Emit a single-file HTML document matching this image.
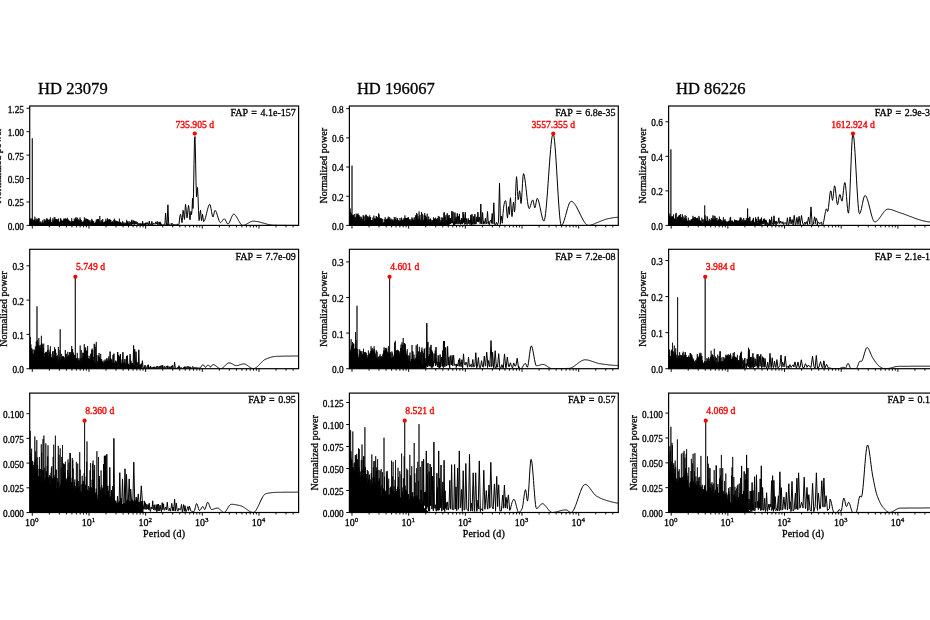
<!DOCTYPE html>
<html lang="en"><head><meta charset="utf-8"><title>Periodograms</title>
<style>
html,body{margin:0;padding:0;background:#fff;}
body{width:930px;height:620px;overflow:hidden;}
svg{display:block;font-family:"Liberation Serif", "DejaVu Serif", serif;}
text{fill:#000;stroke:#000;stroke-width:0.3px;}
text.r{fill:#f00;stroke:#f00;stroke-width:0.35px;}
</style></head><body>

<svg width="930" height="620" viewBox="0 0 930 620">
<rect width="930" height="620" fill="#fff"/>
<text x="38.1" y="94.1" font-size="16.6" style="stroke-width:0.3px">HD 23079</text>
<text x="356.9" y="94.1" font-size="16.6" style="stroke-width:0.3px">HD 196067</text>
<text x="676.0" y="94.1" font-size="16.6" style="stroke-width:0.3px">HD 86226</text>
<g>
<clipPath id="c00"><rect x="29.70" y="106.00" width="268.90" height="119.40"/></clipPath>
<path d="M29.7 225.4L29.7 220.9L30.6 220.6L31.3 221.1L32.2 220.8L33.1 221.1L34.0 221.5L35.0 221.2L35.9 221.2L36.7 221.2L37.4 221.5L38.4 222.1L39.3 222.9L40.0 223.3L40.8 223.6L41.7 223.6L42.7 223.8L43.3 223.9L44.0 223.3L44.6 222.8L45.4 222.2L46.4 221.6L47.1 221.3L48.1 221.0L48.9 221.8L49.5 222.0L50.4 222.5L51.4 222.9L52.3 223.5L53.3 223.0L54.3 220.8L55.3 220.5L56.2 219.8L57.0 220.8L57.7 221.9L58.5 222.1L59.3 222.6L60.3 222.5L61.1 222.1L62.1 222.0L63.0 221.5L63.9 220.5L64.7 220.2L65.3 220.4L66.1 220.4L66.9 220.4L67.8 220.0L68.4 221.4L69.3 222.2L70.0 222.0L70.8 221.9L71.6 222.3L72.4 222.7L73.4 222.0L74.5 221.5L75.2 220.8L75.8 221.4L76.6 220.8L77.4 221.1L78.2 222.1L79.1 222.3L79.8 222.4L80.5 222.3L81.3 223.0L81.9 223.0L82.7 222.6L83.6 221.8L84.5 220.9L85.3 220.5L86.0 220.4L87.0 221.1L87.9 221.5L88.6 221.2L89.6 222.0L90.5 222.6L91.6 221.9L92.7 221.5L93.4 222.1L94.0 223.0L94.8 223.6L95.7 223.2L96.7 221.6L97.4 221.2L98.3 220.6L99.3 222.5L100.4 223.7L101.5 223.7L102.1 223.5L102.8 223.5L103.5 223.3L104.5 223.1L105.3 221.8L106.1 221.4L106.7 221.3L107.4 221.0L108.4 221.0L109.0 221.1L109.9 221.0L110.8 221.3L111.8 222.6L112.4 223.0L113.4 223.3L114.2 222.9L114.8 222.5L115.7 222.0L116.4 221.9L117.0 222.7L117.8 222.8L118.5 223.2L119.6 223.2L120.4 223.5L121.3 223.5L122.3 223.9L123.0 223.8L124.1 224.0L124.8 224.2L125.6 224.1L126.3 224.1L127.1 224.4L128.0 224.4L128.7 224.5L129.4 224.6L130.3 224.6L131.3 224.5L132.1 224.8L132.7 224.9L133.6 225.2L134.2 225.3L134.2 225.4Z" fill="#000" stroke="none" clip-path="url(#c00)"/>
<path d="M30.0 225.1L30.0 218.0L30.0 225.3L30.4 224.4L30.4 220.0L30.4 225.3L30.8 224.6L30.8 219.1L30.8 224.1L31.2 224.6L31.2 220.0L31.2 224.0L31.7 224.4L31.7 218.5L31.8 225.2L32.3 225.0L32.3 138.3L32.3 224.9L32.7 224.4L32.7 218.9L32.7 224.3L33.1 224.6L33.1 220.7L33.2 224.2L33.6 224.4L33.6 219.9L33.7 225.2L34.0 224.7L34.1 220.5L34.1 224.9L34.5 224.9L34.5 219.9L34.5 225.3L34.9 224.9L34.9 216.7L35.0 224.3L35.4 224.5L35.4 221.3L35.5 225.0L35.9 224.3L35.9 218.9L36.0 225.1L36.4 225.3L36.5 220.5L36.5 224.7L36.9 225.0L36.9 218.5L37.0 224.1L37.3 224.8L37.3 220.9L37.4 224.9L37.7 224.6L37.8 219.3L37.8 224.9L38.2 224.3L38.3 219.2L38.3 224.7L38.7 224.6L38.7 218.2L38.7 224.5L39.1 225.2L39.1 218.4L39.2 224.6L39.5 225.3L39.6 222.4L39.6 224.9L40.0 224.9L40.1 223.2L40.1 225.3L40.5 225.3L40.5 221.6L40.6 224.9L41.0 225.1L41.0 223.0L41.1 225.2L41.4 225.3L41.4 223.8L41.5 225.3L41.8 225.0L41.9 221.7L41.9 225.3L42.3 225.4L42.3 223.0L42.4 225.4L42.7 225.2L42.7 220.3L42.8 225.0L43.1 225.4L43.2 222.6L43.2 225.2L43.6 224.9L43.6 223.2L43.7 225.1L44.1 225.2L44.1 219.1L44.1 225.0L44.5 224.6L44.6 220.6L44.6 225.2L45.0 224.8L45.0 221.0L45.1 224.9L45.4 224.9L45.5 221.4L45.5 224.9L45.9 225.2L45.9 219.6L45.9 225.0L46.3 225.1L46.3 220.7L46.3 224.8L46.7 225.1L46.7 218.3L46.8 224.5L47.1 224.9L47.2 219.9L47.2 224.7L47.6 225.0L47.6 218.8L47.7 225.3L48.0 224.8L48.1 219.7L48.1 224.9L48.4 224.7L48.5 220.4L48.5 224.4L48.9 224.2L48.9 221.1L49.0 225.3L49.4 224.9L49.4 220.0L49.5 225.2L49.9 224.5L49.9 219.1L49.9 225.0L50.3 225.4L50.4 217.4L50.4 225.1L50.8 225.0L50.8 219.7L50.9 225.4L51.3 224.9L51.3 222.9L51.3 225.1L51.7 225.2L51.7 222.0L51.8 225.1L52.2 225.1L52.3 222.9L52.3 224.8L52.7 224.8L52.8 218.4L52.8 224.9L53.2 224.9L53.2 220.4L53.3 224.6L53.6 224.4L53.7 221.2L53.7 224.3L54.0 224.2L54.1 217.5L54.1 224.5L54.4 224.0L54.5 221.0L54.5 224.2L54.9 224.9L54.9 217.2L55.0 223.9L55.3 225.1L55.4 219.4L55.4 224.4L55.7 224.0L55.8 219.0L55.8 225.2L56.1 224.0L56.2 219.3L56.2 224.1L56.6 224.9L56.7 219.1L56.7 225.1L57.2 225.3L57.2 219.7L57.2 224.9L57.6 225.0L57.6 219.6L57.6 224.6L58.0 224.8L58.0 221.3L58.1 225.1L58.5 225.4L58.5 218.6L58.5 224.9L58.9 224.7L59.0 221.8L59.0 225.0L59.4 224.9L59.5 221.9L59.5 224.5L59.9 224.6L60.0 221.9L60.0 225.0L60.4 225.0L60.4 218.3L60.5 224.8L60.9 224.4L60.9 218.6L61.0 224.6L61.4 224.7L61.4 220.3L61.5 225.2L61.9 224.6L61.9 220.5L62.0 224.9L62.4 224.5L62.4 221.0L62.5 225.1L62.8 224.7L62.8 221.4L62.9 225.0L63.2 224.2L63.3 220.1L63.3 225.1L63.7 224.5L63.8 218.6L63.8 224.4L64.1 224.2L64.2 219.4L64.2 224.1L64.5 223.8L64.6 219.4L64.6 223.9L65.0 225.3L65.0 218.6L65.1 224.4L65.5 224.6L65.5 218.4L65.6 223.6L65.9 223.6L66.0 218.8L66.0 225.1L66.4 224.9L66.5 219.1L66.5 224.6L66.9 224.2L66.9 219.1L67.0 223.8L67.4 225.1L67.4 217.8L67.5 225.3L67.9 224.8L67.9 220.2L68.0 224.8L68.4 225.2L68.4 219.6L68.4 225.1L68.9 224.4L68.9 220.8L69.0 224.2L69.4 225.0L69.4 220.7L69.4 224.7L69.8 225.1L69.8 221.7L69.9 224.4L70.3 224.6L70.4 221.8L70.4 224.5L70.8 224.6L70.8 221.4L70.9 224.5L71.3 224.8L71.3 222.3L71.3 224.8L71.7 225.4L71.7 218.2L71.7 225.3L72.1 224.6L72.1 221.8L72.1 225.3L72.5 225.2L72.5 221.6L72.6 225.0L72.9 224.8L72.9 220.9L73.0 224.8L73.4 224.7L73.4 221.4L73.5 224.7L73.8 224.3L73.9 221.1L73.9 225.1L74.3 224.2L74.3 218.6L74.3 224.5L74.7 224.5L74.8 219.8L74.8 224.0L75.2 225.1L75.2 219.8L75.2 224.0L75.6 224.4L75.6 218.0L75.7 224.7L76.1 225.1L76.1 217.1L76.2 225.2L76.6 224.2L76.6 219.5L76.6 225.2L77.0 224.3L77.0 219.6L77.0 224.7L77.5 225.2L77.5 217.8L77.5 224.4L78.0 225.2L78.0 220.2L78.1 224.8L78.4 224.7L78.5 219.4L78.5 224.6L78.9 225.0L79.0 222.3L79.0 224.5L79.4 224.6L79.5 220.3L79.5 224.4L79.9 224.7L80.0 217.5L80.0 224.6L80.4 225.2L80.4 219.0L80.4 225.1L80.8 224.7L80.8 222.1L80.9 225.1L81.3 225.0L81.3 220.0L81.4 224.8L81.8 225.4L81.9 222.1L81.9 224.6L82.3 224.9L82.4 221.7L82.4 225.1L82.9 225.1L82.9 222.4L82.9 225.1L83.4 225.0L83.4 221.5L83.5 225.3L83.9 224.8L83.9 220.6L84.0 225.1L84.4 225.0L84.4 217.4L84.4 224.6L84.8 225.2L84.8 220.1L84.9 224.3L85.3 225.0L85.4 219.7L85.4 224.1L85.8 224.4L85.8 218.4L85.9 225.0L86.3 224.6L86.3 218.9L86.4 224.6L86.8 224.7L86.9 219.0L86.9 224.2L87.3 224.9L87.4 219.0L87.4 223.8L87.8 225.0L87.9 219.3L87.9 224.0L88.3 224.3L88.4 220.2L88.4 224.1L88.9 224.5L88.9 220.4L88.9 224.3L89.3 225.1L89.4 221.2L89.4 225.4L89.9 224.6L89.9 220.1L90.0 224.7L90.4 224.9L90.4 222.2L90.4 224.8L90.8 225.2L90.9 222.0L90.9 224.4L91.3 225.1L91.3 220.9L91.3 224.9L91.7 224.8L91.8 218.9L91.8 225.2L92.3 224.8L92.3 220.2L92.4 225.1L92.8 225.1L92.8 221.1L92.9 224.9L93.2 225.4L93.3 221.6L93.3 224.5L93.7 224.5L93.7 221.2L93.7 225.2L94.2 224.9L94.3 223.1L94.3 225.3L94.7 224.9L94.7 222.9L94.8 225.1L95.3 224.9L95.3 223.3L95.3 225.2L95.7 225.4L95.8 221.7L95.8 225.3L96.2 224.9L96.3 219.5L96.3 225.1L96.7 224.2L96.7 221.3L96.7 224.9L97.1 225.4L97.1 219.5L97.2 223.9L97.6 224.7L97.7 219.1L97.7 224.3L98.2 225.2L98.2 219.1L98.2 224.1L98.6 224.4L98.7 219.4L98.7 224.0L99.1 225.3L99.1 221.4L99.2 225.1L99.8 225.0L99.8 216.0L99.8 225.2L100.3 224.8L100.4 222.8L100.4 224.9L100.8 225.2L100.9 220.7L100.9 224.9L101.3 225.2L101.3 222.6L101.3 225.1L101.7 225.0L101.8 220.1L101.8 225.3L102.2 225.4L102.3 221.2L102.3 225.2L102.7 225.2L102.7 219.0L102.7 224.9L103.1 225.1L103.1 222.9L103.2 225.0L103.6 224.9L103.6 222.0L103.6 224.7L104.0 225.2L104.1 223.0L104.1 225.4L104.5 224.8L104.5 222.1L104.6 225.1L104.9 224.9L105.0 221.4L105.0 225.3L105.4 225.3L105.5 220.7L105.5 224.7L105.9 225.0L105.9 218.8L106.0 224.1L106.4 225.3L106.5 220.9L106.5 224.6L107.0 225.4L107.0 221.0L107.0 225.0L107.4 224.0L107.5 218.3L107.5 224.5L108.0 224.4L108.0 219.7L108.0 225.0L108.4 225.1L108.5 219.6L108.5 224.1L108.9 225.0L109.0 220.7L109.0 224.0L109.4 224.0L109.5 219.2L109.5 224.0L109.9 225.2L110.0 219.7L110.0 224.5L110.4 224.3L110.4 219.9L110.4 224.1L110.8 224.6L110.8 220.0L110.9 224.8L111.4 224.5L111.4 222.0L111.4 224.7L111.9 224.8L111.9 222.7L112.0 224.7L112.4 225.3L112.4 221.2L112.5 225.1L112.9 224.9L112.9 221.9L112.9 224.9L113.4 224.9L113.5 222.8L113.5 225.1L113.9 224.8L113.9 220.1L113.9 225.3L114.3 225.3L114.4 218.7L114.4 225.3L114.8 225.2L114.9 219.9L114.9 224.9L115.4 225.4L115.4 221.6L115.5 224.6L115.9 224.5L115.9 220.7L116.0 224.5L116.3 224.5L116.4 221.3L116.4 224.6L116.9 224.8L116.9 221.0L116.9 225.2L117.4 225.4L117.4 221.6L117.5 225.0L117.9 225.2L118.0 221.4L118.0 224.9L118.4 225.3L118.5 222.2L118.5 225.0L118.9 225.2L118.9 222.0L119.0 225.0L119.3 224.8L119.4 218.6L119.4 225.0L119.9 225.3L119.9 222.3L120.0 225.1L120.4 225.0L120.5 221.9L120.5 225.0L121.0 225.3L121.0 222.4L121.1 225.1L121.6 224.9L121.6 223.4L121.6 225.3L122.1 225.2L122.1 223.3L122.1 224.9L122.6 225.4L122.6 221.0L122.7 225.3L123.3 224.9L123.3 223.2L123.3 225.3L123.9 225.4L124.0 222.1L124.0 225.1L124.6 225.3L124.7 223.6L124.7 225.4L125.2 225.2L125.3 223.3L125.3 225.2L125.9 225.3L125.9 222.5L126.0 225.0L126.6 225.0L126.6 219.8L126.6 225.3L127.1 224.8" fill="none" stroke="#000" stroke-width="0.72" stroke-linejoin="round" clip-path="url(#c00)"/>
<path d="M127.1 224.8L127.4 221.5L127.7 224.9L127.5 224.8L127.9 223.1L128.2 224.8L128.6 224.9L129.0 221.4L129.3 224.7L129.3 224.7L129.7 223.6L130.1 224.6L130.4 223.8L130.8 221.9L131.2 223.8L131.0 224.1L131.4 221.3L131.8 224.7L131.6 224.8L131.9 219.8L132.3 223.0L132.3 223.7L132.7 223.0L133.1 224.1L133.1 223.7L133.6 220.5L134.0 224.2L134.2 224.8L134.7 221.0L135.1 224.0L135.5 224.0L136.0 221.3L136.4 223.8L136.8 224.1L137.2 222.1L137.7 223.8L137.9 225.1L138.4 223.4L138.9 224.8L139.3 224.8L139.8 223.4L140.2 224.3L140.0 225.1L140.5 223.5L141.0 225.2L141.4 225.1L141.9 223.5L142.4 225.1L142.1 225.2L142.6 221.2L143.2 225.1L143.5 224.9L144.1 223.3L144.6 225.0L144.8 224.6L145.4 223.1L145.9 225.1L145.5 224.1L146.1 222.5L146.7 223.9L147.2 224.6L147.7 222.6L148.3 224.6L148.7 224.9L149.3 221.0L149.9 224.9L150.4 225.2L151.0 223.8L151.6 224.5L151.2 224.3L151.9 221.4L152.5 225.0L153.0 224.7L153.6 223.0L154.2 223.7L154.9 224.4L155.6 221.9L156.2 223.5L156.5 224.0L157.2 221.4L157.9 225.0L158.4 223.7L159.1 221.9L159.8 224.1L159.4 224.6L160.1 221.9L160.8 224.9L160.6 224.4L161.3 223.8L162.1 225.1L162.8 225.0L163.6 224.6L164.3 225.2L164.8 225.2L165.6 213.2L166.4 224.8L166.1 224.8L166.8 223.4L167.6 224.9L167.1 224.9L167.9 204.8L168.7 224.2L168.3 224.6L169.1 224.2L169.9 224.6L170.4 224.3L171.3 223.4L172.1 224.8L171.5 224.8L172.4 223.5L173.2 224.7L174.1 224.9L174.9 224.6L175.8 225.0L176.4 225.2L177.3 223.9L178.2 225.1L179.0 224.5L179.5 219.0L180.0 215.6L180.5 214.2L181.0 215.8L181.5 220.1L182.0 222.6L182.5 217.6L183.0 210.4L183.5 211.1L184.0 217.2L184.5 219.4L185.0 210.9L185.5 204.3L186.0 207.9L186.5 214.5L187.0 217.9L187.5 214.9L188.0 209.2L188.5 205.4L189.0 208.2L189.5 215.7L190.0 219.8L190.5 215.4L191.0 211.3L191.5 214.6L192.0 210.7L192.5 198.3L193.0 208.5L193.5 193.9L194.0 164.3L194.5 139.1L195.0 136.5L195.5 156.0L196.0 181.6L196.5 196.9L197.0 191.8L197.5 187.4L198.0 196.4L198.5 210.4L199.0 220.6L199.5 219.6L200.0 212.7L200.5 210.2L201.0 215.6L201.5 220.6L202.0 217.8L202.5 214.2L203.0 217.6L203.5 221.5L204.0 221.4L204.5 220.6L205.0 219.3L205.5 217.7L206.0 215.8L206.5 213.7L207.0 211.6L207.5 209.6L208.0 207.8L208.5 206.2L209.0 205.1L209.5 204.4L210.0 204.5L210.5 206.0L211.0 208.5L211.5 211.4L212.0 214.2L212.5 216.2L213.0 217.0L213.5 215.8L214.0 213.5L214.5 211.3L215.0 210.4L215.5 210.7L216.0 211.5L216.5 212.7L217.0 214.2L217.5 215.8L218.0 217.4L218.5 219.0L219.0 220.5L219.5 221.6L220.0 222.3L220.5 222.6L221.0 222.4L221.5 221.9L222.0 221.2L222.5 220.5L223.0 219.8L223.5 219.2L224.0 218.9L224.5 218.9L225.0 219.4L225.5 220.2L226.0 221.2L226.5 222.2L227.0 223.1L227.5 223.8L228.0 224.0L228.5 223.7L229.0 223.1L229.5 222.2L230.0 221.1L230.5 219.9L231.0 218.6L231.5 217.3L232.0 216.2L232.5 215.2L233.0 214.5L233.5 214.2L234.0 214.2L234.5 214.4L235.0 214.8L235.5 215.4L236.0 216.1L236.5 216.8L237.0 217.7L237.5 218.6L238.0 219.5L238.5 220.4L239.1 221.4L239.6 222.2L240.1 223.1L240.6 223.8L241.1 224.4L241.6 224.9L242.1 225.2L242.6 225.4L243.1 225.4L243.6 225.3L244.1 225.2L244.6 225.1L245.1 224.9L245.6 224.6L246.1 224.4L246.6 224.1L247.1 223.8L247.6 223.5L248.1 223.2L248.6 222.9L249.1 222.6L249.6 222.4L250.1 222.1L250.6 221.8L251.1 221.6L251.6 221.5L252.1 221.3L252.6 221.2L253.1 221.2L253.6 221.2L254.1 221.2L254.6 221.2L255.1 221.3L255.6 221.3L256.1 221.4L256.6 221.5L257.1 221.5L257.6 221.6L258.1 221.7L258.6 221.8L259.1 221.9L259.6 222.1L260.1 222.2L260.6 222.3L261.1 222.4L261.6 222.6L262.1 222.7L262.6 222.9L263.1 223.0L263.6 223.2L264.1 223.3L264.6 223.4L265.1 223.6L265.6 223.7L266.1 223.9L266.6 224.0L267.1 224.1L267.6 224.3L268.1 224.4L268.6 224.5L269.1 224.6L269.6 224.7L270.1 224.8L270.6 224.9L271.1 225.0L271.6 225.0L272.1 225.1L272.6 225.1L273.1 225.2L273.6 225.2L274.1 225.2L274.6 225.2L275.1 225.2L275.6 225.2L276.1 225.2L276.6 225.2L277.1 225.3L277.6 225.3L278.1 225.3L278.6 225.3L279.1 225.3L279.6 225.3L280.1 225.3L280.6 225.3L281.1 225.3L281.6 225.3L282.1 225.3L282.6 225.3L283.1 225.3L283.6 225.3L284.1 225.3L284.6 225.3L285.1 225.3L285.6 225.3L286.1 225.4L286.6 225.4L287.1 225.4L287.6 225.4L288.1 225.4L288.6 225.4L289.1 225.4L289.6 225.4L290.1 225.4L290.6 225.4L291.1 225.4L291.6 225.4L292.1 225.4L292.6 225.4L293.1 225.4L293.6 225.4L294.1 225.4L294.6 225.4L295.1 225.4L295.6 225.4L296.1 225.4L296.6 225.4L297.1 225.4L297.6 225.4L298.1 225.4L298.6 225.4" fill="none" stroke="#000" stroke-width="1.00" stroke-linejoin="round" clip-path="url(#c00)"/>
<rect x="29.70" y="106.00" width="268.90" height="119.40" fill="none" stroke="#000" stroke-width="1.20"/>
<text x="24.00" y="229.80" text-anchor="end" font-size="10.0" textLength="16.3" lengthAdjust="spacingAndGlyphs">0.00</text>
<text x="24.00" y="206.38" text-anchor="end" font-size="10.0" textLength="16.3" lengthAdjust="spacingAndGlyphs">0.25</text>
<text x="24.00" y="182.95" text-anchor="end" font-size="10.0" textLength="16.3" lengthAdjust="spacingAndGlyphs">0.50</text>
<text x="24.00" y="159.53" text-anchor="end" font-size="10.0" textLength="16.3" lengthAdjust="spacingAndGlyphs">0.75</text>
<text x="24.00" y="136.10" text-anchor="end" font-size="10.0" textLength="16.3" lengthAdjust="spacingAndGlyphs">1.00</text>
<text x="24.00" y="112.68" text-anchor="end" font-size="10.0" textLength="16.3" lengthAdjust="spacingAndGlyphs">1.25</text>
<path d="M29.70 225.40h-3.2M29.70 201.97h-3.2M29.70 178.55h-3.2M29.70 155.12h-3.2M29.70 131.70h-3.2M29.70 108.28h-3.2M32.29 225.40v3.2M49.35 225.40v2.0M59.33 225.40v2.0M66.41 225.40v2.0M71.91 225.40v2.0M76.39 225.40v2.0M80.19 225.40v2.0M83.47 225.40v2.0M86.37 225.40v2.0M88.97 225.40v3.2M106.03 225.40v2.0M116.01 225.40v2.0M123.09 225.40v2.0M128.58 225.40v2.0M133.07 225.40v2.0M136.86 225.40v2.0M140.15 225.40v2.0M143.05 225.40v2.0M145.64 225.40v3.2M162.70 225.40v2.0M172.68 225.40v2.0M179.76 225.40v2.0M185.25 225.40v2.0M189.74 225.40v2.0M193.53 225.40v2.0M196.82 225.40v2.0M199.72 225.40v2.0M202.31 225.40v3.2M219.37 225.40v2.0M229.35 225.40v2.0M236.43 225.40v2.0M241.93 225.40v2.0M246.41 225.40v2.0M250.21 225.40v2.0M253.49 225.40v2.0M256.39 225.40v2.0M258.99 225.40v3.2M276.05 225.40v2.0M286.03 225.40v2.0M293.11 225.40v2.0" stroke="#000" stroke-width="0.95" fill="none"/>
<text transform="translate(1.20 165.70) rotate(-90)" text-anchor="middle" font-size="10.0" style="letter-spacing:0.05px">Normalized power</text>
<text x="295.80" y="116.30" text-anchor="end" font-size="10.0" style="word-spacing:1.1px">FAP = 4.1e-157</text>
<circle cx="194.77" cy="133.55" r="2.1" fill="#f00"/>
<text x="194.77" y="127.95" text-anchor="middle" font-size="9.7" class="r">735.905 d</text>
</g>
<g>
<clipPath id="c10"><rect x="349.40" y="106.00" width="268.90" height="119.40"/></clipPath>
<path d="M349.4 225.4L349.4 215.7L350.1 216.3L351.2 216.9L351.9 218.2L352.7 219.9L353.6 219.6L354.6 219.4L355.5 219.9L356.5 217.8L357.6 214.9L358.3 215.1L359.4 217.8L360.4 220.0L361.4 221.2L362.2 221.3L363.1 221.8L363.9 221.6L364.7 221.8L365.4 222.4L366.1 222.0L366.9 221.5L367.5 220.7L368.3 219.8L369.4 219.6L370.4 220.0L371.4 220.7L372.0 221.5L372.9 222.1L373.6 222.4L374.4 221.2L375.1 220.0L375.9 218.9L376.6 218.4L377.6 218.4L378.4 219.4L379.4 218.3L380.2 220.6L380.9 222.6L381.7 222.9L382.7 223.4L383.4 223.1L384.3 222.9L385.3 221.9L386.3 220.6L387.3 220.5L388.4 221.2L389.2 220.5L390.0 220.4L390.9 220.8L391.7 221.2L392.6 221.8L393.3 221.9L393.9 222.2L394.9 221.5L395.7 221.6L396.7 222.2L397.5 222.3L398.2 222.7L399.2 223.3L400.2 223.0L401.3 222.1L402.2 221.3L403.1 221.0L404.1 219.0L405.2 218.8L406.3 220.0L406.9 220.3L407.5 220.1L408.3 220.6L409.2 220.8L410.1 221.2L411.1 221.7L411.9 221.3L412.8 221.5L413.9 221.8L414.8 221.2L415.7 220.4L416.6 220.0L417.6 219.9L418.5 219.5L419.1 219.7L420.1 220.9L420.9 221.7L421.5 222.2L422.2 222.5L423.1 221.1L423.8 220.4L424.5 218.2L425.3 218.6L426.3 218.7L427.1 219.6L428.0 221.8L428.8 222.5L429.8 222.6L430.7 222.8L431.7 222.3L432.5 221.4L433.5 220.7L434.3 219.9L434.9 218.6L435.8 220.3L436.6 222.4L437.6 223.5L438.6 223.6L439.5 223.8L440.3 223.4L441.3 222.6L442.2 222.2L443.3 222.0L444.3 222.9L445.0 222.9L445.8 223.7L446.6 224.3L447.4 224.8L448.4 225.2L449.2 225.3L449.2 225.4Z" fill="#000" stroke="none" clip-path="url(#c10)"/>
<path d="M349.7 223.6L349.7 211.2L349.7 225.3L350.1 222.7L350.2 208.5L350.2 222.8L350.6 223.9L350.6 212.5L350.6 222.7L351.0 223.7L351.1 215.4L351.1 224.2L351.4 224.1L351.5 213.1L351.5 223.9L352.0 225.3L352.0 165.6L352.0 222.9L352.5 223.9L352.5 215.1L352.5 224.4L352.9 223.8L352.9 216.0L352.9 225.3L353.4 224.5L353.4 214.9L353.4 224.5L353.9 223.8L353.9 216.9L353.9 224.6L354.3 224.3L354.3 214.0L354.4 224.9L354.8 224.2L354.9 218.2L354.9 224.3L355.2 224.1L355.2 218.3L355.3 224.2L355.7 223.9L355.7 217.0L355.8 225.3L356.1 224.4L356.2 213.6L356.2 223.2L356.6 223.6L356.7 216.1L356.7 223.6L357.2 223.9L357.2 213.9L357.2 224.5L357.6 222.9L357.6 215.3L357.7 224.2L358.1 224.1L358.1 213.5L358.2 223.5L358.6 223.7L358.6 215.9L358.6 224.4L359.1 224.5L359.1 215.0L359.1 222.8L359.6 223.4L359.6 216.9L359.6 224.1L360.0 223.9L360.0 216.8L360.1 224.6L360.5 224.3L360.5 219.1L360.6 225.2L361.0 224.3L361.0 216.6L361.0 224.6L361.3 224.2L361.4 218.7L361.4 225.3L361.8 225.4L361.9 217.7L361.9 224.9L362.4 224.9L362.4 221.4L362.4 224.8L362.8 225.4L362.8 219.2L362.8 225.1L363.2 225.1L363.2 215.0L363.3 224.6L363.6 225.1L363.6 216.5L363.7 224.7L364.1 225.1L364.1 216.3L364.1 224.6L364.5 224.6L364.5 220.5L364.5 225.1L364.9 224.3L364.9 221.8L365.0 225.0L365.4 224.9L365.4 214.8L365.5 225.2L365.8 224.7L365.9 221.7L365.9 225.3L366.3 224.9L366.3 214.7L366.3 224.4L366.7 224.7L366.8 216.3L366.8 224.2L367.2 225.2L367.3 217.7L367.3 225.1L367.8 225.1L367.8 215.9L367.8 224.7L368.2 224.9L368.2 217.2L368.2 225.1L368.7 224.1L368.7 217.5L368.8 225.4L369.1 224.0L369.1 217.9L369.2 223.7L369.6 224.9L369.7 215.4L369.7 223.9L370.1 224.6L370.2 217.2L370.2 225.1L370.6 225.2L370.6 217.3L370.7 224.9L371.0 224.7L371.1 220.3L371.1 225.4L371.4 224.2L371.5 220.3L371.5 225.3L372.0 224.8L372.0 221.7L372.0 224.3L372.4 224.8L372.5 220.1L372.5 225.3L372.9 225.0L372.9 217.5L373.0 225.1L373.4 225.2L373.4 221.6L373.4 225.3L373.8 225.1L373.9 215.6L373.9 225.0L374.4 225.1L374.4 218.3L374.5 224.3L374.8 224.3L374.8 218.4L374.9 224.2L375.2 224.6L375.3 219.1L375.3 224.6L375.7 224.7L375.7 218.7L375.8 224.0L376.1 223.8L376.2 216.0L376.2 223.8L376.6 223.6L376.6 216.5L376.6 224.3L377.1 224.4L377.1 217.9L377.1 225.3L377.6 223.8L377.6 217.2L377.7 224.4L378.1 223.6L378.1 217.3L378.1 225.4L378.6 225.0L378.6 213.3L378.7 223.5L379.0 223.5L379.1 214.5L379.1 223.9L379.4 223.8L379.5 217.4L379.5 223.6L379.9 224.8L380.0 218.2L380.0 225.3L380.5 224.6L380.5 218.6L380.5 224.5L380.9 224.4L381.0 218.0L381.0 225.3L381.5 224.6L381.5 218.6L381.5 224.7L381.9 225.1L382.0 222.6L382.0 225.1L382.3 225.1L382.4 218.9L382.4 225.2L382.7 225.4L382.8 222.5L382.8 225.2L383.3 225.2L383.3 223.4L383.3 225.1L383.8 224.8L383.8 222.2L383.9 225.2L384.2 224.6L384.2 219.2L384.3 224.7L384.7 225.2L384.7 222.5L384.8 224.6L385.2 225.0L385.2 217.2L385.2 225.3L385.7 225.2L385.7 220.0L385.7 224.4L386.1 224.0L386.1 218.9L386.1 224.9L386.6 224.3L386.6 219.6L386.7 224.8L387.0 224.8L387.1 219.6L387.1 224.8L387.5 224.0L387.5 219.6L387.5 225.1L387.9 224.3L387.9 218.2L387.9 224.8L388.3 224.8L388.3 216.6L388.3 225.3L388.7 224.9L388.7 219.8L388.8 225.2L389.2 224.3L389.3 218.7L389.3 223.9L389.7 225.2L389.7 217.2L389.7 224.1L390.1 224.6L390.1 220.0L390.2 224.3L390.5 224.3L390.6 219.5L390.6 224.6L391.0 224.8L391.0 218.6L391.0 224.6L391.4 225.4L391.5 220.6L391.5 224.9L391.9 224.8L392.0 219.5L392.0 224.5L392.4 225.0L392.4 219.7L392.5 224.3L392.8 224.3L392.9 220.9L392.9 224.6L393.2 224.8L393.3 221.0L393.3 224.6L393.8 224.6L393.8 219.6L393.8 225.4L394.2 224.9L394.3 217.0L394.3 225.3L394.7 225.3L394.8 219.8L394.8 225.3L395.2 225.0L395.3 219.0L395.3 224.6L395.7 224.8L395.8 217.2L395.8 224.2L396.2 225.3L396.2 220.3L396.3 225.2L396.7 224.7L396.7 220.6L396.8 225.4L397.2 224.5L397.2 218.0L397.2 224.8L397.6 225.0L397.6 218.5L397.6 224.4L398.1 225.4L398.1 222.3L398.2 224.9L398.6 224.7L398.6 220.0L398.6 224.9L399.0 225.2L399.0 222.1L399.1 224.7L399.4 225.2L399.5 221.1L399.5 225.2L399.9 225.0L400.0 218.0L400.0 224.8L400.4 224.8L400.4 221.3L400.5 225.4L400.9 224.5L400.9 220.0L400.9 224.7L401.4 224.7L401.4 217.6L401.5 224.9L401.8 225.3L401.9 218.6L401.9 224.8L402.3 225.0L402.3 220.0L402.4 225.2L402.8 225.2L402.9 220.3L402.9 225.1L403.3 224.0L403.4 219.8L403.4 224.6L403.8 223.8L403.9 218.5L403.9 225.3L404.3 224.2L404.3 218.1L404.4 224.0L404.9 223.9L404.9 215.4L404.9 223.6L405.4 224.3L405.4 217.9L405.5 224.6L405.9 224.7L405.9 218.1L406.0 224.4L406.3 224.9L406.4 218.4L406.4 224.4L406.8 225.0L406.9 218.5L406.9 225.2L407.3 225.3L407.3 217.8L407.4 225.1L407.7 223.6L407.8 218.0L407.8 224.8L408.3 224.9L408.3 217.0L408.3 224.0L408.8 224.4L408.8 218.8L408.9 224.6L409.3 224.1L409.4 219.4L409.4 225.2L409.7 225.3L409.8 220.3L409.8 225.1L410.3 224.1L410.3 220.9L410.4 225.3L410.8 225.4L410.9 219.2L410.9 225.4L411.3 224.7L411.3 220.6L411.4 225.3L411.8 224.5L411.9 217.3L411.9 224.6L412.2 224.9L412.3 219.2L412.3 224.9L412.7 225.2L412.8 218.4L412.8 224.3L413.2 224.3L413.2 219.7L413.3 224.6L413.7 224.2L413.7 220.3L413.8 225.3L414.2 224.3L414.3 217.2L414.3 224.3L414.7 224.4L414.8 219.3L414.8 224.5L415.2 225.3L415.3 220.7L415.3 225.3L415.7 224.9L415.7 215.3L415.8 224.0L416.2 225.1L416.2 215.1L416.2 225.0L416.6 225.1L416.7 213.0L416.7 224.6L417.1 224.2L417.1 214.1L417.1 224.5L417.5 224.3L417.5 218.8L417.6 224.2L418.0 225.2L418.0 216.3L418.1 224.9L418.6 224.1L418.6 219.2L418.6 224.1L419.0 223.7L419.1 211.5L419.1 224.9L419.5 224.1L419.6 218.2L419.6 225.1L420.0 224.9L420.0 214.9L420.1 225.2L420.5 224.2L420.6 220.9L420.6 224.6L421.0 224.9L421.0 219.4L421.0 225.0L421.5 224.6L421.5 212.0L421.6 225.3L422.0 225.0L422.1 220.0L422.1 224.3L422.5 224.6L422.6 213.8L422.6 224.8L423.1 224.6L423.1 221.0L423.1 224.2L423.5 225.2L423.6 219.7L423.6 224.9L424.1 224.9L424.1 215.4L424.2 224.5L424.6 224.6L424.7 213.0L424.7 223.8L425.1 223.1L425.2 215.5L425.2 224.4L425.6 224.2L425.7 215.9L425.7 225.0L426.1 223.3L426.2 217.2L426.2 225.1L426.6 225.0L426.6 217.8L426.7 224.7L427.1 224.4L427.2 213.7L427.2 224.5L427.6 224.5L427.6 220.3L427.6 225.1L428.1 224.2L428.2 221.5L428.2 224.9L428.6 224.6L428.7 216.5L428.7 225.4L429.0 224.9L429.1 219.1L429.1 224.7L429.5 224.9L429.6 222.1L429.6 225.0L430.0 225.3L430.0 219.5L430.0 225.3L430.4 225.3L430.4 218.5L430.5 224.5L430.9 225.0L431.0 219.6L431.0 225.4L431.4 224.9L431.5 221.8L431.5 224.9L431.9 225.3L432.0 220.1L432.0 224.5L432.4 224.4L432.5 221.7L432.5 224.5L432.9 224.0L432.9 219.9L433.0 224.9L433.4 224.8L433.5 217.4L433.5 225.0L433.9 224.7L433.9 218.3L434.0 224.0L434.5 223.9L434.5 218.8L434.5 223.4L435.0 224.4L435.0 219.1L435.1 225.4L435.5 224.5L435.5 217.7L435.6 224.2L436.0 224.2L436.0 220.4L436.1 225.0L436.5 224.4L436.5 219.3L436.5 225.2L437.0 225.3L437.1 218.4L437.1 224.9L437.6 224.9L437.7 218.3L437.7 225.0L438.2 224.8L438.3 215.9L438.3 225.0L438.8 224.8L438.8 219.1L438.9 225.0L439.4 225.1L439.5 216.7L439.5 225.2L440.1 224.7L440.1 222.5L440.1 224.6L440.6 225.0L440.7 220.3L440.7 224.5L441.2 225.0L441.2 217.4L441.3 224.2L441.8 224.9L441.8 220.3L441.8 224.1L442.4 224.7L442.4 217.6L442.5 224.3L443.0 224.9L443.1 218.1L443.1 225.4L443.7 224.4L443.8 212.6L443.8 224.9L444.5 224.7L444.5 212.3L444.5 224.0L445.2 223.4L445.2 217.0L445.3 223.9L445.8 225.0L445.8 215.2L445.9 224.9L446.5 224.8L446.5 220.1L446.6 224.9L446.8 224.6" fill="none" stroke="#000" stroke-width="0.72" stroke-linejoin="round" clip-path="url(#c10)"/>
<path d="M446.8 224.6L447.2 213.4L447.5 223.6L447.7 224.9L448.1 216.4L448.4 224.9L448.7 223.9L449.0 215.0L449.4 224.4L449.3 224.4L449.7 218.4L450.0 223.7L449.9 223.7L450.3 218.1L450.6 224.0L450.6 223.6L450.9 221.8L451.3 222.9L451.5 223.1L451.9 211.1L452.2 223.0L452.6 223.0L453.0 211.8L453.3 222.6L453.5 224.8L453.9 222.0L454.2 224.0L454.0 224.4L454.4 222.6L454.8 224.7L454.5 223.5L454.9 212.6L455.3 222.2L455.7 223.9L456.1 216.8L456.5 223.6L456.9 222.9L457.3 213.4L457.7 221.8L458.0 224.1L458.4 216.3L458.9 221.2L459.0 224.0L459.4 213.9L459.8 222.8L459.8 221.6L460.2 220.2L460.6 224.3L461.0 222.2L461.4 218.2L461.8 223.0L461.7 223.8L462.1 219.4L462.6 222.5L462.6 224.1L463.0 212.0L463.5 222.3L463.2 222.9L463.7 214.5L464.1 221.3L464.0 221.8L464.5 218.3L464.9 224.5L464.8 221.9L465.3 212.2L465.7 222.7L466.0 224.0L466.5 218.6L467.0 224.6L467.6 223.7L468.2 218.4L468.7 223.7L469.1 224.0L469.7 220.1L470.2 224.6L470.3 223.7L470.9 214.9L471.5 224.5L471.4 225.0L472.0 214.3L472.5 224.1L473.2 224.6L473.8 216.3L474.4 224.2L474.3 222.4L474.9 214.2L475.5 224.0L476.2 223.9L476.8 216.9L477.5 221.7L477.3 221.5L477.9 212.1L478.6 221.9L479.0 222.1L479.7 217.1L480.4 222.4L480.1 223.7L480.8 204.0L481.5 224.0L481.9 223.6L482.6 212.5L483.3 223.5L483.1 224.2L483.8 221.3L484.6 223.1L484.6 223.6L485.4 218.4L486.1 224.0L486.7 223.2L487.5 211.5L488.3 223.7L487.8 223.1L488.6 221.5L489.4 224.8L489.7 222.1L490.6 220.1L491.4 222.5L491.3 223.4L492.2 213.5L493.0 223.9L492.9 222.4L493.8 202.8L494.7 224.4L495.6 224.8L496.5 222.4L497.5 224.8L498.5 222.1L499.5 183.1L500.5 224.4L500.2 224.2L501.3 216.1L502.3 223.2L502.5 221.0L503.0 213.7L503.5 208.4L504.0 204.7L504.5 202.4L505.0 201.1L505.5 200.6L506.0 201.9L506.5 208.0L507.0 214.9L507.5 218.1L508.0 212.9L508.5 206.7L509.0 211.0L509.5 214.4L510.0 201.3L510.5 197.8L511.0 204.5L511.5 212.8L512.0 216.6L512.5 212.6L513.0 205.6L513.5 202.1L514.0 206.7L514.5 212.1L515.0 208.2L515.5 196.5L516.0 183.7L516.5 176.7L517.0 180.7L517.5 191.4L518.0 199.8L518.5 199.3L519.0 194.7L519.5 190.8L520.0 192.5L520.5 199.6L521.0 203.5L521.5 200.0L522.0 192.4L522.5 183.5L523.0 176.3L523.5 173.6L524.0 174.5L524.5 176.7L525.0 179.9L525.5 183.8L526.0 188.3L526.5 192.9L527.0 197.4L527.5 201.5L528.0 204.9L528.5 207.3L529.0 208.5L529.5 208.4L530.0 207.3L530.5 205.7L531.0 203.9L531.5 202.1L532.1 200.7L532.6 199.9L533.1 200.5L533.6 202.8L534.1 205.6L534.6 207.6L535.1 207.6L535.6 205.5L536.1 202.5L536.6 199.7L537.1 198.4L537.6 198.7L538.1 199.6L538.6 201.1L539.1 203.0L539.6 205.2L540.1 207.6L540.6 210.0L541.1 212.5L541.6 214.9L542.1 217.0L542.6 218.8L543.1 220.1L543.6 220.9L544.1 220.9L544.6 219.7L545.1 217.1L545.6 213.4L546.1 208.7L546.6 203.1L547.1 196.9L547.6 190.2L548.1 183.3L548.6 176.1L549.1 169.0L549.6 162.1L550.1 155.6L550.6 149.6L551.1 144.3L551.6 139.8L552.1 136.4L552.6 134.3L553.1 133.5L553.6 134.4L554.1 137.2L554.6 141.5L555.1 147.1L555.6 153.8L556.1 161.3L556.6 169.3L557.1 177.7L557.6 186.1L558.1 194.3L558.6 202.0L559.1 209.1L559.6 215.2L560.1 220.1L560.6 223.5L561.1 225.2L561.6 225.3L562.1 224.9L562.6 224.2L563.1 223.3L563.6 222.0L564.1 220.6L564.6 219.0L565.1 217.3L565.6 215.5L566.1 213.7L566.6 211.9L567.1 210.0L567.6 208.3L568.1 206.7L568.6 205.2L569.1 203.9L569.6 202.8L570.1 202.0L570.6 201.5L571.1 201.3L571.6 201.4L572.1 201.6L572.6 201.8L573.1 202.2L573.6 202.7L574.1 203.3L574.6 203.9L575.1 204.6L575.6 205.4L576.1 206.2L576.6 207.1L577.1 208.0L577.6 209.0L578.1 209.9L578.6 211.0L579.1 212.0L579.6 213.0L580.1 214.1L580.6 215.1L581.1 216.1L581.6 217.1L582.1 218.1L582.6 219.0L583.1 220.0L583.6 220.8L584.1 221.6L584.6 222.4L585.1 223.1L585.6 223.7L586.1 224.2L586.6 224.6L587.1 225.0L587.6 225.2L588.1 225.4L588.6 225.4L589.1 225.4L589.7 225.3L590.2 225.2L590.7 225.1L591.2 225.0L591.7 224.8L592.2 224.7L592.7 224.5L593.2 224.3L593.7 224.1L594.2 223.9L594.7 223.7L595.2 223.4L595.7 223.2L596.2 223.0L596.7 222.8L597.2 222.6L597.7 222.4L598.2 222.2L598.7 222.0L599.2 221.8L599.7 221.6L600.2 221.4L600.7 221.2L601.2 221.0L601.7 220.8L602.2 220.6L602.7 220.4L603.2 220.2L603.7 220.0L604.2 219.8L604.7 219.6L605.2 219.4L605.7 219.3L606.2 219.1L606.7 219.0L607.2 218.9L607.7 218.8L608.2 218.7L608.7 218.6L609.2 218.5L609.7 218.4L610.2 218.3L610.7 218.2L611.2 218.1L611.7 218.0L612.2 217.9L612.7 217.8L613.2 217.7L613.7 217.7L614.2 217.6L614.7 217.5L615.2 217.5L615.7 217.4L616.2 217.4L616.7 217.3L617.2 217.3L617.7 217.3L618.2 217.2L618.7 217.2" fill="none" stroke="#000" stroke-width="1.00" stroke-linejoin="round" clip-path="url(#c10)"/>
<rect x="349.40" y="106.00" width="268.90" height="119.40" fill="none" stroke="#000" stroke-width="1.20"/>
<text x="343.70" y="229.80" text-anchor="end" font-size="10.0" textLength="11.6" lengthAdjust="spacingAndGlyphs">0.0</text>
<text x="343.70" y="200.62" text-anchor="end" font-size="10.0" textLength="11.6" lengthAdjust="spacingAndGlyphs">0.2</text>
<text x="343.70" y="171.44" text-anchor="end" font-size="10.0" textLength="11.6" lengthAdjust="spacingAndGlyphs">0.4</text>
<text x="343.70" y="142.26" text-anchor="end" font-size="10.0" textLength="11.6" lengthAdjust="spacingAndGlyphs">0.6</text>
<text x="343.70" y="113.08" text-anchor="end" font-size="10.0" textLength="11.6" lengthAdjust="spacingAndGlyphs">0.8</text>
<path d="M349.40 225.40h-3.2M349.40 196.22h-3.2M349.40 167.04h-3.2M349.40 137.86h-3.2M349.40 108.68h-3.2M351.99 225.40v3.2M369.05 225.40v2.0M379.03 225.40v2.0M386.11 225.40v2.0M391.61 225.40v2.0M396.09 225.40v2.0M399.89 225.40v2.0M403.17 225.40v2.0M406.07 225.40v2.0M408.67 225.40v3.2M425.73 225.40v2.0M435.71 225.40v2.0M442.79 225.40v2.0M448.28 225.40v2.0M452.77 225.40v2.0M456.56 225.40v2.0M459.85 225.40v2.0M462.75 225.40v2.0M465.34 225.40v3.2M482.40 225.40v2.0M492.38 225.40v2.0M499.46 225.40v2.0M504.95 225.40v2.0M509.44 225.40v2.0M513.23 225.40v2.0M516.52 225.40v2.0M519.42 225.40v2.0M522.01 225.40v3.2M539.07 225.40v2.0M549.05 225.40v2.0M556.13 225.40v2.0M561.63 225.40v2.0M566.11 225.40v2.0M569.91 225.40v2.0M573.19 225.40v2.0M576.09 225.40v2.0M578.69 225.40v3.2M595.75 225.40v2.0M605.73 225.40v2.0M612.81 225.40v2.0" stroke="#000" stroke-width="0.95" fill="none"/>
<text transform="translate(326.50 165.70) rotate(-90)" text-anchor="middle" font-size="10.0" style="letter-spacing:0.05px">Normalized power</text>
<text x="615.50" y="116.30" text-anchor="end" font-size="10.0" style="word-spacing:1.1px">FAP = 6.8e-35</text>
<circle cx="553.25" cy="133.55" r="2.1" fill="#f00"/>
<text x="553.25" y="127.95" text-anchor="middle" font-size="9.7" class="r">3557.355 d</text>
</g>
<g>
<clipPath id="c20"><rect x="668.60" y="106.00" width="268.90" height="119.40"/></clipPath>
<path d="M668.6 225.4L668.6 217.4L669.6 217.8L670.3 218.9L671.0 219.8L671.6 219.6L672.6 220.4L673.3 220.3L674.0 220.6L674.7 220.2L675.6 220.1L676.5 221.2L677.3 220.3L678.1 218.3L679.2 218.2L680.2 219.5L681.3 219.4L682.1 220.1L683.2 220.6L683.9 221.7L684.9 221.2L686.0 221.6L687.0 221.7L688.1 222.7L688.9 222.5L689.8 222.0L690.5 221.8L691.2 220.4L691.9 220.0L692.9 220.4L693.6 219.3L694.6 219.2L695.3 219.9L696.0 219.5L697.1 220.0L698.0 220.7L698.8 222.0L699.4 221.8L700.4 222.1L701.2 222.9L702.0 223.2L702.8 223.3L703.4 223.4L704.4 223.0L705.4 222.0L706.2 221.9L707.2 222.2L708.1 222.5L708.8 223.0L709.6 223.0L710.6 223.1L711.7 222.6L712.4 222.7L713.2 222.2L713.9 220.8L714.7 220.7L715.6 220.6L716.5 222.0L717.3 222.1L718.0 221.9L718.6 222.1L719.4 222.6L720.4 222.6L721.1 222.5L721.7 222.8L722.7 222.3L723.4 222.1L724.2 221.5L725.2 221.7L726.2 222.4L727.0 222.7L727.7 222.7L728.5 221.8L729.5 221.0L730.4 220.8L731.3 222.0L732.4 222.6L733.4 222.5L734.3 221.9L735.3 221.5L735.9 222.3L736.6 221.9L737.4 221.7L738.1 222.1L738.9 221.1L739.9 220.1L740.6 221.1L741.6 220.9L742.6 222.2L743.7 222.2L744.5 221.9L745.5 221.0L746.3 221.2L747.2 221.2L748.2 222.1L749.2 223.9L750.2 224.1L751.0 223.8L752.1 223.3L752.9 223.4L753.5 222.8L754.6 223.0L755.5 223.0L756.4 222.4L757.0 223.0L758.1 223.2L759.0 223.8L759.8 224.3L760.5 224.6L761.2 224.7L762.0 224.9L762.7 225.1L762.7 225.4Z" fill="#000" stroke="none" clip-path="url(#c20)"/>
<path d="M668.9 223.7L668.9 216.4L668.9 223.7L669.3 224.4L669.3 215.8L669.4 223.4L669.8 225.4L669.8 213.6L669.9 223.7L670.2 224.5L670.3 216.6L670.3 223.2L670.9 223.9L670.9 149.4L670.9 223.4L671.3 224.9L671.4 216.4L671.4 224.3L671.8 224.6L671.8 218.0L671.9 225.2L672.2 224.0L672.2 217.0L672.3 224.1L672.6 224.5L672.6 216.3L672.7 224.2L673.1 224.6L673.1 216.5L673.1 225.3L673.5 225.0L673.6 214.4L673.6 224.6L673.9 224.4L674.0 218.6L674.0 223.8L674.4 224.9L674.4 219.3L674.5 224.5L674.8 224.6L674.8 218.6L674.9 225.3L675.3 225.1L675.3 219.6L675.4 225.0L675.7 224.2L675.7 213.9L675.8 225.3L676.1 225.1L676.2 212.9L676.2 224.5L676.6 225.0L676.6 219.7L676.7 224.3L677.0 224.5L677.1 219.3L677.1 223.9L677.4 225.0L677.5 216.9L677.5 224.3L677.8 225.4L677.9 217.3L677.9 224.8L678.3 223.9L678.3 217.0L678.4 223.6L678.7 224.0L678.7 215.9L678.8 223.3L679.2 224.6L679.2 215.4L679.2 225.3L679.6 225.3L679.7 214.9L679.7 223.8L680.1 223.6L680.1 218.5L680.2 223.4L680.6 223.3L680.6 214.1L680.6 224.3L681.0 225.3L681.0 217.5L681.0 224.3L681.4 223.8L681.5 217.5L681.5 223.4L681.9 224.3L681.9 217.7L682.0 224.9L682.3 223.8L682.4 214.3L682.4 224.4L682.7 224.9L682.8 220.4L682.8 224.7L683.2 224.8L683.2 216.5L683.3 224.6L683.6 225.2L683.7 218.9L683.7 225.2L684.1 224.7L684.1 220.2L684.2 225.2L684.5 224.8L684.6 217.8L684.6 224.3L685.1 225.1L685.1 215.2L685.1 224.2L685.5 224.3L685.6 219.6L685.6 224.9L686.0 224.6L686.1 216.0L686.1 224.8L686.4 225.3L686.5 218.8L686.5 224.5L686.9 224.4L686.9 220.0L686.9 224.5L687.4 224.7L687.4 221.2L687.5 224.3L687.8 224.8L687.8 221.3L687.9 225.3L688.3 224.7L688.3 217.7L688.3 224.6L688.7 224.6L688.8 220.7L688.8 225.1L689.2 225.3L689.2 221.6L689.3 225.1L689.7 224.7L689.7 220.3L689.8 225.3L690.2 224.8L690.2 220.7L690.3 224.9L690.7 225.3L690.7 220.9L690.8 224.7L691.1 225.4L691.2 219.2L691.2 224.9L691.6 224.1L691.6 220.3L691.7 224.5L692.0 224.0L692.0 219.1L692.1 224.0L692.4 224.4L692.5 219.1L692.5 224.8L692.9 225.2L692.9 215.8L693.0 224.5L693.3 225.3L693.3 218.1L693.4 224.4L693.7 223.6L693.8 217.8L693.8 224.2L694.2 224.3L694.2 217.3L694.3 224.3L694.6 224.9L694.7 217.3L694.7 224.1L695.1 225.0L695.2 216.9L695.2 225.3L695.5 224.1L695.6 217.8L695.6 224.2L696.0 223.7L696.1 218.4L696.1 224.6L696.4 225.1L696.5 218.5L696.5 224.9L696.9 225.3L696.9 218.2L697.0 225.2L697.4 224.4L697.4 217.8L697.5 224.5L697.9 224.8L698.0 219.3L698.0 224.3L698.4 224.2L698.4 220.1L698.5 224.7L698.8 224.3L698.9 215.9L698.9 224.6L699.3 225.0L699.4 217.5L699.4 224.5L699.8 224.3L699.9 220.1L699.9 224.3L700.3 225.0L700.3 220.8L700.4 225.2L700.7 225.2L700.8 221.1L700.8 225.1L701.3 225.0L701.3 221.8L701.3 224.7L701.7 225.4L701.8 217.7L701.8 224.7L702.2 224.8L702.2 223.1L702.2 225.3L702.7 225.0L702.7 219.5L702.8 225.4L703.2 224.8L703.2 223.4L703.3 225.2L703.7 224.8L703.8 219.3L703.8 225.1L704.2 225.4L704.2 221.8L704.3 224.7L704.7 225.0L704.7 205.4L704.7 225.2L705.1 224.5L705.1 215.4L705.2 224.5L705.6 224.3L705.6 219.1L705.6 224.6L706.1 225.3L706.1 221.0L706.2 225.1L706.6 225.0L706.6 221.0L706.7 225.3L707.1 224.6L707.1 216.2L707.2 224.4L707.5 225.2L707.5 217.3L707.6 225.1L707.9 225.1L708.0 220.6L708.0 225.1L708.4 225.4L708.4 222.3L708.5 225.3L708.8 225.3L708.8 221.0L708.9 225.1L709.2 225.3L709.3 218.8L709.3 224.7L709.7 225.0L709.8 220.7L709.8 225.4L710.3 224.8L710.3 219.8L710.4 225.2L710.8 224.8L710.8 222.1L710.9 224.9L711.3 225.1L711.4 218.0L711.4 224.7L711.9 225.4L711.9 220.3L711.9 225.1L712.4 224.9L712.5 218.7L712.5 225.1L712.8 224.9L712.9 215.4L712.9 224.9L713.4 224.2L713.4 219.6L713.4 225.2L713.9 225.2L714.0 215.7L714.0 224.6L714.4 223.8L714.5 219.2L714.5 225.2L714.9 224.0L715.0 216.1L715.0 224.7L715.5 224.4L715.5 218.0L715.6 225.3L715.9 224.1L716.0 217.8L716.0 224.3L716.4 225.1L716.5 219.8L716.5 225.1L716.9 224.5L717.0 218.0L717.0 224.9L717.4 225.0L717.4 220.8L717.5 224.8L717.9 224.5L717.9 220.8L718.0 224.5L718.4 224.3L718.4 220.1L718.5 224.6L718.9 225.3L718.9 219.2L718.9 224.8L719.4 224.5L719.4 216.6L719.5 224.8L719.9 224.6L719.9 219.0L719.9 225.1L720.3 224.8L720.4 219.0L720.4 224.5L720.8 224.5L720.9 219.7L720.9 224.8L721.3 225.4L721.3 222.1L721.4 224.9L721.8 224.6L721.8 220.0L721.8 224.7L722.2 224.5L722.3 220.9L722.3 224.8L722.8 224.4L722.8 221.0L722.9 224.5L723.3 225.2L723.4 217.2L723.4 224.8L723.8 224.9L723.8 220.6L723.8 224.8L724.2 225.0L724.3 219.7L724.3 225.0L724.7 225.0L724.7 221.7L724.8 225.3L725.1 224.6L725.2 219.3L725.2 224.5L725.6 224.5L725.6 221.1L725.6 224.7L726.1 224.9L726.1 221.7L726.2 225.1L726.6 224.8L726.7 221.8L726.7 225.2L727.2 225.0L727.2 221.4L727.2 225.3L727.7 225.1L727.7 222.7L727.7 224.6L728.1 224.7L728.1 222.1L728.2 224.8L728.6 224.3L728.7 220.8L728.7 224.9L729.1 224.7L729.1 221.3L729.2 224.9L729.5 224.4L729.5 220.7L729.6 224.5L730.0 225.3L730.1 217.8L730.1 225.2L730.6 225.3L730.6 216.9L730.7 224.2L731.0 224.5L731.0 220.3L731.1 225.4L731.4 225.3L731.5 221.0L731.5 224.9L732.0 224.4L732.0 222.1L732.1 225.4L732.5 224.6L732.5 220.6L732.6 225.0L732.9 225.0L733.0 221.8L733.0 225.3L733.4 225.1L733.4 221.8L733.4 224.5L733.9 225.3L733.9 222.1L734.0 225.1L734.4 225.0L734.5 219.6L734.5 224.4L734.9 224.3L735.0 219.9L735.0 224.9L735.5 224.9L735.5 220.7L735.6 224.5L736.0 224.4L736.0 220.3L736.0 225.1L736.5 224.5L736.5 220.0L736.6 224.8L737.0 224.5L737.0 220.9L737.1 224.7L737.5 224.8L737.5 220.7L737.6 224.6L738.0 224.8L738.1 221.0L738.1 225.3L738.5 225.2L738.5 221.4L738.6 225.2L739.0 225.1L739.1 220.2L739.1 224.4L739.5 225.3L739.6 219.6L739.6 224.3L740.1 224.7L740.1 217.5L740.2 225.0L740.7 225.3L740.7 217.7L740.8 225.4L741.2 224.3L741.2 217.9L741.2 224.1L741.8 224.4L741.8 220.7L741.9 224.3L742.4 224.7L742.5 219.6L742.5 224.5L743.0 225.0L743.1 221.0L743.1 225.4L743.7 225.3L743.7 217.9L743.7 224.8L744.4 224.4L744.4 220.2L744.4 224.5L744.9 224.9L744.9 220.9L745.0 225.1L745.6 224.4L745.7 219.9L745.7 225.2L746.4 225.2L746.4 218.1L746.4 224.3L746.9 225.1L747.0 220.4L747.0 224.4L747.3 223.5" fill="none" stroke="#000" stroke-width="0.72" stroke-linejoin="round" clip-path="url(#c20)"/>
<path d="M747.3 223.5L747.6 208.6L747.9 224.3L748.3 223.7L748.7 218.3L749.0 224.9L748.8 224.7L749.1 224.0L749.5 224.5L749.5 224.5L749.8 216.8L750.2 225.0L750.5 225.1L750.8 221.2L751.2 225.2L751.0 224.4L751.4 222.9L751.7 224.8L751.6 225.0L752.0 220.7L752.3 224.3L752.3 224.2L752.6 219.8L753.0 223.8L753.0 224.9L753.4 217.9L753.7 223.2L753.7 224.7L754.1 223.3L754.5 224.2L754.3 223.6L754.7 222.3L755.1 223.7L755.2 223.0L755.6 217.4L756.0 224.8L755.9 223.8L756.3 219.1L756.8 224.0L756.8 222.3L757.2 221.0L757.7 222.7L757.8 223.7L758.2 216.8L758.7 222.7L758.8 224.0L759.3 221.2L759.7 223.8L759.4 224.5L759.9 219.5L760.3 223.1L760.1 224.3L760.5 219.5L761.0 223.3L760.9 224.9L761.4 217.7L761.9 224.4L761.6 223.7L762.1 221.7L762.6 223.0L762.2 223.0L762.7 221.2L763.2 224.0L762.9 224.0L763.4 219.0L763.9 222.3L763.7 223.8L764.2 218.6L764.7 223.0L765.2 225.0L765.7 219.8L766.2 224.5L765.9 224.7L766.4 220.6L766.9 224.9L767.3 224.7L767.8 222.6L768.4 225.0L769.0 224.8L769.5 219.4L770.1 224.7L769.7 225.1L770.3 220.3L770.9 224.9L771.0 224.9L771.6 216.8L772.2 223.9L772.3 224.2L772.9 223.2L773.6 225.0L773.3 224.4L774.0 215.8L774.7 223.9L775.0 224.3L775.7 221.3L776.4 224.8L775.9 224.9L776.6 221.3L777.3 223.2L778.0 223.5L778.8 217.8L779.5 223.4L779.9 223.6L780.7 221.0L781.5 222.7L782.1 223.6L782.9 221.7L783.7 224.5L784.2 223.5L785.1 222.4L786.0 223.9L786.5 224.6L787.4 217.8L788.3 225.0L789.0 224.4L790.0 216.9L791.0 223.5L791.1 224.0L792.1 219.5L793.1 224.2L793.1 225.1L794.2 215.4L795.3 224.6L795.8 224.8L796.9 217.4L798.0 224.5L798.0 224.0L799.1 216.3L800.3 225.1L800.3 223.7L801.5 215.5L802.6 223.1L803.5 224.9L804.7 222.3L805.9 223.7L805.2 224.4L806.4 221.7L807.7 224.6L807.3 224.0L808.5 217.1L809.8 224.2L809.8 224.2L811.0 206.9L812.2 225.0L813.3 224.2L814.6 216.8L815.9 223.2L815.0 223.4L816.3 218.4L817.6 222.1L817.1 225.0L818.5 222.1L819.8 223.8L821.5 221.9L822.0 224.5L822.5 225.4L823.0 224.5L823.5 222.6L824.0 220.0L824.5 217.1L825.0 214.2L825.5 211.6L826.0 209.7L826.5 208.8L827.0 209.8L827.5 211.5L828.0 210.7L828.5 207.5L829.0 203.0L829.5 198.1L830.0 193.8L830.5 191.0L831.0 190.9L831.5 194.1L832.0 198.3L832.5 200.4L833.0 198.3L833.5 193.5L834.0 188.6L834.5 185.8L835.0 186.7L835.5 190.0L836.0 194.7L836.5 199.5L837.0 203.2L837.5 204.7L838.0 203.4L838.5 200.5L839.0 197.2L839.5 194.8L840.0 194.5L840.5 196.1L841.0 198.5L841.5 200.6L842.0 201.2L842.5 199.1L843.0 195.1L843.5 190.3L844.0 185.8L844.5 182.8L845.0 182.5L845.5 185.3L846.0 190.3L846.5 196.5L847.0 202.9L847.5 208.5L848.0 212.2L848.5 213.2L849.0 209.4L849.5 201.3L850.0 190.2L850.5 177.3L851.0 164.1L851.5 151.8L852.0 141.7L852.5 135.1L853.0 133.4L853.5 135.2L854.0 139.3L854.5 145.2L855.0 152.6L855.5 161.0L856.0 169.9L856.5 179.1L857.0 187.9L857.5 196.1L858.0 203.2L858.5 208.8L859.0 212.5L859.5 213.8L860.0 213.4L860.5 212.2L861.0 210.5L861.5 208.3L862.0 205.9L862.5 203.4L863.0 201.0L863.5 198.9L864.0 197.1L864.5 195.9L865.0 195.5L865.5 195.7L866.0 196.3L866.5 197.2L867.0 198.4L867.5 199.8L868.0 201.4L868.5 203.2L869.0 205.1L869.5 207.1L870.0 209.1L870.5 211.1L871.0 213.1L871.5 215.0L872.0 216.7L872.5 218.3L873.0 219.6L873.5 220.7L874.0 221.4L874.5 221.9L875.0 221.9L875.5 221.8L876.0 221.6L876.5 221.3L877.0 221.0L877.5 220.5L878.0 220.0L878.5 219.4L879.0 218.8L879.5 218.1L880.0 217.4L880.5 216.7L881.0 216.0L881.5 215.3L882.0 214.5L882.5 213.8L883.0 213.1L883.5 212.4L884.0 211.8L884.5 211.2L885.0 210.7L885.5 210.2L886.0 209.8L886.5 209.5L887.0 209.3L887.5 209.2L888.0 209.2L888.5 209.2L889.0 209.2L889.5 209.3L890.0 209.4L890.5 209.5L891.0 209.6L891.5 209.7L892.0 209.9L892.5 210.0L893.0 210.2L893.5 210.4L894.0 210.6L894.5 210.7L895.0 210.9L895.5 211.1L896.0 211.3L896.5 211.5L897.0 211.7L897.5 211.9L898.0 212.1L898.5 212.3L899.0 212.5L899.5 212.6L900.0 212.8L900.5 212.9L901.0 213.1L901.5 213.3L902.0 213.4L902.5 213.6L903.0 213.8L903.5 213.9L904.0 214.1L904.5 214.3L905.0 214.5L905.5 214.7L906.0 214.8L906.5 215.0L907.0 215.2L907.5 215.4L908.0 215.6L908.5 215.8L909.0 216.0L909.5 216.2L910.0 216.4L910.5 216.5L911.0 216.7L911.5 216.9L912.0 217.1L912.5 217.3L913.0 217.5L913.5 217.7L914.0 217.9L914.5 218.1L915.0 218.2L915.5 218.4L916.0 218.6L916.5 218.8L917.0 219.0L917.5 219.1L918.0 219.3L918.5 219.5L919.0 219.6L919.5 219.8L920.0 219.9L920.5 220.1L921.0 220.2L921.5 220.4L922.0 220.5L922.5 220.7L923.0 220.8L923.5 220.9L924.0 221.0L924.5 221.1L925.0 221.2L925.5 221.3L926.0 221.4L926.5 221.5L927.0 221.6L927.5 221.7L928.0 221.8L928.5 221.8L929.0 221.9L929.5 221.9L930.0 221.9L930.5 222.0L931.0 222.0L931.5 222.0L932.0 222.1L932.5 222.1L933.0 222.1L933.5 222.2L934.0 222.2L934.5 222.2L935.0 222.2L935.5 222.2L936.0 222.3L936.5 222.3L937.0 222.3L937.5 222.3L938.0 222.3" fill="none" stroke="#000" stroke-width="1.00" stroke-linejoin="round" clip-path="url(#c20)"/>
<rect x="668.60" y="106.00" width="268.90" height="119.40" fill="none" stroke="#000" stroke-width="1.20"/>
<text x="662.90" y="229.80" text-anchor="end" font-size="10.0" textLength="11.6" lengthAdjust="spacingAndGlyphs">0.0</text>
<text x="662.90" y="195.26" text-anchor="end" font-size="10.0" textLength="11.6" lengthAdjust="spacingAndGlyphs">0.2</text>
<text x="662.90" y="160.72" text-anchor="end" font-size="10.0" textLength="11.6" lengthAdjust="spacingAndGlyphs">0.4</text>
<text x="662.90" y="126.18" text-anchor="end" font-size="10.0" textLength="11.6" lengthAdjust="spacingAndGlyphs">0.6</text>
<path d="M668.60 225.40h-3.2M668.60 190.86h-3.2M668.60 156.32h-3.2M668.60 121.78h-3.2M671.19 225.40v3.2M688.25 225.40v2.0M698.23 225.40v2.0M705.31 225.40v2.0M710.81 225.40v2.0M715.29 225.40v2.0M719.09 225.40v2.0M722.37 225.40v2.0M725.27 225.40v2.0M727.87 225.40v3.2M744.93 225.40v2.0M754.91 225.40v2.0M761.99 225.40v2.0M767.48 225.40v2.0M771.97 225.40v2.0M775.76 225.40v2.0M779.05 225.40v2.0M781.95 225.40v2.0M784.54 225.40v3.2M801.60 225.40v2.0M811.58 225.40v2.0M818.66 225.40v2.0M824.15 225.40v2.0M828.64 225.40v2.0M832.43 225.40v2.0M835.72 225.40v2.0M838.62 225.40v2.0M841.21 225.40v3.2M858.27 225.40v2.0M868.25 225.40v2.0M875.33 225.40v2.0M880.83 225.40v2.0M885.31 225.40v2.0M889.11 225.40v2.0M892.39 225.40v2.0M895.29 225.40v2.0M897.89 225.40v3.2M914.95 225.40v2.0M924.93 225.40v2.0M932.01 225.40v2.0" stroke="#000" stroke-width="0.95" fill="none"/>
<text transform="translate(645.70 165.70) rotate(-90)" text-anchor="middle" font-size="10.0" style="letter-spacing:0.05px">Normalized power</text>
<text x="930.00" y="116.30" text-anchor="end" font-size="10.0" style="word-spacing:1.1px">FAP = 2.9e-3</text>
<circle cx="852.98" cy="133.55" r="2.1" fill="#f00"/>
<text x="852.98" y="127.95" text-anchor="middle" font-size="9.7" class="r">1612.924 d</text>
</g>
<g>
<clipPath id="c01"><rect x="29.70" y="249.30" width="268.90" height="119.40"/></clipPath>
<path d="M29.7 368.7L29.7 349.9L30.5 351.6L31.2 352.8L32.1 353.3L32.9 356.8L33.9 355.7L34.8 356.9L35.6 356.5L36.4 349.5L37.4 343.9L38.4 347.1L39.3 347.7L39.9 349.0L40.9 354.8L41.8 354.0L42.5 350.7L43.6 352.3L44.2 355.2L45.2 357.3L46.0 356.9L46.8 356.4L47.4 357.0L48.2 356.4L49.0 356.7L49.6 356.2L50.2 357.1L51.1 357.8L52.2 360.5L52.8 360.8L53.5 358.4L54.1 358.1L55.2 354.9L55.8 357.1L56.7 359.4L57.6 361.2L58.3 362.6L58.9 362.6L60.0 361.4L60.9 360.9L61.6 360.2L62.5 359.3L63.3 361.1L64.1 361.8L64.7 361.3L65.4 361.5L66.2 359.2L67.2 358.8L68.3 356.2L69.2 356.7L70.3 354.9L71.3 353.6L72.2 351.5L72.9 353.5L73.8 357.9L74.7 359.6L75.4 360.9L76.1 360.8L77.0 360.7L77.9 361.0L78.9 360.7L79.7 361.5L80.8 362.4L81.5 363.4L82.2 361.8L83.1 360.3L83.7 356.6L84.4 354.3L85.3 351.1L86.3 353.4L87.4 357.0L88.2 359.3L89.3 359.7L90.3 360.0L90.9 356.0L91.8 353.0L92.5 357.0L93.2 360.3L93.8 361.8L94.6 363.9L95.5 365.0L96.6 364.5L97.3 364.7L98.1 363.8L98.9 362.3L99.7 359.7L100.4 358.4L101.4 361.1L102.3 362.4L103.1 363.7L103.7 363.7L104.4 363.2L105.3 362.6L106.2 361.2L107.2 361.7L107.9 361.1L108.8 362.1L109.9 362.9L110.7 361.8L111.7 362.9L112.6 363.0L113.3 363.1L114.3 363.0L115.0 362.3L115.9 361.8L116.6 361.4L117.5 362.2L118.5 362.8L119.2 363.2L119.9 363.0L120.7 362.1L121.5 363.6L122.4 363.4L123.4 364.2L124.4 364.6L125.5 364.1L126.2 362.9L127.1 362.9L127.9 363.5L128.8 364.6L129.8 365.3L130.4 365.4L131.2 365.7L132.2 364.9L133.2 365.6L134.3 366.3L135.3 366.6L136.4 366.6L137.5 366.9L138.1 366.7L139.1 365.5L139.9 365.8L140.7 365.5L141.7 366.7L142.5 368.2L142.5 368.7Z" fill="#000" stroke="none" clip-path="url(#c01)"/>
<path d="M30.0 368.0L30.0 348.3L30.0 366.9L30.4 368.0L30.4 336.9L30.5 364.5L30.9 365.0L30.9 344.4L31.0 364.4L31.3 365.7L31.3 348.5L31.4 364.7L31.7 366.7L31.7 348.1L31.8 366.2L32.2 366.4L32.2 355.5L32.2 365.8L32.6 365.1L32.6 349.5L32.7 367.7L33.1 365.7L33.1 355.4L33.2 367.4L33.5 366.7L33.6 353.5L33.6 367.0L33.9 368.0L34.0 349.3L34.0 365.4L34.4 366.5L34.5 350.6L34.5 366.6L34.9 366.2L34.9 350.3L35.0 365.2L35.3 367.0L35.4 346.4L35.4 366.5L35.8 367.4L35.8 350.8L35.9 367.5L36.3 363.6L36.3 341.4L36.3 363.1L36.7 364.3L36.7 346.3L36.8 366.6L36.9 368.6L37.0 306.3L37.0 361.4L37.3 363.3L37.4 340.3L37.4 368.1L37.8 367.6L37.8 342.6L37.9 361.7L38.3 364.7L38.3 345.8L38.4 365.4L38.8 363.3L38.8 338.2L38.8 362.0L39.2 366.7L39.3 345.4L39.3 364.4L39.7 363.6L39.7 347.4L39.7 366.8L40.2 366.1L40.2 347.7L40.3 367.9L40.7 368.2L40.7 344.8L40.8 363.8L41.1 367.0L41.2 350.6L41.2 367.1L41.4 365.8L41.4 335.8L41.4 366.1L41.8 364.8L41.9 343.3L41.9 364.7L42.3 364.7L42.3 344.2L42.4 368.4L42.7 364.7L42.8 352.3L42.8 366.5L43.2 367.4L43.3 347.6L43.3 364.9L43.7 364.5L43.7 343.7L43.8 365.1L44.1 365.4L44.2 353.0L44.2 368.3L44.6 365.3L44.6 356.2L44.6 367.5L45.0 364.7L45.1 354.4L45.1 367.3L45.5 365.5L45.5 352.7L45.6 365.4L45.9 365.9L45.9 351.9L46.0 367.2L46.3 365.8L46.4 351.9L46.4 367.4L46.7 366.2L46.8 353.0L46.8 367.3L47.2 366.0L47.2 354.4L47.2 368.6L47.6 366.8L47.6 350.2L47.6 364.8L48.0 365.2L48.0 345.0L48.1 368.3L48.4 364.9L48.5 356.0L48.5 366.5L48.9 366.6L48.9 349.8L49.0 364.9L49.4 366.9L49.5 352.7L49.5 365.4L49.9 365.6L49.9 352.3L49.9 368.5L50.4 365.8L50.4 346.3L50.4 365.6L50.9 366.1L50.9 354.1L50.9 365.5L51.3 366.6L51.3 357.0L51.3 368.0L51.7 366.5L51.8 358.1L51.8 368.3L52.1 367.3L52.2 357.9L52.2 367.9L52.6 366.7L52.6 351.6L52.7 368.7L53.1 367.5L53.2 351.0L53.2 366.8L53.5 367.3L53.6 357.8L53.6 367.7L54.0 365.6L54.1 355.0L54.1 366.9L54.6 367.9L54.6 347.2L54.6 366.8L55.0 364.9L55.0 349.3L55.0 365.1L55.4 366.4L55.5 349.6L55.5 367.9L55.9 367.2L56.0 352.9L56.0 365.3L56.4 368.7L56.5 355.9L56.5 366.5L56.9 366.9L56.9 356.2L57.0 366.9L57.3 368.3L57.4 355.3L57.4 366.5L57.8 366.6L57.9 361.4L57.9 368.1L58.3 368.1L58.4 346.9L58.4 367.2L58.9 367.8L58.9 360.1L59.0 367.2L59.4 368.1L59.4 356.8L59.4 367.6L59.9 368.5L59.9 350.3L59.9 368.5L60.2 367.8L60.2 329.3L60.2 368.5L60.6 366.8L60.6 359.6L60.7 367.0L61.0 368.7L61.0 359.2L61.1 368.0L61.5 368.2L61.6 353.9L61.6 367.9L61.9 366.9L62.0 356.4L62.0 366.9L62.5 365.7L62.5 356.3L62.6 367.3L63.0 368.2L63.0 357.3L63.1 367.9L63.5 367.9L63.5 356.2L63.6 367.0L63.9 367.5L64.0 357.5L64.0 367.4L64.4 366.7L64.4 359.8L64.4 366.9L64.8 368.1L64.9 357.5L64.9 367.1L65.3 366.8L65.3 350.0L65.4 366.4L65.8 368.2L65.8 354.5L65.8 368.6L66.3 367.0L66.3 353.8L66.4 367.8L66.8 366.3L66.8 357.3L66.9 368.0L67.3 366.5L67.3 358.0L67.3 366.7L67.7 368.6L67.8 351.9L67.8 365.9L68.2 367.3L68.2 354.7L68.2 367.8L68.7 365.6L68.7 356.2L68.8 365.6L69.2 365.0L69.3 356.3L69.3 368.6L69.7 368.5L69.7 352.0L69.8 367.5L70.1 367.7L70.2 352.0L70.2 365.3L70.7 364.3L70.7 353.8L70.7 365.3L71.1 367.7L71.1 354.2L71.2 366.1L71.6 364.7L71.7 346.1L71.7 364.7L72.0 367.5L72.1 349.4L72.1 364.2L72.6 365.4L72.6 349.1L72.6 365.5L73.1 366.4L73.1 352.4L73.1 367.3L73.5 364.7L73.5 353.8L73.6 365.7L74.0 365.4L74.0 357.4L74.1 367.6L74.5 367.7L74.6 355.1L74.6 367.9L75.0 366.6L75.0 354.9L75.0 367.8L75.3 368.5L75.3 276.9L75.4 367.8L75.8 367.6L75.9 359.2L75.9 366.4L76.3 366.1L76.3 358.1L76.4 366.2L76.7 368.6L76.7 359.3L76.8 368.4L77.2 366.5L77.3 352.9L77.3 367.6L77.7 368.2L77.8 358.2L77.8 368.6L78.1 367.0L78.2 359.7L78.2 366.7L78.6 367.8L78.7 360.9L78.7 367.1L79.1 368.4L79.1 358.3L79.2 368.5L79.6 366.7L79.7 360.4L79.7 368.6L80.2 368.0L80.2 345.5L80.3 366.5L80.7 368.5L80.8 358.0L80.8 368.3L81.3 366.8L81.3 350.0L81.4 367.0L81.7 367.2L81.8 359.5L81.8 367.8L82.2 368.1L82.3 357.4L82.3 367.6L82.8 366.4L82.8 352.7L82.8 367.9L83.2 366.1L83.2 353.2L83.3 365.8L83.7 368.0L83.8 352.9L83.8 368.1L84.3 366.1L84.3 344.1L84.3 366.8L84.7 364.8L84.7 350.0L84.8 365.4L85.2 365.5L85.2 347.6L85.3 366.3L85.6 366.2L85.7 347.7L85.7 363.9L86.0 366.4L86.1 350.7L86.1 368.4L86.6 366.2L86.6 350.8L86.7 367.0L87.0 367.4L87.1 350.8L87.1 364.8L87.6 366.0L87.6 346.0L87.6 365.1L88.1 367.4L88.1 358.6L88.1 365.8L88.6 366.2L88.6 358.4L88.7 367.5L89.1 366.1L89.1 355.8L89.2 366.9L89.7 368.2L89.7 358.8L89.7 368.3L90.1 367.5L90.2 359.6L90.2 366.1L90.6 365.2L90.7 354.2L90.7 365.3L91.2 366.5L91.2 353.2L91.2 366.1L91.6 368.5L91.7 349.8L91.7 368.5L92.1 366.7L92.2 348.6L92.2 365.8L92.7 368.4L92.7 350.1L92.8 367.1L93.2 367.8L93.2 356.8L93.2 368.2L93.7 367.3L93.8 360.9L93.8 368.5L94.2 368.0L94.2 343.8L94.3 367.6L94.7 368.5L94.8 344.5L94.8 368.7L95.2 367.9L95.3 347.0L95.3 367.5L95.7 368.3L95.7 362.4L95.8 368.0L96.3 367.9L96.3 341.9L96.3 368.7L96.7 368.3L96.7 355.4L96.8 367.8L97.2 368.6L97.2 364.3L97.3 368.1L97.6 367.5L97.7 361.2L97.7 367.3L98.1 367.3L98.2 355.2L98.2 367.5L98.7 366.8L98.7 356.4L98.7 367.1L99.1 367.7L99.1 353.0L99.2 367.2L99.6 366.8L99.6 357.0L99.7 367.4L100.1 367.8L100.1 359.5L100.2 367.8L100.6 367.5L100.7 353.9L100.7 366.4L101.2 367.5L101.2 359.1L101.2 367.6L101.6 368.0L101.7 359.3L101.7 367.9L102.2 367.6L102.3 361.6L102.3 368.2L102.7 368.3L102.7 361.4L102.8 368.5L103.2 367.4L103.3 363.0L103.3 368.0L103.8 368.5L103.9 360.5L103.9 367.4L104.5 367.2L104.5 361.6L104.6 368.3L105.0 368.0L105.1 359.6L105.1 368.1L105.6 367.2L105.7 360.9L105.7 367.7L106.3 367.2L106.4 359.0L106.4 367.4L106.9 367.8L106.9 358.1L107.0 368.3L107.5 368.5L107.6 360.6L107.6 367.3L108.2 366.5L108.2 358.7L108.2 367.7L108.8 368.1L108.8 356.3L108.9 367.8L109.4 366.7L109.4 359.5L109.5 367.7L109.8 367.8" fill="none" stroke="#000" stroke-width="0.72" stroke-linejoin="round" clip-path="url(#c01)"/>
<path d="M109.8 367.8L110.1 351.6L110.4 366.0L110.5 364.7L110.9 358.7L111.2 364.5L111.4 365.6L111.8 359.7L112.1 367.1L111.9 365.7L112.3 363.6L112.6 366.4L112.7 365.0L113.1 354.9L113.4 365.2L113.5 367.2L113.9 353.7L114.2 365.3L114.2 365.6L114.6 362.9L114.9 364.9L114.8 366.2L115.1 362.9L115.5 366.4L115.3 365.3L115.7 360.7L116.1 367.1L116.2 365.7L116.6 362.9L117.0 365.8L117.3 364.2L117.7 352.0L118.1 364.9L118.2 366.0L118.6 355.1L119.0 365.5L119.2 367.4L119.7 356.5L120.1 364.8L119.9 363.9L120.4 354.0L120.8 365.7L121.1 366.0L121.5 364.6L121.9 367.5L121.7 367.4L122.2 359.4L122.6 366.9L122.5 365.5L122.9 352.2L123.4 366.7L123.6 366.6L124.1 362.3L124.5 365.8L124.4 367.8L124.9 359.2L125.3 367.8L125.2 365.3L125.7 363.7L126.2 365.9L126.0 364.6L126.5 356.0L127.0 366.6L126.9 364.6L127.4 355.5L127.9 365.9L128.0 367.4L128.5 363.9L129.0 367.5L129.6 368.3L130.1 354.2L130.7 368.3L130.4 366.9L130.9 360.8L131.5 366.3L131.5 365.7L132.1 363.1L132.6 366.6L132.3 365.8L132.8 363.2L133.4 366.0L133.0 368.3L133.6 345.4L134.2 367.1L134.1 368.3L134.7 349.2L135.3 367.9L135.4 367.8L136.0 351.7L136.7 367.8L137.3 367.9L137.9 362.3L138.5 367.5L138.2 367.4L138.8 349.8L139.4 367.8L139.5 367.1L140.2 364.5L140.8 366.7L140.6 366.9L141.3 363.6L142.0 366.4L141.7 367.7L142.4 360.7L143.1 367.8L143.9 368.0L144.3 366.9L144.8 368.3L144.5 368.1L145.0 365.0L145.4 367.5L145.5 367.6L146.0 366.9L146.5 367.7L147.0 367.1L147.5 365.5L148.0 367.6L147.8 368.4L148.3 364.7L148.8 368.0L148.5 368.5L149.0 366.9L149.5 368.5L150.1 368.5L150.6 366.1L151.1 368.4L151.5 368.5L152.0 367.3L152.5 368.0L152.8 368.0L153.3 366.9L153.8 368.5L154.2 368.1L154.7 366.8L155.3 368.0L155.9 368.4L156.4 366.4L157.0 368.4L157.3 367.7L157.9 366.1L158.4 368.3L159.0 367.7L159.6 366.4L160.2 368.3L159.9 368.2L160.5 365.8L161.1 367.9L161.4 367.7L162.0 365.2L162.6 367.7L162.2 368.4L162.8 365.5L163.4 368.5L164.0 368.2L164.7 366.3L165.3 368.3L165.9 367.8L166.5 366.1L167.2 367.7L167.2 368.4L167.8 365.7L168.5 367.8L169.1 368.5L169.7 366.7L170.4 368.6L170.6 368.4L171.3 365.9L171.9 368.2L171.8 368.4L172.5 365.3L173.2 368.5L173.9 368.5L174.6 362.2L175.3 368.4L175.2 368.6L175.9 368.0L176.6 368.4L176.9 367.9L177.6 367.4L178.4 368.3L178.2 368.1L179.0 365.7L179.7 368.0L180.1 368.2L180.9 367.5L181.6 367.8L182.5 368.5L183.3 367.5L184.1 368.0L184.2 368.1L185.0 366.5L185.8 368.5L186.4 368.4L187.2 366.3L188.0 368.0L187.9 368.1L188.7 366.4L189.6 368.2L189.3 368.5L190.2 366.8L191.0 368.2L191.8 368.4L192.7 366.4L193.6 367.9L194.0 368.5L194.9 367.2L195.8 367.9L196.5 367.7L197.0 367.8L197.5 367.9L198.0 368.0L198.5 368.0L199.0 368.0L199.5 368.0L200.0 368.0L200.5 367.7L201.0 367.1L201.5 366.2L202.0 365.4L202.5 364.8L203.0 364.6L203.5 365.0L204.0 365.7L204.5 366.4L205.0 367.1L205.5 367.3L206.0 367.1L206.5 366.5L207.0 365.8L207.5 365.2L208.0 364.9L208.5 365.1L209.0 365.6L209.5 366.2L210.0 366.8L210.5 367.0L211.0 366.7L211.5 366.1L212.0 365.4L212.5 364.8L213.0 364.6L213.5 364.6L214.0 364.8L214.5 365.0L215.0 365.3L215.5 365.6L216.0 366.0L216.5 366.4L217.0 366.8L217.5 367.2L218.0 367.6L218.5 367.9L219.0 368.2L219.5 368.4L220.0 368.6L220.5 368.7L221.0 368.7L221.5 368.5L222.1 368.3L222.6 368.0L223.1 367.6L223.6 367.1L224.1 366.7L224.6 366.1L225.1 365.6L225.6 365.1L226.1 364.6L226.6 364.1L227.1 363.7L227.6 363.4L228.1 363.1L228.6 362.9L229.1 362.9L229.6 362.9L230.1 363.0L230.6 363.2L231.1 363.4L231.6 363.6L232.1 363.9L232.6 364.1L233.1 364.4L233.6 364.7L234.1 365.0L234.6 365.2L235.1 365.4L235.6 365.5L236.1 365.6L236.6 365.6L237.1 365.6L237.6 365.5L238.1 365.4L238.6 365.3L239.1 365.1L239.6 364.9L240.1 364.8L240.6 364.6L241.1 364.4L241.6 364.3L242.1 364.1L242.6 364.0L243.1 363.9L243.6 363.9L244.1 363.9L244.6 364.0L245.1 364.1L245.6 364.4L246.1 364.6L246.6 364.9L247.1 365.3L247.6 365.6L248.1 366.0L248.6 366.4L249.1 366.8L249.6 367.1L250.1 367.5L250.6 367.8L251.1 368.1L251.6 368.3L252.1 368.5L252.6 368.6L253.1 368.7L253.6 368.7L254.1 368.6L254.6 368.4L255.1 368.2L255.6 367.9L256.1 367.6L256.6 367.2L257.1 366.8L257.6 366.4L258.1 365.9L258.6 365.4L259.1 364.9L259.6 364.4L260.1 363.8L260.6 363.3L261.1 362.8L261.6 362.3L262.1 361.8L262.6 361.3L263.1 360.8L263.6 360.4L264.1 360.0L264.6 359.7L265.1 359.4L265.6 359.2L266.1 359.0L266.6 358.8L267.1 358.6L267.6 358.4L268.1 358.2L268.6 358.0L269.1 357.9L269.6 357.7L270.1 357.5L270.6 357.4L271.1 357.2L271.6 357.1L272.1 357.0L272.6 356.8L273.1 356.7L273.7 356.6L274.2 356.6L274.7 356.5L275.2 356.4L275.7 356.4L276.2 356.4L276.7 356.3L277.2 356.3L277.7 356.3L278.2 356.3L278.7 356.3L279.2 356.3L279.7 356.3L280.2 356.2L280.7 356.2L281.2 356.2L281.7 356.2L282.2 356.2L282.7 356.2L283.2 356.2L283.7 356.2L284.2 356.1L284.7 356.1L285.2 356.1L285.7 356.1L286.2 356.1L286.7 356.1L287.2 356.1L287.7 356.1L288.2 356.1L288.7 356.1L289.2 356.1L289.7 356.1L290.2 356.1L290.7 356.0L291.2 356.0L291.7 356.0L292.2 356.0L292.7 356.0L293.2 356.0L293.7 356.0L294.2 356.0L294.7 356.0L295.2 356.0L295.7 356.0L296.2 356.0L296.7 356.0L297.2 356.0L297.7 356.0L298.2 356.0L298.7 356.0" fill="none" stroke="#000" stroke-width="1.00" stroke-linejoin="round" clip-path="url(#c01)"/>
<rect x="29.70" y="249.30" width="268.90" height="119.40" fill="none" stroke="#000" stroke-width="1.20"/>
<text x="24.00" y="373.10" text-anchor="end" font-size="10.0" textLength="11.6" lengthAdjust="spacingAndGlyphs">0.0</text>
<text x="24.00" y="338.80" text-anchor="end" font-size="10.0" textLength="11.6" lengthAdjust="spacingAndGlyphs">0.1</text>
<text x="24.00" y="304.50" text-anchor="end" font-size="10.0" textLength="11.6" lengthAdjust="spacingAndGlyphs">0.2</text>
<text x="24.00" y="270.20" text-anchor="end" font-size="10.0" textLength="11.6" lengthAdjust="spacingAndGlyphs">0.3</text>
<path d="M29.70 368.70h-3.2M29.70 334.40h-3.2M29.70 300.10h-3.2M29.70 265.80h-3.2M32.29 368.70v3.2M49.35 368.70v2.0M59.33 368.70v2.0M66.41 368.70v2.0M71.91 368.70v2.0M76.39 368.70v2.0M80.19 368.70v2.0M83.47 368.70v2.0M86.37 368.70v2.0M88.97 368.70v3.2M106.03 368.70v2.0M116.01 368.70v2.0M123.09 368.70v2.0M128.58 368.70v2.0M133.07 368.70v2.0M136.86 368.70v2.0M140.15 368.70v2.0M143.05 368.70v2.0M145.64 368.70v3.2M162.70 368.70v2.0M172.68 368.70v2.0M179.76 368.70v2.0M185.25 368.70v2.0M189.74 368.70v2.0M193.53 368.70v2.0M196.82 368.70v2.0M199.72 368.70v2.0M202.31 368.70v3.2M219.37 368.70v2.0M229.35 368.70v2.0M236.43 368.70v2.0M241.93 368.70v2.0M246.41 368.70v2.0M250.21 368.70v2.0M253.49 368.70v2.0M256.39 368.70v2.0M258.99 368.70v3.2M276.05 368.70v2.0M286.03 368.70v2.0M293.11 368.70v2.0" stroke="#000" stroke-width="0.95" fill="none"/>
<text transform="translate(6.80 309.00) rotate(-90)" text-anchor="middle" font-size="10.0" style="letter-spacing:0.05px">Normalized power</text>
<text x="295.80" y="259.60" text-anchor="end" font-size="10.0" style="word-spacing:1.1px">FAP = 7.7e-09</text>
<circle cx="75.34" cy="276.85" r="2.1" fill="#f00"/>
<text x="75.94" y="270.35" text-anchor="start" font-size="9.7" class="r">5.749 d</text>
</g>
<g>
<clipPath id="c11"><rect x="349.40" y="249.30" width="268.90" height="119.40"/></clipPath>
<path d="M349.4 368.7L349.4 355.8L350.1 352.2L350.9 352.7L351.9 345.4L352.6 349.3L353.5 348.6L354.6 352.7L355.6 345.1L356.4 349.0L357.5 354.6L358.1 358.2L359.0 359.3L359.9 358.0L360.5 356.3L361.2 356.9L361.9 355.9L362.5 354.2L363.3 354.7L364.3 354.8L365.0 354.8L365.6 357.3L366.3 357.3L367.2 359.5L368.1 359.2L369.0 358.5L369.9 353.1L370.7 351.1L371.7 352.0L372.7 351.7L373.7 352.0L374.5 351.3L375.5 355.9L376.3 358.8L376.9 359.8L377.6 361.0L378.2 361.4L379.3 361.4L380.4 360.1L381.1 360.7L382.1 359.6L382.8 357.8L383.5 353.4L384.4 351.3L385.1 350.6L386.1 351.3L387.0 353.0L388.1 356.8L388.8 356.0L389.4 355.8L390.2 359.5L391.3 360.1L392.2 358.3L393.0 357.4L393.7 357.9L394.6 354.4L395.6 353.1L396.4 353.9L397.4 353.4L398.2 354.8L399.2 356.6L400.2 354.4L401.1 354.9L401.8 350.9L402.8 350.7L403.9 351.5L405.0 349.5L405.9 352.8L406.7 357.6L407.7 360.8L408.6 362.2L409.3 362.8L410.1 362.3L411.1 360.8L412.0 360.5L412.8 360.6L413.4 361.9L414.3 362.0L415.2 360.1L415.9 361.5L416.6 359.7L417.4 359.0L418.4 359.2L419.0 358.6L420.1 359.5L420.9 361.2L421.8 362.7L422.9 364.4L423.6 364.8L424.4 366.0L425.5 367.0L426.4 368.1L427.1 368.5L427.1 368.7Z" fill="#000" stroke="none" clip-path="url(#c11)"/>
<path d="M349.7 364.1L349.7 352.3L349.7 364.7L350.1 363.8L350.1 349.1L350.2 364.7L350.6 364.8L350.6 351.1L350.7 363.2L351.1 363.4L351.1 339.1L351.2 366.0L351.5 366.8L351.6 346.9L351.6 366.8L352.0 367.4L352.0 345.1L352.1 368.5L352.5 366.6L352.5 342.0L352.6 364.1L352.9 366.5L352.9 344.0L353.0 365.5L353.3 365.2L353.3 343.7L353.4 366.3L353.7 366.6L353.8 343.6L353.8 368.5L354.1 368.2L354.2 348.7L354.2 368.5L354.6 364.7L354.6 350.6L354.7 364.2L355.0 362.8L355.0 348.7L355.1 363.3L355.5 364.7L355.5 332.2L355.6 362.2L356.0 362.9L356.0 340.0L356.0 361.5L356.5 365.0L356.5 348.1L356.6 368.3L357.0 363.9L357.0 305.7L357.0 368.2L357.4 367.2L357.4 353.0L357.5 366.8L357.8 366.5L357.8 349.0L357.9 367.4L358.3 367.5L358.3 357.0L358.4 368.6L358.8 367.3L358.8 358.5L358.8 367.1L359.2 368.6L359.2 354.5L359.3 367.4L359.6 367.8L359.7 349.4L359.7 368.6L360.2 365.5L360.2 350.9L360.2 368.7L360.6 364.9L360.7 351.0L360.7 368.5L361.1 366.7L361.2 353.5L361.2 367.2L361.6 366.4L361.6 351.4L361.7 366.3L362.1 367.0L362.1 354.5L362.2 367.0L362.6 366.2L362.6 354.6L362.7 365.0L363.1 365.1L363.1 351.2L363.1 365.2L363.4 365.8L363.5 348.7L363.5 367.8L363.9 368.4L363.9 353.8L363.9 368.1L364.4 367.3L364.4 352.0L364.4 367.1L364.9 366.0L364.9 353.3L364.9 366.0L365.3 367.3L365.3 351.9L365.4 366.8L365.8 367.0L365.8 353.3L365.9 367.7L366.2 368.6L366.2 352.8L366.3 368.3L366.7 366.1L366.8 355.0L366.8 365.7L367.1 365.3L367.2 358.6L367.2 366.1L367.5 366.6L367.6 357.7L367.6 367.0L367.9 365.6L368.0 355.3L368.0 367.6L368.4 365.5L368.4 350.5L368.5 366.3L368.8 367.7L368.9 355.4L368.9 365.9L369.2 365.3L369.3 354.3L369.3 364.6L369.6 364.6L369.7 353.8L369.7 365.7L370.1 368.0L370.1 352.7L370.2 366.4L370.6 364.9L370.6 351.5L370.7 366.0L371.0 365.3L371.1 346.3L371.1 364.6L371.5 367.0L371.5 351.0L371.6 365.6L371.9 365.0L372.0 349.6L372.0 368.6L372.4 368.6L372.4 348.1L372.4 363.4L372.8 365.0L372.8 352.2L372.9 368.6L373.2 365.9L373.2 349.3L373.3 363.7L373.6 368.6L373.6 351.6L373.7 365.9L374.1 367.4L374.1 346.3L374.2 367.5L374.5 366.2L374.6 349.6L374.6 366.4L375.0 364.3L375.0 352.8L375.1 366.0L375.4 364.9L375.5 354.8L375.5 365.2L375.8 365.2L375.9 357.7L375.9 368.1L376.3 367.6L376.3 350.3L376.4 367.7L376.7 366.8L376.8 358.3L376.8 367.6L377.1 367.8L377.2 351.7L377.2 367.9L377.6 368.4L377.6 357.6L377.7 367.9L378.0 368.2L378.0 359.8L378.1 367.5L378.5 367.6L378.5 356.6L378.5 367.9L378.9 367.0L378.9 360.6L378.9 368.5L379.3 367.0L379.3 358.7L379.3 366.5L379.7 368.0L379.7 355.9L379.8 366.9L380.1 367.1L380.1 354.2L380.2 366.4L380.6 368.2L380.6 356.9L380.7 367.8L381.0 367.1L381.1 359.4L381.1 366.8L381.5 366.5L381.5 356.1L381.6 366.7L382.0 365.7L382.0 357.1L382.0 368.6L382.4 365.9L382.4 359.3L382.5 368.1L382.8 366.9L382.8 354.4L382.9 366.2L383.2 367.7L383.3 353.4L383.3 367.9L383.6 368.6L383.7 350.5L383.7 365.5L384.1 364.5L384.1 347.3L384.2 364.4L384.5 365.8L384.5 351.3L384.6 365.0L385.0 367.9L385.0 350.1L385.0 363.1L385.4 368.4L385.4 347.9L385.5 368.5L385.9 365.7L385.9 348.7L386.0 366.7L386.3 366.0L386.4 349.5L386.4 363.2L386.8 365.5L386.8 347.8L386.8 364.0L387.3 367.4L387.3 351.6L387.4 366.7L387.7 368.7L387.7 352.9L387.8 368.0L388.2 367.5L388.2 353.0L388.2 368.4L388.7 364.5L388.7 346.1L388.7 366.4L389.1 365.8L389.1 352.3L389.2 365.7L389.6 368.0L389.6 277.0L389.6 365.2L390.0 368.7L390.0 355.4L390.0 366.8L390.5 367.4L390.5 352.2L390.5 365.9L391.0 367.2L391.0 357.5L391.0 368.5L391.4 365.9L391.5 358.7L391.5 368.5L391.8 367.6L391.9 351.4L391.9 367.9L392.2 368.5L392.2 352.7L392.3 366.1L392.6 365.8L392.7 358.9L392.7 368.6L393.1 365.3L393.1 357.3L393.1 368.6L393.5 367.3L393.6 356.6L393.6 365.0L394.0 368.5L394.1 354.7L394.1 366.6L394.4 365.3L394.5 342.5L394.5 366.0L394.9 364.6L395.0 351.8L395.0 367.3L395.4 366.0L395.4 340.8L395.4 366.1L395.8 366.2L395.8 350.0L395.8 366.0L396.2 363.9L396.3 350.2L396.3 366.6L396.7 365.0L396.7 353.8L396.8 367.9L397.1 365.7L397.2 351.7L397.2 367.1L397.5 365.2L397.6 349.8L397.6 368.1L398.0 364.7L398.1 350.2L398.1 366.1L398.5 368.7L398.5 351.0L398.5 365.9L398.8 365.9L398.9 355.9L398.9 366.3L399.2 367.6L399.3 351.4L399.3 364.9L399.6 368.3L399.7 354.2L399.7 367.0L400.1 367.1L400.1 353.3L400.1 365.3L400.5 368.5L400.6 348.0L400.6 365.4L400.9 365.0L401.0 344.6L401.0 365.5L401.4 364.2L401.5 348.8L401.5 363.6L401.9 367.5L402.0 342.3L402.0 363.9L402.3 367.5L402.4 344.9L402.4 363.4L402.8 367.6L402.8 345.3L402.9 363.9L403.2 367.3L403.2 338.0L403.3 368.2L403.7 363.6L403.7 350.2L403.8 367.9L404.1 363.0L404.2 343.3L404.2 363.4L404.6 363.9L404.6 343.1L404.6 365.6L405.0 366.4L405.1 349.7L405.1 367.5L405.5 365.4L405.5 344.3L405.6 366.9L405.9 364.3L405.9 351.3L406.0 365.9L406.3 368.3L406.4 353.9L406.4 367.6L406.8 367.8L406.8 355.5L406.9 367.2L407.2 367.0L407.3 349.2L407.3 367.7L407.7 367.4L407.7 355.6L407.8 366.7L408.2 367.4L408.2 359.5L408.2 367.3L408.7 367.2L408.7 355.5L408.7 366.9L409.2 368.0L409.2 361.6L409.2 367.5L409.5 366.6L409.6 355.8L409.6 368.0L409.9 368.5L410.0 352.5L410.0 366.9L410.4 366.9L410.4 361.3L410.5 367.7L410.9 368.7L411.0 360.8L411.0 366.2L411.4 366.7L411.4 358.9L411.5 366.9L411.9 368.1L412.0 345.0L412.0 367.8L412.5 366.5L412.5 351.0L412.6 366.8L412.9 366.9L413.0 351.7L413.0 368.3L413.5 368.4L413.5 358.8L413.6 368.2L414.1 367.3L414.1 354.7L414.2 368.0L414.6 368.5L414.7 359.8L414.7 367.3L415.2 366.2L415.2 358.8L415.3 368.6L415.7 367.3L415.8 357.8L415.8 367.3L416.2 366.0L416.2 345.4L416.3 365.8L416.7 367.6L416.8 354.6L416.8 366.2L417.4 365.4L417.4 344.1L417.5 368.6L418.0 366.8L418.1 351.5L418.1 366.3L418.6 364.8L418.7 351.6L418.7 368.0L419.3 366.7L419.4 346.8L419.4 368.4L420.0 365.9L420.0 354.8L420.0 365.7L420.6 368.2L420.6 352.2L420.7 368.5L421.3 367.6L421.4 349.6L421.4 365.3L421.9 368.1L422.0 347.4L422.0 365.5L422.7 367.8L422.7 351.4L422.8 367.6L423.5 368.1L423.5 353.2L423.5 366.9L423.9 362.2" fill="none" stroke="#000" stroke-width="0.72" stroke-linejoin="round" clip-path="url(#c11)"/>
<path d="M423.9 362.2L424.3 348.7L424.6 366.6L424.7 365.3L425.0 358.3L425.4 361.9L425.5 367.3L425.8 362.2L426.1 367.6L426.0 366.7L426.3 347.6L426.6 365.7L426.5 364.7L426.8 323.1L427.1 362.9L426.9 362.1L427.3 343.9L427.6 364.8L427.5 367.0L427.9 341.9L428.2 363.9L428.5 364.4L428.8 356.3L429.2 363.8L429.0 366.4L429.4 354.2L429.8 364.9L429.8 366.0L430.1 347.4L430.5 366.2L430.6 364.1L431.0 344.9L431.3 366.7L431.3 367.6L431.7 350.1L432.1 367.3L432.0 367.4L432.4 351.7L432.8 363.4L432.7 367.3L433.1 361.0L433.5 365.7L433.6 366.1L434.0 353.5L434.4 361.6L434.8 363.1L435.3 350.4L435.7 366.0L435.6 363.7L436.0 347.1L436.5 363.8L436.7 364.6L437.2 362.2L437.7 366.9L437.7 365.3L438.2 355.4L438.7 366.5L438.9 367.7L439.4 362.0L439.9 368.0L439.6 367.1L440.1 354.6L440.6 367.0L441.1 364.4L441.6 357.2L442.2 363.5L442.3 366.1L442.8 350.6L443.4 367.7L442.9 366.6L443.5 341.3L444.1 366.2L443.8 365.0L444.4 341.0L444.9 366.7L445.1 366.0L445.7 347.4L446.3 365.8L447.0 365.5L447.6 346.4L448.3 364.6L448.2 365.2L448.8 357.1L449.4 363.8L449.7 367.8L450.3 355.6L451.0 364.3L451.4 365.0L452.1 355.3L452.8 366.0L452.9 364.7L453.6 355.2L454.3 364.1L455.0 365.7L455.7 364.3L456.4 366.4L456.1 367.6L456.9 363.9L457.6 365.8L457.9 365.2L458.7 359.8L459.5 366.2L458.9 366.1L459.7 358.4L460.5 364.2L461.1 366.8L461.9 359.7L462.7 365.5L462.6 367.8L463.5 353.8L464.3 364.3L465.2 365.0L466.1 362.1L467.0 364.8L467.6 367.3L468.5 357.1L469.4 366.4L470.2 366.5L471.1 364.2L472.0 365.6L471.8 367.2L472.8 359.5L473.7 366.9L474.8 366.1L475.8 352.7L476.7 367.8L477.4 366.2L478.4 357.5L479.4 367.3L480.5 367.5L481.5 360.7L482.6 366.6L483.2 367.2L484.3 356.0L485.3 366.2L485.7 365.5L486.7 352.1L487.8 364.0L487.5 367.5L488.6 360.6L489.6 366.6L489.9 366.9L491.0 340.6L492.1 366.3L491.5 366.7L492.6 352.3L493.7 367.8L494.1 366.5L495.2 350.7L496.3 366.7L495.6 368.2L496.7 364.7L497.8 366.5L497.5 367.2L498.7 353.7L499.8 367.6L500.8 368.1L501.9 364.7L503.1 368.2L503.3 367.6L504.5 353.9L505.7 367.3L506.1 367.9L507.3 357.0L508.5 366.0L509.1 366.9L510.4 362.8L511.6 366.5L512.5 367.9L513.7 362.9L515.0 366.2L515.9 365.7L517.2 358.2L518.5 367.9L518.5 365.9L519.0 366.8L519.5 367.7L520.0 368.3L520.5 368.6L521.0 368.7L521.5 368.4L522.0 367.8L522.5 367.0L523.0 366.2L523.5 365.3L524.0 364.5L524.5 363.9L525.0 363.5L525.5 363.4L526.0 364.3L526.5 365.8L527.0 367.0L527.5 367.1L528.0 365.5L528.5 362.5L529.0 358.8L529.5 354.8L530.0 351.1L530.5 348.0L531.0 346.2L531.5 346.0L532.0 347.0L532.5 348.7L533.0 351.1L533.5 353.8L534.0 356.6L534.5 359.4L535.0 362.0L535.5 364.0L536.0 365.4L536.5 365.9L537.0 365.8L537.5 365.7L538.0 365.6L538.5 365.5L539.0 365.3L539.5 365.2L540.0 365.0L540.5 364.8L541.0 364.7L541.5 364.6L542.0 364.5L542.5 364.4L543.0 364.4L543.5 364.5L544.1 364.6L544.6 364.8L545.1 365.0L545.6 365.3L546.1 365.6L546.6 365.9L547.1 366.3L547.6 366.6L548.1 366.9L548.6 367.3L549.1 367.6L549.6 367.9L550.1 368.1L550.6 368.4L551.1 368.5L551.6 368.6L552.1 368.7L552.6 368.7L553.1 368.7L553.6 368.7L554.1 368.7L554.6 368.7L555.1 368.7L555.6 368.7L556.1 368.7L556.6 368.7L557.1 368.7L557.6 368.7L558.1 368.7L558.6 368.6L559.1 368.6L559.6 368.6L560.1 368.6L560.6 368.6L561.1 368.6L561.6 368.6L562.1 368.6L562.6 368.6L563.1 368.5L563.6 368.5L564.1 368.5L564.6 368.5L565.1 368.5L565.6 368.5L566.1 368.5L566.6 368.4L567.1 368.4L567.6 368.4L568.1 368.4L568.6 368.4L569.1 368.3L569.6 368.3L570.1 368.2L570.6 368.1L571.1 367.9L571.6 367.7L572.1 367.4L572.6 367.2L573.1 366.9L573.6 366.6L574.1 366.2L574.6 365.9L575.1 365.5L575.6 365.1L576.1 364.8L576.6 364.4L577.1 364.0L577.6 363.6L578.1 363.2L578.6 362.8L579.1 362.4L579.6 362.1L580.1 361.7L580.6 361.4L581.1 361.1L581.6 360.8L582.1 360.6L582.6 360.4L583.1 360.2L583.6 360.0L584.1 359.9L584.6 359.8L585.1 359.8L585.6 359.8L586.1 359.8L586.6 359.9L587.1 360.0L587.6 360.0L588.1 360.1L588.6 360.2L589.1 360.4L589.6 360.5L590.1 360.7L590.6 360.8L591.1 361.0L591.6 361.2L592.1 361.3L592.6 361.5L593.1 361.7L593.7 361.9L594.2 362.1L594.7 362.2L595.2 362.4L595.7 362.6L596.2 362.8L596.7 362.9L597.2 363.1L597.7 363.2L598.2 363.3L598.7 363.5L599.2 363.6L599.7 363.7L600.2 363.7L600.7 363.8L601.2 363.9L601.7 364.0L602.2 364.0L602.7 364.1L603.2 364.2L603.7 364.2L604.2 364.3L604.7 364.4L605.2 364.4L605.7 364.5L606.2 364.6L606.7 364.6L607.2 364.7L607.7 364.7L608.2 364.8L608.7 364.9L609.2 364.9L609.7 365.0L610.2 365.0L610.7 365.1L611.2 365.1L611.7 365.2L612.2 365.2L612.7 365.2L613.2 365.3L613.7 365.3L614.2 365.4L614.7 365.4L615.2 365.4L615.7 365.4L616.2 365.4L616.7 365.5L617.2 365.5L617.7 365.5L618.2 365.5L618.7 365.5" fill="none" stroke="#000" stroke-width="1.00" stroke-linejoin="round" clip-path="url(#c11)"/>
<rect x="349.40" y="249.30" width="268.90" height="119.40" fill="none" stroke="#000" stroke-width="1.20"/>
<text x="343.70" y="373.10" text-anchor="end" font-size="10.0" textLength="11.6" lengthAdjust="spacingAndGlyphs">0.0</text>
<text x="343.70" y="337.50" text-anchor="end" font-size="10.0" textLength="11.6" lengthAdjust="spacingAndGlyphs">0.1</text>
<text x="343.70" y="301.90" text-anchor="end" font-size="10.0" textLength="11.6" lengthAdjust="spacingAndGlyphs">0.2</text>
<text x="343.70" y="266.30" text-anchor="end" font-size="10.0" textLength="11.6" lengthAdjust="spacingAndGlyphs">0.3</text>
<path d="M349.40 368.70h-3.2M349.40 333.10h-3.2M349.40 297.50h-3.2M349.40 261.90h-3.2M351.99 368.70v3.2M369.05 368.70v2.0M379.03 368.70v2.0M386.11 368.70v2.0M391.61 368.70v2.0M396.09 368.70v2.0M399.89 368.70v2.0M403.17 368.70v2.0M406.07 368.70v2.0M408.67 368.70v3.2M425.73 368.70v2.0M435.71 368.70v2.0M442.79 368.70v2.0M448.28 368.70v2.0M452.77 368.70v2.0M456.56 368.70v2.0M459.85 368.70v2.0M462.75 368.70v2.0M465.34 368.70v3.2M482.40 368.70v2.0M492.38 368.70v2.0M499.46 368.70v2.0M504.95 368.70v2.0M509.44 368.70v2.0M513.23 368.70v2.0M516.52 368.70v2.0M519.42 368.70v2.0M522.01 368.70v3.2M539.07 368.70v2.0M549.05 368.70v2.0M556.13 368.70v2.0M561.63 368.70v2.0M566.11 368.70v2.0M569.91 368.70v2.0M573.19 368.70v2.0M576.09 368.70v2.0M578.69 368.70v3.2M595.75 368.70v2.0M605.73 368.70v2.0M612.81 368.70v2.0" stroke="#000" stroke-width="0.95" fill="none"/>
<text transform="translate(326.50 309.00) rotate(-90)" text-anchor="middle" font-size="10.0" style="letter-spacing:0.05px">Normalized power</text>
<text x="615.50" y="259.60" text-anchor="end" font-size="10.0" style="word-spacing:1.1px">FAP = 7.2e-08</text>
<circle cx="389.56" cy="276.85" r="2.1" fill="#f00"/>
<text x="390.16" y="270.35" text-anchor="start" font-size="9.7" class="r">4.601 d</text>
</g>
<g>
<clipPath id="c21"><rect x="668.60" y="249.30" width="268.90" height="119.40"/></clipPath>
<path d="M668.6 368.7L668.6 355.1L669.6 357.5L670.3 358.5L671.0 357.9L672.0 353.2L672.8 355.6L673.5 356.9L674.1 357.1L675.1 357.1L675.9 358.1L676.7 359.0L677.5 360.2L678.4 359.2L679.3 359.2L680.3 359.0L681.0 358.0L681.7 356.4L682.6 355.0L683.2 357.7L684.1 355.3L684.9 354.7L685.8 356.3L686.9 357.9L687.6 359.0L688.3 361.0L688.9 358.7L689.9 357.6L690.5 357.1L691.3 357.0L692.4 360.2L693.2 361.9L694.1 363.2L695.1 363.9L695.9 362.5L696.8 361.0L697.5 358.1L698.3 359.0L699.1 357.3L699.8 357.8L700.8 356.8L701.5 359.2L702.4 362.1L703.3 363.7L704.1 364.1L704.8 364.2L705.6 364.2L706.6 363.5L707.5 362.6L708.3 363.2L709.3 362.0L710.1 360.9L711.1 358.8L712.0 355.5L713.1 358.1L713.8 361.1L714.6 362.1L715.3 362.9L716.2 364.3L717.1 364.4L718.1 364.2L719.1 362.3L720.0 361.8L720.7 362.2L721.8 362.3L722.5 362.7L723.3 363.6L723.9 361.9L724.8 360.5L725.7 358.5L726.5 357.8L727.3 356.6L728.1 358.1L728.7 357.4L729.7 358.3L730.6 359.7L731.3 360.4L732.2 358.0L733.0 358.8L733.7 358.6L734.7 358.5L735.7 358.7L736.5 360.7L737.2 362.2L738.3 363.0L739.1 363.6L740.1 363.0L740.8 363.5L741.5 363.6L742.3 365.1L743.1 365.5L744.2 366.2L744.8 366.9L745.5 367.4L746.4 367.5L747.2 367.9L747.9 368.3L747.9 368.7Z" fill="#000" stroke="none" clip-path="url(#c21)"/>
<path d="M668.9 367.6L668.9 354.0L668.9 365.8L669.4 367.6L669.4 349.6L669.4 366.3L669.8 366.9L669.8 356.1L669.8 367.6L670.2 368.1L670.2 356.9L670.3 367.8L670.7 365.8L670.7 356.0L670.8 366.4L671.1 366.0L671.2 351.1L671.2 366.5L671.5 364.5L671.6 349.7L671.6 367.4L672.0 364.5L672.0 350.5L672.0 368.0L672.5 367.6L672.5 342.7L672.5 366.0L672.9 365.2L672.9 352.0L673.0 367.8L673.3 367.3L673.3 355.3L673.4 367.2L673.8 367.7L673.8 351.4L673.9 367.4L674.3 367.6L674.3 345.6L674.3 365.3L674.8 366.4L674.8 354.0L674.8 365.6L675.3 364.7L675.3 352.2L675.4 368.5L675.7 368.4L675.7 348.4L675.8 367.3L676.2 365.2L676.2 354.7L676.2 367.6L676.6 368.4L676.6 358.0L676.6 367.7L677.0 366.9L677.1 357.3L677.1 367.3L677.6 366.9L677.6 297.3L677.6 368.7L678.1 367.2L678.1 357.3L678.1 367.6L678.5 368.6L678.6 355.6L678.6 368.2L679.0 365.8L679.1 356.6L679.1 368.6L679.5 367.4L679.6 352.2L679.6 366.4L680.0 365.9L680.0 357.9L680.1 366.8L680.4 368.0L680.4 354.9L680.5 367.0L680.8 368.5L680.9 358.5L680.9 368.6L681.3 367.1L681.3 355.0L681.3 368.1L681.8 366.2L681.8 356.0L681.8 366.2L682.2 368.2L682.3 357.0L682.3 368.1L682.7 368.3L682.7 353.4L682.8 364.8L683.2 367.1L683.2 351.7L683.2 366.4L683.7 367.6L683.7 356.6L683.8 368.6L684.1 368.7L684.2 355.9L684.2 365.4L684.6 368.5L684.6 355.6L684.6 367.4L685.1 365.8L685.1 352.1L685.1 366.8L685.5 367.7L685.5 352.6L685.6 364.9L686.0 367.2L686.0 355.0L686.0 365.6L686.4 367.9L686.4 357.7L686.5 367.4L686.9 366.3L686.9 357.4L687.0 367.0L687.4 367.5L687.4 357.0L687.4 365.8L687.8 366.8L687.9 358.6L687.9 368.0L688.2 368.2L688.3 356.8L688.3 366.9L688.7 365.7L688.7 355.6L688.8 366.3L689.2 368.4L689.2 357.2L689.2 368.4L689.6 368.1L689.7 357.6L689.7 366.3L690.1 368.3L690.1 353.0L690.2 365.8L690.6 365.0L690.6 353.0L690.6 366.5L691.0 365.8L691.1 354.2L691.1 365.3L691.4 366.8L691.5 354.9L691.5 366.3L691.8 365.5L691.9 355.1L691.9 366.7L692.3 367.5L692.3 357.5L692.4 366.3L692.7 367.4L692.7 360.7L692.7 368.0L693.1 367.2L693.1 358.5L693.1 368.4L693.5 368.5L693.6 359.6L693.6 366.7L694.0 368.5L694.0 360.9L694.1 367.6L694.4 367.5L694.4 362.0L694.4 368.6L694.8 368.3L694.9 361.0L694.9 367.9L695.3 368.3L695.3 362.9L695.4 367.5L695.8 368.3L695.8 359.9L695.9 366.8L696.3 366.9L696.4 361.3L696.4 366.5L696.8 368.5L696.9 358.4L696.9 367.1L697.3 366.1L697.3 354.0L697.4 366.5L697.8 367.9L697.8 355.5L697.9 365.3L698.2 368.0L698.3 357.1L698.3 368.0L698.8 365.8L698.8 358.1L698.8 368.6L699.1 368.2L699.2 357.6L699.2 367.2L699.6 366.0L699.7 353.5L699.7 367.0L700.0 365.5L700.1 352.7L700.1 366.3L700.5 366.2L700.6 355.5L700.6 367.3L701.0 365.0L701.1 353.3L701.1 365.5L701.5 367.8L701.5 356.1L701.6 367.7L701.9 367.8L701.9 356.0L702.0 366.4L702.3 367.8L702.4 360.4L702.4 367.1L702.8 367.8L702.9 363.4L702.9 367.7L703.2 368.5L703.3 363.5L703.3 367.5L703.7 368.2L703.7 363.3L703.8 368.4L704.2 367.7L704.2 361.9L704.2 368.0L704.7 367.9L704.7 361.0L704.8 367.5L705.2 367.2L705.2 276.9L705.2 367.8L705.6 367.4L705.6 362.8L705.6 368.3L706.1 368.4L706.1 362.7L706.2 368.3L706.5 367.1L706.5 361.3L706.6 368.3L706.9 367.7L706.9 358.1L706.9 367.4L707.3 368.2L707.3 360.9L707.4 367.9L707.7 367.8L707.8 358.8L707.8 367.4L708.1 366.7L708.2 361.6L708.2 368.2L708.6 367.6L708.6 357.3L708.7 367.3L709.0 366.6L709.0 361.4L709.1 366.7L709.4 368.1L709.4 361.7L709.5 367.6L709.8 367.0L709.9 359.1L709.9 368.6L710.2 368.1L710.2 358.3L710.3 367.0L710.6 368.3L710.6 356.8L710.7 366.8L711.1 366.4L711.1 350.7L711.2 367.3L711.6 366.7L711.6 356.2L711.6 368.0L712.0 367.1L712.1 354.2L712.1 368.1L712.5 365.2L712.5 355.1L712.6 367.3L713.0 366.9L713.0 355.3L713.1 366.0L713.4 368.1L713.5 356.8L713.5 366.4L713.9 366.6L713.9 359.0L714.0 366.7L714.3 366.5L714.3 348.7L714.4 366.6L714.7 366.7L714.7 361.2L714.8 367.4L715.1 367.3L715.1 362.7L715.1 368.0L715.5 368.0L715.5 356.5L715.6 367.7L715.9 368.2L716.0 364.0L716.0 367.8L716.4 367.5L716.4 357.8L716.5 368.0L716.9 367.9L716.9 362.6L716.9 367.5L717.3 368.5L717.3 363.8L717.3 368.2L717.6 368.7L717.7 354.7L717.7 367.8L718.1 368.7L718.2 361.4L718.2 367.3L718.6 367.0L718.6 361.8L718.7 368.5L719.0 368.2L719.1 356.0L719.1 368.3L719.4 367.9L719.5 357.1L719.5 367.6L719.8 367.4L719.9 351.3L719.9 367.3L720.3 368.7L720.3 351.4L720.3 367.2L720.7 367.9L720.7 361.7L720.8 366.6L721.1 368.6L721.2 357.6L721.2 367.3L721.6 368.4L721.6 362.1L721.7 368.6L722.0 367.9L722.1 361.5L722.1 368.0L722.5 368.2L722.5 361.0L722.6 368.0L723.0 368.5L723.0 356.9L723.0 367.4L723.4 367.2L723.5 361.0L723.5 367.5L723.9 367.9L723.9 357.4L724.0 368.0L724.4 366.6L724.4 359.7L724.4 366.7L724.8 367.9L724.9 358.4L724.9 366.7L725.3 366.0L725.3 359.0L725.4 367.0L725.7 366.3L725.8 354.8L725.8 367.0L726.2 366.3L726.3 356.1L726.3 365.6L726.7 368.2L726.8 355.7L726.8 365.3L727.1 365.5L727.2 354.7L727.2 367.2L727.6 366.1L727.6 355.4L727.7 368.3L728.1 367.3L728.1 357.9L728.2 365.5L728.5 367.6L728.6 354.3L728.6 366.4L729.0 366.2L729.0 356.6L729.1 365.4L729.5 365.9L729.5 355.0L729.5 367.8L730.0 365.7L730.0 357.9L730.0 366.8L730.4 365.6L730.5 353.5L730.5 368.0L730.9 367.0L730.9 355.5L731.0 366.7L731.5 367.5L731.5 359.3L731.6 368.5L732.0 367.5L732.0 358.9L732.0 365.9L732.5 366.3L732.6 356.8L732.6 368.5L733.1 366.1L733.2 353.0L733.2 366.1L733.7 366.5L733.8 355.8L733.8 365.9L734.3 366.2L734.3 352.1L734.4 367.8L734.8 366.8L734.9 357.0L734.9 367.5L735.6 368.0L735.6 356.8L735.6 366.8L736.1 368.1L736.2 357.5L736.2 366.3L736.8 368.1L736.8 358.2L736.8 368.3L737.4 368.3L737.4 354.8L737.5 368.6L737.9 366.0" fill="none" stroke="#000" stroke-width="0.72" stroke-linejoin="round" clip-path="url(#c21)"/>
<path d="M737.9 366.0L738.2 360.2L738.5 365.0L738.6 367.4L739.0 360.3L739.3 366.2L739.6 363.8L740.0 355.7L740.3 363.8L740.3 363.3L740.7 353.0L741.1 364.2L741.0 364.0L741.3 351.7L741.7 363.7L741.6 363.0L741.9 357.9L742.3 362.8L742.6 364.7L743.0 360.5L743.4 363.9L743.7 367.1L744.1 359.8L744.5 364.9L744.4 367.8L744.8 358.0L745.2 366.6L745.7 365.8L746.2 363.5L746.6 367.8L746.8 365.3L747.2 358.9L747.7 365.4L748.0 366.3L748.5 347.8L749.0 364.3L748.7 366.8L749.2 349.6L749.7 367.8L749.8 368.2L750.3 357.3L750.8 368.0L750.7 367.6L751.2 356.9L751.7 367.4L752.3 367.2L752.9 353.3L753.4 368.0L753.2 368.2L753.8 357.3L754.4 366.8L754.6 367.0L755.2 358.7L755.8 366.3L756.5 365.4L757.1 354.5L757.8 364.3L757.3 367.6L758.0 354.2L758.6 366.9L758.7 367.8L759.4 356.3L760.1 366.3L760.1 365.7L760.8 354.3L761.5 365.8L761.7 367.8L762.5 356.7L763.2 366.8L762.9 366.9L763.7 357.7L764.5 366.6L764.3 367.3L765.1 358.5L765.9 367.0L766.8 368.0L767.7 362.3L768.5 367.9L769.1 367.3L770.0 353.3L770.9 366.4L771.2 367.8L772.2 357.8L773.1 367.3L773.6 367.5L774.5 361.1L775.5 367.1L775.9 367.5L776.9 359.6L778.0 367.9L779.9 365.8L781.0 355.0L782.1 366.8L781.5 367.4L782.6 362.0L783.8 365.8L784.1 366.9L785.2 356.2L786.4 367.4L787.0 367.7L788.2 365.9L789.4 368.4L788.6 367.9L789.9 364.6L791.1 367.4L791.7 366.2L793.0 364.9L794.3 366.0L793.7 366.9L795.0 361.9L796.3 368.1L796.6 367.9L798.0 362.0L799.3 367.9L800.0 367.4L801.3 359.8L802.7 367.4L804.0 367.8L805.4 363.7L806.8 366.3L806.9 367.3L808.4 365.0L809.8 366.7L811.0 367.4L812.5 356.3L814.0 366.8L815.1 368.1L816.3 355.4L817.5 368.2L818.9 367.2L820.5 361.6L822.1 367.4L822.7 368.2L823.9 360.8L825.1 368.4L824.9 367.9L826.6 364.3L828.2 367.8L829.5 368.0L830.0 368.1L830.5 368.2L831.0 368.3L831.5 368.4L832.0 368.4L832.5 368.5L833.0 368.6L833.5 368.6L834.0 368.6L834.5 368.6L835.0 368.7L835.5 368.7L836.0 368.7L836.5 368.7L837.0 368.7L837.5 368.7L838.0 368.7L838.5 368.7L839.0 368.6L839.5 368.5L840.0 368.3L840.5 368.1L841.0 367.9L841.5 367.8L842.0 367.6L842.5 367.4L843.0 367.3L843.5 367.3L844.0 367.3L844.5 367.5L845.0 367.8L845.5 368.0L846.0 367.5L846.5 366.3L847.0 364.9L847.5 363.8L848.0 363.3L848.5 363.7L849.0 364.7L849.5 366.0L850.0 367.3L850.5 368.3L851.0 368.7L851.5 368.7L852.0 368.7L852.5 368.7L853.0 368.7L853.5 368.7L854.0 368.7L854.5 368.7L855.0 368.7L855.5 368.7L856.0 368.7L856.5 368.4L857.0 367.6L857.5 366.4L858.0 365.1L858.5 363.7L859.0 362.5L859.5 361.6L860.0 361.1L860.5 361.2L861.0 361.5L861.5 361.4L862.0 360.8L862.5 359.8L863.0 358.4L863.5 356.8L864.0 355.0L864.5 353.3L865.0 351.6L865.5 350.1L866.0 348.8L866.5 347.9L867.0 347.5L867.5 347.6L868.0 348.1L868.5 348.7L869.0 349.6L869.5 350.7L870.0 351.9L870.5 353.1L871.0 354.3L871.5 355.5L872.0 356.6L872.5 357.6L873.0 358.3L873.5 359.1L874.0 359.9L874.5 360.6L875.0 361.4L875.5 362.1L876.0 362.8L876.5 363.4L877.0 364.0L877.5 364.6L878.0 365.1L878.5 365.6L879.0 366.0L879.5 366.4L880.0 366.7L880.5 367.1L881.0 367.4L881.5 367.7L882.0 368.0L882.5 368.3L883.0 368.5L883.5 368.6L884.0 368.7L884.5 368.7L885.0 368.7L885.5 368.7L886.0 368.6L886.5 368.6L887.0 368.6L887.5 368.5L888.0 368.4L888.5 368.4L889.0 368.3L889.5 368.3L890.0 368.2L890.5 368.1L891.0 368.0L891.5 367.8L892.0 367.7L892.5 367.5L893.0 367.4L893.5 367.2L894.0 367.1L894.5 366.9L895.0 366.8L895.5 366.7L896.0 366.6L896.5 366.5L897.0 366.4L897.5 366.4L898.0 366.4L898.5 366.4L899.0 366.3L899.5 366.3L900.0 366.3L900.5 366.3L901.0 366.3L901.5 366.3L902.0 366.3L902.5 366.3L903.0 366.3L903.5 366.3L904.0 366.3L904.5 366.3L905.0 366.3L905.5 366.3L906.0 366.3L906.5 366.3L907.0 366.3L907.5 366.3L908.0 366.3L908.5 366.3L909.0 366.3L909.5 366.3L910.0 366.3L910.5 366.2L911.0 366.2L911.5 366.2L912.0 366.2L912.5 366.2L913.0 366.2L913.5 366.2L914.0 366.2L914.5 366.2L915.0 366.2L915.5 366.2L916.0 366.2L916.5 366.2L917.0 366.2L917.5 366.2L918.0 366.2L918.5 366.2L919.0 366.2L919.5 366.2L920.0 366.2L920.5 366.2L921.0 366.2L921.5 366.2L922.0 366.2L922.5 366.2L923.0 366.2L923.5 366.2L924.0 366.2L924.5 366.2L925.0 366.2L925.5 366.2L926.0 366.2L926.5 366.2L927.0 366.2L927.5 366.2L928.0 366.2L928.5 366.2L929.0 366.2L929.5 366.2L930.0 366.2L930.5 366.2L931.0 366.2L931.5 366.2L932.0 366.2L932.5 366.2L933.0 366.2L933.5 366.2L934.0 366.2L934.5 366.2L935.0 366.2L935.5 366.2L936.0 366.2L936.5 366.2L937.0 366.2L937.5 366.2L938.0 366.2" fill="none" stroke="#000" stroke-width="1.00" stroke-linejoin="round" clip-path="url(#c21)"/>
<rect x="668.60" y="249.30" width="268.90" height="119.40" fill="none" stroke="#000" stroke-width="1.20"/>
<text x="662.90" y="373.10" text-anchor="end" font-size="10.0" textLength="11.6" lengthAdjust="spacingAndGlyphs">0.0</text>
<text x="662.90" y="337.04" text-anchor="end" font-size="10.0" textLength="11.6" lengthAdjust="spacingAndGlyphs">0.1</text>
<text x="662.90" y="300.98" text-anchor="end" font-size="10.0" textLength="11.6" lengthAdjust="spacingAndGlyphs">0.2</text>
<text x="662.90" y="264.92" text-anchor="end" font-size="10.0" textLength="11.6" lengthAdjust="spacingAndGlyphs">0.3</text>
<path d="M668.60 368.70h-3.2M668.60 332.64h-3.2M668.60 296.58h-3.2M668.60 260.52h-3.2M671.19 368.70v3.2M688.25 368.70v2.0M698.23 368.70v2.0M705.31 368.70v2.0M710.81 368.70v2.0M715.29 368.70v2.0M719.09 368.70v2.0M722.37 368.70v2.0M725.27 368.70v2.0M727.87 368.70v3.2M744.93 368.70v2.0M754.91 368.70v2.0M761.99 368.70v2.0M767.48 368.70v2.0M771.97 368.70v2.0M775.76 368.70v2.0M779.05 368.70v2.0M781.95 368.70v2.0M784.54 368.70v3.2M801.60 368.70v2.0M811.58 368.70v2.0M818.66 368.70v2.0M824.15 368.70v2.0M828.64 368.70v2.0M832.43 368.70v2.0M835.72 368.70v2.0M838.62 368.70v2.0M841.21 368.70v3.2M858.27 368.70v2.0M868.25 368.70v2.0M875.33 368.70v2.0M880.83 368.70v2.0M885.31 368.70v2.0M889.11 368.70v2.0M892.39 368.70v2.0M895.29 368.70v2.0M897.89 368.70v3.2M914.95 368.70v2.0M924.93 368.70v2.0M932.01 368.70v2.0" stroke="#000" stroke-width="0.95" fill="none"/>
<text transform="translate(645.70 309.00) rotate(-90)" text-anchor="middle" font-size="10.0" style="letter-spacing:0.05px">Normalized power</text>
<text x="930.00" y="259.60" text-anchor="end" font-size="10.0" style="word-spacing:1.1px">FAP = 2.1e-1</text>
<circle cx="705.22" cy="276.85" r="2.1" fill="#f00"/>
<text x="705.82" y="270.35" text-anchor="start" font-size="9.7" class="r">3.984 d</text>
</g>
<g>
<clipPath id="c02"><rect x="29.70" y="393.10" width="268.90" height="119.40"/></clipPath>
<path d="M29.7 512.5L29.7 457.6L30.5 464.5L31.2 461.7L32.0 473.1L33.0 476.4L33.7 468.5L34.6 472.0L35.4 474.4L36.3 467.0L37.1 477.0L37.7 475.3L38.6 483.6L39.6 481.1L40.3 482.2L41.3 486.9L42.0 485.8L42.9 482.6L43.5 485.6L44.3 482.7L44.9 480.0L45.5 479.9L46.2 476.6L47.2 476.7L48.1 478.5L49.0 485.4L50.1 484.0L51.1 484.1L52.1 483.8L52.7 486.4L53.4 485.0L54.5 484.8L55.1 487.9L55.9 484.5L56.5 489.4L57.6 491.1L58.4 487.0L59.1 486.8L60.1 488.6L60.7 484.9L61.8 479.6L62.4 481.2L63.3 478.5L64.3 473.3L65.1 476.5L65.9 482.6L66.8 484.1L67.6 480.6L68.6 484.4L69.2 488.7L69.9 488.0L71.0 490.1L72.0 489.2L73.0 487.2L73.7 490.2L74.7 492.2L75.6 491.1L76.3 490.1L77.2 488.6L77.9 487.2L78.8 492.7L79.7 494.2L80.8 494.9L81.8 492.2L82.4 490.9L83.2 488.5L84.2 491.3L85.0 490.5L86.0 490.4L86.9 490.7L88.0 495.4L88.9 492.8L89.7 494.8L90.8 496.2L91.5 492.2L92.5 489.8L93.5 491.4L94.2 491.7L95.1 492.1L96.0 494.8L96.9 499.3L97.6 500.7L98.2 499.1L99.1 498.7L100.1 494.6L100.8 496.6L101.5 492.8L102.6 491.0L103.3 491.6L104.1 494.5L104.7 494.5L105.4 495.1L106.1 492.8L107.1 493.3L108.1 498.0L109.0 498.1L109.8 496.6L110.6 496.2L111.5 495.9L112.6 498.0L113.3 498.9L114.3 501.5L115.1 502.0L116.0 502.4L117.0 502.8L118.0 503.3L118.7 501.4L119.6 500.9L120.4 500.5L121.5 503.7L122.5 504.1L123.6 503.4L124.6 502.8L125.4 503.9L126.4 500.6L127.2 498.7L128.0 500.5L128.8 499.3L129.8 502.1L130.4 500.4L131.2 502.2L132.2 500.8L133.1 501.8L134.0 499.5L134.6 499.4L135.5 501.0L136.5 499.4L137.5 500.9L138.3 501.5L139.0 502.2L139.7 502.3L140.6 501.3L141.7 501.0L142.7 501.1L143.5 508.7L143.5 512.5Z" fill="#000" stroke="none" clip-path="url(#c02)"/>
<path d="M30.2 503.3L30.2 430.9L30.2 511.8L30.7 500.8L30.7 456.3L30.7 496.6L31.1 507.1L31.1 452.7L31.2 510.5L31.5 510.8L31.6 448.7L31.6 500.8L32.0 509.4L32.0 461.9L32.1 508.6L32.4 498.5L32.4 460.9L32.5 502.3L32.9 506.0L32.9 472.8L32.9 502.1L33.3 506.3L33.3 465.1L33.3 505.8L33.7 507.0L33.8 467.3L33.8 500.6L34.1 511.3L34.2 461.7L34.2 505.1L34.8 501.4L34.8 436.4L34.8 511.3L35.2 506.0L35.2 459.5L35.2 505.4L35.7 502.9L35.7 451.2L35.8 498.7L36.2 511.2L36.2 471.1L36.3 504.1L36.7 502.0L36.8 440.1L36.8 506.1L37.2 504.0L37.2 457.3L37.2 505.5L37.6 502.8L37.6 465.0L37.7 502.5L38.1 503.0L38.1 479.3L38.1 506.5L38.5 506.7L38.6 476.0L38.6 506.9L39.0 503.4L39.0 468.9L39.0 503.1L39.4 506.6L39.4 457.0L39.5 502.5L39.8 512.4L39.8 469.1L39.9 509.0L40.3 512.2L40.3 476.0L40.4 512.1L40.7 509.1L40.7 469.1L40.8 504.0L41.3 508.5L41.3 444.3L41.3 511.9L41.7 508.5L41.7 452.5L41.8 504.8L42.1 505.1L42.1 480.9L42.2 503.6L42.5 503.4L42.6 470.0L42.6 504.9L43.0 508.4L43.0 439.0L43.1 508.9L43.5 510.5L43.5 470.4L43.5 503.7L43.9 508.9L43.9 435.5L44.0 507.4L44.3 505.9L44.4 480.3L44.4 509.7L44.8 508.9L44.8 467.7L44.8 503.4L45.3 511.2L45.3 477.7L45.3 507.7L45.8 508.7L45.8 443.4L45.9 511.3L46.2 503.1L46.2 471.1L46.3 504.6L46.6 501.8L46.7 473.3L46.7 510.7L47.1 504.1L47.2 466.2L47.2 500.0L47.6 500.4L47.7 456.4L47.7 501.8L48.0 502.1L48.0 445.3L48.0 512.5L48.4 503.6L48.4 478.6L48.4 510.0L48.9 504.5L48.9 477.3L49.0 506.9L49.4 504.5L49.4 475.2L49.4 511.8L49.8 504.3L49.9 485.1L49.9 505.0L50.3 508.7L50.4 476.3L50.4 510.5L50.9 511.8L50.9 472.8L50.9 510.0L51.4 504.0L51.4 467.7L51.4 503.8L51.8 510.7L51.8 466.3L51.9 503.8L52.3 508.9L52.3 478.1L52.3 508.8L52.7 509.0L52.7 479.5L52.7 512.4L53.2 505.1L53.2 456.8L53.3 510.4L53.7 504.1L53.7 444.7L53.8 510.1L54.2 511.0L54.2 477.9L54.3 507.7L54.6 506.3L54.7 476.8L54.7 506.6L55.0 504.2L55.1 474.9L55.1 504.9L55.4 510.5L55.4 435.7L55.4 508.2L55.9 511.2L55.9 469.4L56.0 506.3L56.3 510.0L56.3 469.9L56.4 510.6L56.7 505.9L56.8 488.8L56.8 511.2L57.2 504.5L57.3 478.1L57.3 507.5L57.8 508.8L57.8 481.7L57.8 505.9L58.2 505.3L58.3 445.8L58.3 507.4L58.6 508.1L58.7 482.5L58.7 510.2L59.1 505.2L59.1 454.9L59.1 508.6L59.6 510.3L59.6 487.1L59.7 510.7L60.2 510.2L60.2 448.3L60.2 511.1L60.7 510.8L60.7 484.8L60.7 508.5L61.2 504.4L61.2 467.5L61.3 508.8L61.6 510.0L61.7 457.0L61.7 506.4L62.1 508.3L62.1 480.5L62.2 512.2L62.5 511.3L62.5 445.1L62.6 509.4L63.0 504.9L63.1 472.1L63.1 509.2L63.5 500.7L63.5 463.5L63.5 507.9L64.0 504.8L64.0 464.9L64.1 504.8L64.4 502.7L64.4 464.1L64.5 503.8L64.9 511.5L64.9 472.4L65.0 510.9L65.3 505.5L65.4 461.7L65.4 504.0L65.8 511.4L65.8 482.2L65.8 506.3L66.2 505.4L66.2 481.2L66.3 508.9L66.6 504.3L66.6 479.4L66.7 510.3L67.1 511.6L67.1 477.9L67.2 506.0L67.5 504.9L67.6 470.0L67.6 506.8L68.0 504.3L68.0 459.4L68.0 507.8L68.4 505.7L68.4 476.7L68.5 507.9L68.9 504.0L69.0 462.6L69.0 504.8L69.4 507.9L69.4 472.9L69.5 507.7L69.8 511.6L69.9 452.9L69.9 505.1L70.3 509.2L70.4 453.3L70.4 510.6L70.9 508.4L70.9 477.8L71.0 506.0L71.3 508.3L71.4 482.0L71.4 508.9L71.8 511.1L71.8 483.3L71.9 507.5L72.2 508.1L72.3 458.0L72.3 504.5L72.8 511.1L72.8 460.1L72.8 511.0L73.2 511.7L73.2 468.6L73.3 511.5L73.8 512.0L73.8 485.7L73.8 510.1L74.3 507.1L74.3 482.0L74.4 510.5L74.8 512.4L74.8 479.5L74.8 511.8L75.3 509.1L75.3 486.1L75.3 507.5L75.8 510.4L75.8 487.9L75.9 512.3L76.3 505.2L76.4 461.9L76.4 508.6L76.8 505.2L76.8 482.8L76.9 504.6L77.3 509.7L77.3 479.9L77.3 512.1L77.7 506.3L77.7 463.6L77.8 509.3L78.1 505.8L78.2 486.5L78.2 509.8L78.7 505.3L78.7 481.1L78.8 506.9L79.2 507.7L79.2 486.9L79.2 505.9L79.7 509.7L79.7 452.2L79.8 505.8L80.1 507.5L80.2 469.7L80.2 510.7L80.6 506.2L80.7 490.6L80.7 507.4L81.1 506.6L81.2 484.3L81.2 507.1L81.7 507.3L81.7 492.1L81.7 506.7L82.2 507.1L82.2 475.8L82.2 508.0L82.7 507.5L82.7 484.4L82.7 508.4L83.1 510.0L83.1 480.9L83.2 508.0L83.6 506.3L83.7 481.7L83.7 508.9L84.1 508.9L84.2 473.1L84.2 506.3L84.5 512.1L84.6 420.4L84.6 507.1L85.0 506.5L85.1 486.0L85.1 511.2L85.6 511.4L85.6 484.8L85.7 506.5L86.1 507.5L86.2 476.7L86.2 511.6L86.6 506.7L86.7 461.8L86.7 507.5L87.0 512.5L87.0 441.4L87.0 506.5L87.5 507.2L87.5 489.8L87.6 508.5L88.0 509.8L88.0 490.7L88.0 506.6L88.5 510.8L88.6 486.0L88.6 507.2L89.1 508.1L89.1 490.6L89.1 509.6L89.5 511.0L89.6 487.6L89.6 506.9L90.0 511.4L90.0 470.4L90.0 506.7L90.5 507.5L90.6 463.1L90.6 508.0L91.0 511.2L91.1 488.0L91.1 510.3L91.6 508.0L91.6 487.5L91.6 508.2L92.0 512.1L92.1 479.8L92.1 506.1L92.6 506.5L92.6 463.6L92.6 509.1L93.1 506.1L93.1 460.5L93.2 508.7L93.6 507.2L93.7 479.5L93.7 508.6L94.1 512.4L94.1 470.2L94.1 506.0L94.6 508.6L94.6 465.1L94.6 511.3L95.1 508.0L95.1 492.6L95.2 511.4L95.6 508.2L95.7 494.4L95.7 507.6L96.1 511.3L96.2 488.5L96.2 510.0L96.6 510.7L96.6 492.5L96.7 511.7L96.9 510.6L96.9 451.2L96.9 510.6L97.4 509.4L97.5 499.2L97.5 512.0L98.0 508.2L98.0 495.1L98.1 510.9L98.4 510.3L98.5 457.0L98.5 510.7L99.0 508.5L99.0 479.1L99.1 512.3L99.5 512.4L99.5 476.0L99.6 509.3L99.9 511.7L100.0 487.3L100.0 512.3L100.5 511.8L100.5 490.0L100.6 507.3L101.1 510.6L101.1 470.4L101.2 512.1L101.7 510.2L101.7 485.2L101.8 506.9L102.3 509.7L102.3 487.8L102.4 506.8L102.7 496.6" fill="none" stroke="#000" stroke-width="0.72" stroke-linejoin="round" clip-path="url(#c02)"/>
<path d="M102.7 496.6L103.0 489.1L103.3 506.7L103.2 504.3L103.6 464.2L103.9 502.8L104.0 497.2L104.4 455.8L104.8 500.6L105.0 503.9L105.4 455.7L105.8 502.9L106.4 505.1L106.8 454.2L107.2 505.4L107.4 506.2L107.8 485.9L108.3 506.6L108.2 504.7L108.7 490.8L109.2 510.1L109.2 500.1L109.8 467.4L110.3 500.6L110.9 505.1L111.5 490.1L112.1 507.7L112.2 503.1L112.9 486.1L113.5 502.8L113.2 510.7L113.9 438.4L114.6 510.5L115.0 509.9L115.7 500.7L116.4 507.5L116.8 510.9L117.5 496.2L118.3 507.1L119.0 505.8L119.8 472.7L120.6 506.6L120.3 509.2L121.2 498.3L122.0 510.1L121.6 508.1L122.5 478.9L123.4 508.1L124.1 507.7L125.0 468.8L125.9 507.3L125.6 510.7L126.5 474.4L127.5 505.2L128.2 504.9L129.2 478.9L130.2 507.9L129.7 510.4L130.7 489.1L131.8 504.7L131.0 508.3L132.1 499.7L133.2 507.0L132.7 509.0L133.8 462.1L134.9 510.5L135.1 506.2L136.2 497.0L137.4 506.2L137.1 504.1L138.3 493.9L139.5 509.6L140.1 505.2L141.3 485.8L142.5 503.8L143.7 509.2L144.3 500.9L144.9 509.0L144.9 509.3L145.4 502.7L146.0 508.8L146.2 509.5L146.8 504.3L147.4 509.1L147.6 508.6L148.2 504.6L148.8 509.5L148.6 509.7L149.2 503.2L149.8 510.1L150.5 511.4L151.1 506.9L151.7 508.6L152.1 509.0L152.7 500.8L153.3 508.6L153.6 510.0L154.3 504.8L154.9 510.3L155.5 509.8L156.2 504.6L156.8 511.7L156.9 511.8L157.5 504.5L158.2 510.8L157.8 509.6L158.5 504.1L159.2 510.9L159.4 509.9L160.1 505.1L160.8 509.8L161.5 511.7L162.2 502.6L162.9 509.0L162.8 509.6L163.5 503.8L164.2 510.3L164.8 509.9L165.5 507.3L166.2 508.9L166.5 509.7L167.3 502.2L168.0 509.4L168.9 510.7L169.7 508.2L170.4 511.2L171.0 508.4L171.8 503.4L172.6 510.1L172.3 510.7L173.1 506.9L173.8 511.0L173.8 510.0L174.6 499.1L175.4 511.1L175.5 509.7L176.3 503.0L177.1 510.1L177.9 511.2L178.8 508.2L179.6 509.6L180.6 509.8L181.5 504.4L182.3 511.8L182.8 510.1L183.6 504.6L184.5 510.9L184.2 511.3L185.0 505.7L185.9 511.7L186.9 509.9L187.8 506.6L188.8 508.8L188.5 510.5L189.4 506.1L190.4 509.1L190.5 510.5L191.0 510.9L191.5 511.2L192.0 511.3L192.5 511.4L193.0 511.5L193.5 511.5L194.0 511.5L194.5 510.7L195.0 508.9L195.5 506.6L196.0 504.6L196.5 503.6L197.0 504.0L197.5 505.2L198.0 506.9L198.5 508.7L199.0 510.0L199.5 510.5L200.0 510.3L200.5 509.7L201.0 508.9L201.5 508.0L202.0 507.2L202.5 506.7L203.0 506.6L203.5 507.3L204.0 508.5L204.5 509.4L205.0 509.4L205.5 508.4L206.0 506.7L206.5 504.8L207.0 503.2L207.5 502.3L208.0 502.4L208.5 503.1L209.0 504.3L209.5 505.7L210.0 507.1L210.5 508.4L211.0 509.2L211.5 509.5L212.0 509.5L212.5 509.4L213.0 509.3L213.5 509.1L214.0 509.0L214.5 508.8L215.0 508.6L215.5 508.4L216.0 508.3L216.5 508.2L217.0 508.1L217.6 508.1L218.1 508.1L218.6 508.3L219.1 508.7L219.6 509.1L220.1 509.6L220.6 510.1L221.1 510.6L221.6 511.1L222.1 511.6L222.6 512.0L223.1 512.3L223.6 512.5L224.1 512.5L224.6 512.3L225.1 511.9L225.6 511.4L226.1 510.8L226.6 510.0L227.1 509.2L227.6 508.4L228.1 507.5L228.6 506.7L229.1 506.0L229.6 505.3L230.1 504.8L230.6 504.5L231.1 504.3L231.6 504.3L232.1 504.3L232.6 504.3L233.1 504.4L233.6 504.4L234.1 504.5L234.6 504.6L235.1 504.6L235.6 504.7L236.1 504.8L236.6 504.9L237.1 505.0L237.6 505.1L238.1 505.2L238.6 505.3L239.1 505.4L239.6 505.5L240.1 505.7L240.6 505.8L241.1 505.9L241.6 506.1L242.1 506.3L242.6 506.6L243.1 506.8L243.6 507.2L244.1 507.5L244.6 507.8L245.1 508.2L245.6 508.5L246.1 508.9L246.6 509.3L247.1 509.7L247.6 510.0L248.1 510.4L248.6 510.7L249.1 511.0L249.6 511.3L250.1 511.6L250.6 511.9L251.1 512.1L251.6 512.2L252.1 512.4L252.6 512.5L253.1 512.5L253.6 512.4L254.1 512.2L254.6 511.9L255.1 511.4L255.6 510.8L256.1 510.1L256.6 509.3L257.1 508.4L257.6 507.4L258.1 506.4L258.6 505.4L259.1 504.3L259.6 503.2L260.1 502.1L260.6 501.0L261.1 500.0L261.6 499.0L262.1 498.0L262.6 497.1L263.1 496.3L263.6 495.6L264.1 494.9L264.6 494.4L265.1 494.0L265.6 493.8L266.1 493.6L266.6 493.5L267.1 493.4L267.6 493.3L268.1 493.2L268.6 493.1L269.1 493.0L269.6 493.0L270.1 492.9L270.6 492.8L271.1 492.7L271.6 492.7L272.2 492.6L272.7 492.6L273.2 492.5L273.7 492.5L274.2 492.4L274.7 492.4L275.2 492.4L275.7 492.4L276.2 492.3L276.7 492.3L277.2 492.3L277.7 492.3L278.2 492.3L278.7 492.3L279.2 492.3L279.7 492.3L280.2 492.3L280.7 492.3L281.2 492.3L281.7 492.3L282.2 492.3L282.7 492.2L283.2 492.2L283.7 492.2L284.2 492.2L284.7 492.2L285.2 492.2L285.7 492.2L286.2 492.2L286.7 492.2L287.2 492.2L287.7 492.2L288.2 492.2L288.7 492.2L289.2 492.2L289.7 492.2L290.2 492.2L290.7 492.2L291.2 492.2L291.7 492.2L292.2 492.2L292.7 492.2L293.2 492.2L293.7 492.2L294.2 492.2L294.7 492.2L295.2 492.2L295.7 492.2L296.2 492.1L296.7 492.1L297.2 492.1L297.7 492.1L298.2 492.1L298.7 492.1" fill="none" stroke="#000" stroke-width="1.00" stroke-linejoin="round" clip-path="url(#c02)"/>
<rect x="29.70" y="393.10" width="268.90" height="119.40" fill="none" stroke="#000" stroke-width="1.20"/>
<text x="24.00" y="516.90" text-anchor="end" font-size="10.0" textLength="20.9" lengthAdjust="spacingAndGlyphs">0.000</text>
<text x="24.00" y="492.20" text-anchor="end" font-size="10.0" textLength="20.9" lengthAdjust="spacingAndGlyphs">0.025</text>
<text x="24.00" y="467.50" text-anchor="end" font-size="10.0" textLength="20.9" lengthAdjust="spacingAndGlyphs">0.050</text>
<text x="24.00" y="442.80" text-anchor="end" font-size="10.0" textLength="20.9" lengthAdjust="spacingAndGlyphs">0.075</text>
<text x="24.00" y="418.10" text-anchor="end" font-size="10.0" textLength="20.9" lengthAdjust="spacingAndGlyphs">0.100</text>
<text x="31.79" y="525.70" text-anchor="middle" font-size="10.0">10<tspan dy="-3.6" font-size="7">0</tspan></text>
<text x="88.47" y="525.70" text-anchor="middle" font-size="10.0">10<tspan dy="-3.6" font-size="7">1</tspan></text>
<text x="145.14" y="525.70" text-anchor="middle" font-size="10.0">10<tspan dy="-3.6" font-size="7">2</tspan></text>
<text x="201.81" y="525.70" text-anchor="middle" font-size="10.0">10<tspan dy="-3.6" font-size="7">3</tspan></text>
<text x="258.49" y="525.70" text-anchor="middle" font-size="10.0">10<tspan dy="-3.6" font-size="7">4</tspan></text>
<path d="M29.70 512.50h-3.2M29.70 487.80h-3.2M29.70 463.10h-3.2M29.70 438.40h-3.2M29.70 413.70h-3.2M32.29 512.50v3.2M49.35 512.50v2.0M59.33 512.50v2.0M66.41 512.50v2.0M71.91 512.50v2.0M76.39 512.50v2.0M80.19 512.50v2.0M83.47 512.50v2.0M86.37 512.50v2.0M88.97 512.50v3.2M106.03 512.50v2.0M116.01 512.50v2.0M123.09 512.50v2.0M128.58 512.50v2.0M133.07 512.50v2.0M136.86 512.50v2.0M140.15 512.50v2.0M143.05 512.50v2.0M145.64 512.50v3.2M162.70 512.50v2.0M172.68 512.50v2.0M179.76 512.50v2.0M185.25 512.50v2.0M189.74 512.50v2.0M193.53 512.50v2.0M196.82 512.50v2.0M199.72 512.50v2.0M202.31 512.50v3.2M219.37 512.50v2.0M229.35 512.50v2.0M236.43 512.50v2.0M241.93 512.50v2.0M246.41 512.50v2.0M250.21 512.50v2.0M253.49 512.50v2.0M256.39 512.50v2.0M258.99 512.50v3.2M276.05 512.50v2.0M286.03 512.50v2.0M293.11 512.50v2.0" stroke="#000" stroke-width="0.95" fill="none"/>
<text x="164.15" y="537.10" text-anchor="middle" font-size="10.0" style="letter-spacing:0.2px">Period (d)</text>
<text transform="translate(-3.50 452.80) rotate(-90)" text-anchor="middle" font-size="10.0" style="letter-spacing:0.05px">Normalized power</text>
<text x="295.80" y="403.40" text-anchor="end" font-size="10.0" style="word-spacing:1.1px">FAP = 0.95</text>
<circle cx="84.56" cy="420.65" r="2.1" fill="#f00"/>
<text x="85.16" y="414.15" text-anchor="start" font-size="9.7" class="r">8.360 d</text>
</g>
<g>
<clipPath id="c12"><rect x="349.40" y="393.10" width="268.90" height="119.40"/></clipPath>
<path d="M349.4 512.5L349.4 462.0L350.4 456.9L351.3 456.8L352.2 472.1L353.0 476.2L353.6 473.1L354.4 470.1L355.3 472.7L356.0 466.4L357.1 477.1L357.8 478.6L358.4 478.2L359.3 481.2L359.9 480.9L360.8 477.2L361.7 473.3L362.4 473.3L363.1 468.5L363.8 467.9L364.7 470.7L365.6 474.7L366.4 484.6L367.2 487.2L368.2 483.1L369.1 486.5L370.0 483.2L370.7 483.8L371.3 486.4L372.1 488.2L372.9 485.1L373.5 487.1L374.6 485.5L375.4 485.7L376.0 489.9L376.8 487.7L377.4 488.8L378.4 489.5L379.5 489.2L380.2 494.1L380.9 495.3L381.5 498.0L382.5 496.4L383.4 495.1L384.2 494.7L385.3 491.5L386.2 494.5L387.2 497.6L388.1 498.8L388.9 496.9L389.6 498.8L390.3 496.6L391.0 497.1L391.8 493.5L392.5 495.1L393.3 492.6L394.2 491.0L395.1 496.6L395.7 494.7L396.5 499.1L397.6 499.0L398.3 498.8L399.3 500.5L400.3 499.6L401.1 498.7L402.1 498.3L403.1 496.5L403.7 494.3L404.5 493.0L405.3 494.1L406.1 492.9L406.9 497.2L407.6 496.7L408.4 499.5L409.3 502.5L410.2 500.4L411.1 498.7L411.9 498.0L412.8 496.8L413.8 499.5L414.5 498.9L415.1 499.2L416.0 495.8L417.1 498.9L417.9 497.0L418.8 499.7L419.7 503.7L420.6 503.8L421.3 504.1L422.1 505.7L423.2 506.1L423.8 507.5L424.5 508.2L425.6 508.6L426.7 509.9L427.5 510.8L428.3 511.7L429.3 512.4L429.3 512.5Z" fill="#000" stroke="none" clip-path="url(#c12)"/>
<path d="M349.7 507.0L349.7 449.1L349.7 501.3L350.1 508.2L350.2 452.7L350.2 495.6L350.6 512.0L350.6 430.1L350.7 498.8L351.0 508.0L351.0 451.2L351.1 502.6L351.4 505.3L351.4 459.8L351.5 500.6L351.8 511.2L351.9 460.0L351.9 501.0L352.3 512.4L352.3 467.2L352.3 503.6L352.8 503.4L352.8 431.5L352.8 506.1L353.2 500.0L353.2 467.1L353.3 500.7L353.6 509.1L353.6 469.1L353.7 512.4L354.0 512.4L354.1 463.3L354.1 510.0L354.4 505.7L354.5 470.1L354.5 512.0L354.9 500.5L354.9 462.3L355.0 504.9L355.3 501.5L355.3 455.0L355.4 502.6L355.7 499.3L355.8 457.6L355.8 507.8L356.2 504.9L356.2 455.5L356.3 508.9L356.7 506.6L356.7 453.9L356.7 511.8L357.1 508.6L357.2 460.6L357.2 506.5L357.6 512.0L357.6 459.3L357.6 511.0L358.0 500.8L358.1 473.8L358.1 507.4L358.4 501.4L358.5 448.2L358.5 505.6L358.9 509.4L359.0 466.9L359.0 512.2L359.3 504.9L359.3 449.1L359.3 503.7L359.8 501.4L359.8 471.6L359.8 512.4L360.2 511.9L360.3 476.8L360.3 503.7L360.7 505.4L360.8 471.6L360.8 506.9L361.2 501.4L361.3 459.9L361.3 506.3L361.6 506.2L361.7 469.7L361.7 505.5L362.0 504.3L362.0 444.5L362.1 511.4L362.5 508.5L362.6 469.9L362.6 505.8L363.0 498.3L363.1 459.6L363.1 511.8L363.5 501.4L363.5 456.1L363.6 509.0L363.9 505.1L364.0 456.6L364.0 500.4L364.4 498.8L364.4 467.6L364.5 507.2L364.9 499.1L364.9 427.1L364.9 504.7L365.4 505.7L365.4 467.2L365.4 507.6L365.8 505.8L365.9 474.0L365.9 510.4L366.2 511.3L366.3 478.0L366.3 502.7L366.7 505.8L366.8 474.0L366.8 512.0L367.2 505.2L367.3 470.0L367.3 504.7L367.7 509.6L367.8 481.7L367.8 505.1L368.2 504.3L368.2 471.3L368.3 506.8L368.6 504.1L368.6 479.6L368.7 504.3L369.1 509.7L369.2 475.0L369.2 503.6L369.5 503.9L369.6 474.5L369.6 508.1L370.0 505.1L370.0 486.0L370.1 506.6L370.4 511.4L370.4 479.6L370.5 506.1L370.8 506.5L370.9 485.7L370.9 507.8L371.3 512.3L371.3 473.0L371.3 509.6L371.8 505.9L371.8 454.4L371.8 504.7L372.2 507.1L372.3 482.6L372.3 508.7L372.8 507.1L372.8 477.6L372.8 512.1L373.3 506.6L373.3 467.3L373.4 508.1L373.8 509.7L373.8 461.1L373.8 503.2L374.3 508.9L374.3 476.8L374.3 511.6L374.7 506.7L374.8 461.0L374.8 506.6L375.2 510.0L375.2 482.4L375.2 504.5L375.7 508.6L375.7 456.2L375.7 506.2L376.2 506.4L376.2 471.2L376.2 507.9L376.6 511.1L376.7 467.4L376.7 506.5L377.1 508.1L377.1 470.3L377.2 512.1L377.5 511.0L377.6 459.1L377.6 507.1L378.0 511.6L378.1 486.4L378.1 504.5L378.4 508.5L378.5 480.8L378.5 505.9L378.8 509.8L378.9 469.9L378.9 506.3L379.2 509.6L379.3 478.2L379.3 511.2L379.6 507.1L379.7 480.9L379.7 507.9L380.1 510.6L380.2 470.7L380.2 506.7L380.6 507.0L380.7 487.4L380.7 509.0L381.1 511.9L381.2 469.0L381.2 510.8L381.6 511.8L381.7 495.3L381.7 510.3L382.0 512.1L382.1 484.9L382.1 508.5L382.4 510.1L382.5 472.2L382.5 511.2L383.0 511.8L383.0 490.0L383.0 507.3L383.4 510.4L383.4 488.5L383.5 509.7L384.0 511.1L384.0 437.7L384.0 512.4L384.4 506.3L384.5 476.7L384.5 512.1L384.9 509.5L384.9 490.2L385.0 507.6L385.3 507.1L385.4 492.7L385.4 507.8L385.8 506.9L385.9 491.1L385.9 512.2L386.4 508.0L386.4 471.5L386.4 510.3L386.9 507.5L386.9 474.9L387.0 508.0L387.3 510.3L387.3 470.9L387.4 512.2L387.7 509.9L387.7 482.8L387.8 507.5L388.2 508.6L388.2 495.0L388.3 510.5L388.6 508.3L388.7 478.7L388.7 508.8L389.1 510.4L389.2 494.0L389.2 511.6L389.5 510.9L389.6 494.9L389.6 509.9L390.0 509.6L390.0 488.0L390.1 508.8L390.5 508.3L390.5 486.7L390.6 507.3L390.9 508.6L391.0 487.8L391.0 512.1L391.5 507.8L391.5 460.6L391.5 510.7L391.9 507.3L391.9 488.8L392.0 509.1L392.3 511.8L392.3 490.2L392.4 509.7L392.7 508.9L392.7 476.4L392.8 512.2L393.1 507.9L393.1 461.8L393.1 509.5L393.6 507.2L393.6 491.6L393.6 511.7L394.1 506.9L394.1 486.3L394.1 512.2L394.5 510.4L394.5 493.7L394.6 511.5L395.0 507.1L395.0 479.7L395.0 510.4L395.5 509.5L395.5 460.1L395.5 507.5L395.9 510.3L396.0 492.5L396.0 508.9L396.4 510.5L396.5 491.0L396.5 509.3L396.9 509.2L397.0 489.1L397.0 508.2L397.4 508.9L397.5 486.7L397.5 510.7L397.9 509.6L398.0 467.7L398.0 508.8L398.4 510.9L398.5 477.1L398.5 508.3L398.9 510.3L398.9 494.8L398.9 508.4L399.3 510.5L399.3 489.0L399.4 512.2L399.7 510.4L399.8 471.2L399.8 509.7L400.2 508.6L400.2 497.0L400.3 510.4L400.6 509.5L400.7 498.3L400.7 509.0L401.0 508.8L401.1 474.3L401.1 508.5L401.6 508.5L401.6 453.5L401.6 509.3L402.0 508.5L402.0 493.5L402.1 511.0L402.4 509.6L402.5 491.7L402.5 508.2L402.9 511.1L402.9 487.5L402.9 507.8L403.3 509.4L403.4 478.3L403.4 507.9L403.8 509.9L403.8 495.7L403.9 511.7L404.2 512.1L404.2 456.3L404.3 511.5L404.7 509.7L404.7 420.5L404.7 508.3L405.1 512.4L405.2 485.6L405.2 509.7L405.6 510.8L405.6 489.6L405.7 511.3L406.0 508.5L406.0 492.3L406.1 506.8L406.4 511.0L406.4 490.2L406.5 508.9L406.8 512.3L406.8 468.7L406.9 507.4L407.2 508.0L407.2 492.3L407.3 510.4L407.6 510.0L407.7 470.2L407.7 510.9L408.1 508.7L408.1 495.2L408.1 508.8L408.5 510.5L408.6 494.0L408.6 509.8L409.0 511.1L409.0 499.6L409.0 512.4L409.3 509.0L409.4 499.7L409.4 512.1L409.8 509.5L409.8 454.9L409.8 509.1L410.2 509.9L410.3 475.3L410.3 509.7L410.7 510.9L410.7 475.7L410.8 509.1L411.2 511.0L411.2 496.1L411.2 508.8L411.6 509.9L411.7 466.3L411.7 507.7L412.2 509.5L412.2 492.9L412.2 511.4L412.7 512.4L412.8 492.0L412.8 508.3L413.3 512.1L413.4 498.3L413.4 511.1L413.9 509.8L413.9 496.4L414.0 510.5L414.2 510.4L414.2 443.0L414.2 511.3L414.8 511.6L414.8 473.4L414.8 509.7L415.3 510.4L415.3 482.6L415.4 510.2L415.9 510.2L416.0 496.4L416.0 508.1L416.5 508.5L416.6 468.3L416.6 512.0L417.1 509.6L417.1 495.5L417.2 511.9L417.7 510.1L417.8 461.8L417.8 512.3L418.4 508.7L418.4 480.9L418.5 509.0L419.0 508.9L419.0 424.1L419.0 511.0L419.6 508.4L419.6 499.5L419.6 512.2L420.2 508.7L420.3 466.9L420.3 510.1L420.7 506.7" fill="none" stroke="#000" stroke-width="0.72" stroke-linejoin="round" clip-path="url(#c12)"/>
<path d="M420.7 506.7L421.1 489.9L421.4 507.3L421.7 505.4L422.1 461.1L422.4 508.6L422.7 506.6L423.1 500.5L423.4 511.0L423.3 508.5L423.6 459.1L424.0 505.8L424.0 505.6L424.4 492.1L424.8 503.5L425.1 505.6L425.4 491.8L425.8 509.3L425.9 503.3L426.3 450.9L426.7 508.9L426.7 509.1L427.1 474.4L427.4 507.1L427.5 504.2L427.9 463.1L428.3 505.9L428.7 511.2L429.2 471.7L429.6 511.2L429.6 506.4L430.1 464.0L430.5 505.8L430.9 504.6L431.4 467.1L431.8 509.0L432.1 507.6L432.6 476.2L433.0 509.4L433.4 510.7L433.9 442.1L434.4 506.8L434.9 508.3L435.4 504.8L435.9 508.9L436.3 511.2L436.9 473.2L437.4 510.1L437.1 508.7L437.6 487.5L438.2 507.1L438.1 510.6L438.7 450.9L439.3 510.1L439.0 507.5L439.5 478.5L440.1 507.9L440.4 507.9L441.0 465.0L441.6 511.0L442.2 510.5L442.8 481.9L443.5 509.6L443.5 507.2L444.1 460.3L444.8 511.6L444.4 508.9L445.1 490.7L445.8 508.5L445.4 507.9L446.1 502.3L446.8 509.8L446.9 506.9L447.6 501.9L448.3 510.1L449.0 507.2L449.8 480.3L450.5 508.2L450.8 509.2L451.6 464.7L452.4 509.4L453.8 509.7L454.6 464.5L455.4 509.1L455.2 507.5L456.0 486.9L456.8 507.9L456.7 510.7L457.6 468.2L458.4 508.3L458.4 509.3L459.3 450.9L460.2 507.8L460.6 507.5L461.5 489.5L462.4 511.4L462.3 510.7L463.2 470.7L464.1 510.1L464.9 509.5L465.8 463.5L466.8 509.0L468.5 511.2L469.5 454.4L470.5 508.5L470.6 511.1L471.6 503.1L472.6 511.2L472.1 510.4L473.2 472.8L474.2 509.9L474.6 511.4L475.7 472.8L476.7 510.8L476.9 511.4L478.0 500.2L479.1 509.1L478.2 508.1L479.3 460.9L480.4 511.5L480.6 510.3L481.7 508.8L482.8 510.9L482.7 510.6L483.8 470.3L484.9 509.3L485.1 507.5L486.3 490.6L487.4 508.2L487.8 509.2L489.0 485.0L490.1 507.5L489.6 508.2L490.8 462.3L492.0 506.2L493.2 509.0L494.4 483.9L495.6 508.6L495.5 511.2L496.7 476.4L497.9 506.2L497.4 506.5L498.7 484.8L499.9 511.0L501.4 510.8L502.6 495.1L503.9 507.9L503.2 508.1L504.4 485.2L505.6 508.1L504.8 505.3L506.1 497.3L507.4 508.6L507.1 504.3L508.4 494.9L509.7 510.4L510.5 509.0L511.0 506.5L511.5 504.4L512.0 502.6L512.5 501.2L513.0 500.2L513.5 499.5L514.0 499.3L514.5 499.7L515.0 500.9L515.5 502.5L516.0 504.5L516.5 506.6L517.0 508.6L517.5 510.4L518.0 511.7L518.5 512.4L519.0 512.5L519.5 512.2L520.0 511.8L520.5 511.3L521.0 510.6L521.5 509.8L522.0 508.9L522.5 507.2L523.0 504.3L523.5 500.6L524.0 496.8L524.5 493.4L525.0 490.8L525.5 489.6L526.0 491.1L526.5 495.2L527.0 499.3L527.5 501.1L528.0 498.6L528.5 492.7L529.0 484.8L529.5 476.1L530.0 468.1L530.5 462.0L531.0 459.3L531.5 460.2L532.0 463.2L532.5 467.9L533.0 473.8L533.5 480.4L534.0 487.2L534.5 493.8L535.0 499.7L535.5 504.5L536.0 507.6L536.5 508.5L537.0 508.4L537.5 508.1L538.1 507.7L538.6 507.1L539.1 506.5L539.6 505.9L540.1 505.2L540.6 504.7L541.1 504.2L541.6 503.9L542.1 503.7L542.6 503.7L543.1 503.9L543.6 504.1L544.1 504.5L544.6 504.9L545.1 505.5L545.6 506.0L546.1 506.6L546.6 507.3L547.1 507.9L547.6 508.6L548.1 509.2L548.6 509.9L549.1 510.5L549.6 511.0L550.1 511.5L550.6 511.9L551.1 512.2L551.6 512.4L552.1 512.5L552.6 512.5L553.1 512.5L553.6 512.4L554.1 512.4L554.6 512.3L555.1 512.2L555.6 512.1L556.1 512.0L556.6 511.9L557.1 511.7L557.6 511.6L558.1 511.5L558.6 511.3L559.1 511.2L559.6 511.0L560.1 510.9L560.6 510.7L561.1 510.6L561.6 510.5L562.1 510.4L562.6 510.2L563.1 510.1L563.6 510.1L564.1 510.0L564.6 509.9L565.1 509.9L565.6 509.9L566.1 509.9L566.6 510.0L567.1 510.2L567.6 510.5L568.1 510.9L568.6 511.3L569.1 511.7L569.6 512.0L570.1 512.3L570.6 512.5L571.1 512.5L571.6 512.3L572.1 512.0L572.6 511.5L573.1 510.8L573.6 510.0L574.1 509.0L574.6 508.0L575.1 506.8L575.6 505.5L576.1 504.2L576.6 502.8L577.1 501.3L577.6 499.9L578.1 498.4L578.6 496.9L579.1 495.4L579.6 494.0L580.1 492.6L580.6 491.3L581.1 490.0L581.6 488.9L582.1 487.8L582.6 486.8L583.1 486.0L583.6 485.4L584.1 484.9L584.6 484.6L585.1 484.4L585.6 484.5L586.1 484.6L586.6 484.9L587.1 485.2L587.6 485.6L588.1 486.1L588.6 486.6L589.1 487.2L589.6 487.8L590.1 488.5L590.6 489.2L591.1 489.9L591.7 490.6L592.2 491.3L592.7 492.0L593.2 492.7L593.7 493.4L594.2 494.0L594.7 494.5L595.2 495.1L595.7 495.5L596.2 495.9L596.7 496.2L597.2 496.5L597.7 496.8L598.2 497.0L598.7 497.3L599.2 497.5L599.7 497.8L600.2 498.0L600.7 498.3L601.2 498.5L601.7 498.7L602.2 498.9L602.7 499.1L603.2 499.3L603.7 499.5L604.2 499.7L604.7 499.8L605.2 500.0L605.7 500.2L606.2 500.3L606.7 500.5L607.2 500.6L607.7 500.8L608.2 500.9L608.7 501.1L609.2 501.2L609.7 501.4L610.2 501.5L610.7 501.6L611.2 501.8L611.7 501.9L612.2 502.0L612.7 502.2L613.2 502.3L613.7 502.4L614.2 502.5L614.7 502.6L615.2 502.7L615.7 502.8L616.2 502.9L616.7 503.0L617.2 503.1L617.7 503.1L618.2 503.2L618.7 503.3" fill="none" stroke="#000" stroke-width="1.00" stroke-linejoin="round" clip-path="url(#c12)"/>
<rect x="349.40" y="393.10" width="268.90" height="119.40" fill="none" stroke="#000" stroke-width="1.20"/>
<text x="343.70" y="516.90" text-anchor="end" font-size="10.0" textLength="20.9" lengthAdjust="spacingAndGlyphs">0.000</text>
<text x="343.70" y="494.90" text-anchor="end" font-size="10.0" textLength="20.9" lengthAdjust="spacingAndGlyphs">0.025</text>
<text x="343.70" y="472.90" text-anchor="end" font-size="10.0" textLength="20.9" lengthAdjust="spacingAndGlyphs">0.050</text>
<text x="343.70" y="450.90" text-anchor="end" font-size="10.0" textLength="20.9" lengthAdjust="spacingAndGlyphs">0.075</text>
<text x="343.70" y="428.90" text-anchor="end" font-size="10.0" textLength="20.9" lengthAdjust="spacingAndGlyphs">0.100</text>
<text x="343.70" y="406.90" text-anchor="end" font-size="10.0" textLength="20.9" lengthAdjust="spacingAndGlyphs">0.125</text>
<text x="351.49" y="525.70" text-anchor="middle" font-size="10.0">10<tspan dy="-3.6" font-size="7">0</tspan></text>
<text x="408.17" y="525.70" text-anchor="middle" font-size="10.0">10<tspan dy="-3.6" font-size="7">1</tspan></text>
<text x="464.84" y="525.70" text-anchor="middle" font-size="10.0">10<tspan dy="-3.6" font-size="7">2</tspan></text>
<text x="521.51" y="525.70" text-anchor="middle" font-size="10.0">10<tspan dy="-3.6" font-size="7">3</tspan></text>
<text x="578.19" y="525.70" text-anchor="middle" font-size="10.0">10<tspan dy="-3.6" font-size="7">4</tspan></text>
<path d="M349.40 512.50h-3.2M349.40 490.50h-3.2M349.40 468.50h-3.2M349.40 446.50h-3.2M349.40 424.50h-3.2M349.40 402.50h-3.2M351.99 512.50v3.2M369.05 512.50v2.0M379.03 512.50v2.0M386.11 512.50v2.0M391.61 512.50v2.0M396.09 512.50v2.0M399.89 512.50v2.0M403.17 512.50v2.0M406.07 512.50v2.0M408.67 512.50v3.2M425.73 512.50v2.0M435.71 512.50v2.0M442.79 512.50v2.0M448.28 512.50v2.0M452.77 512.50v2.0M456.56 512.50v2.0M459.85 512.50v2.0M462.75 512.50v2.0M465.34 512.50v3.2M482.40 512.50v2.0M492.38 512.50v2.0M499.46 512.50v2.0M504.95 512.50v2.0M509.44 512.50v2.0M513.23 512.50v2.0M516.52 512.50v2.0M519.42 512.50v2.0M522.01 512.50v3.2M539.07 512.50v2.0M549.05 512.50v2.0M556.13 512.50v2.0M561.63 512.50v2.0M566.11 512.50v2.0M569.91 512.50v2.0M573.19 512.50v2.0M576.09 512.50v2.0M578.69 512.50v3.2M595.75 512.50v2.0M605.73 512.50v2.0M612.81 512.50v2.0" stroke="#000" stroke-width="0.95" fill="none"/>
<text x="483.85" y="537.10" text-anchor="middle" font-size="10.0" style="letter-spacing:0.2px">Period (d)</text>
<text transform="translate(317.80 452.80) rotate(-90)" text-anchor="middle" font-size="10.0" style="letter-spacing:0.05px">Normalized power</text>
<text x="615.50" y="403.40" text-anchor="end" font-size="10.0" style="word-spacing:1.1px">FAP = 0.57</text>
<circle cx="404.73" cy="420.65" r="2.1" fill="#f00"/>
<text x="405.33" y="414.15" text-anchor="start" font-size="9.7" class="r">8.521 d</text>
</g>
<g>
<clipPath id="c22"><rect x="668.60" y="393.10" width="268.90" height="119.40"/></clipPath>
<path d="M668.6 512.5L668.6 478.0L669.4 469.9L670.1 466.9L671.1 473.2L672.1 474.1L673.0 474.9L673.8 470.3L674.4 478.8L675.4 477.6L676.4 483.8L677.0 482.5L677.7 484.4L678.6 484.3L679.6 481.5L680.3 482.9L681.2 483.7L681.9 485.7L683.0 481.2L683.9 477.7L684.7 478.9L685.4 481.7L686.3 475.1L687.1 484.2L687.7 482.3L688.7 487.0L689.7 487.6L690.6 488.5L691.7 484.1L692.8 480.8L693.4 480.5L694.5 487.7L695.5 489.7L696.1 486.7L696.9 486.3L697.7 488.4L698.3 486.9L699.3 492.7L700.2 492.1L701.3 490.3L702.3 489.1L703.4 490.9L704.4 492.2L705.4 489.8L706.4 493.5L707.2 496.5L708.2 494.4L709.1 492.3L709.7 492.8L710.5 492.5L711.3 491.4L712.2 491.7L712.9 495.2L713.7 497.1L714.5 497.3L715.5 494.6L716.5 494.7L717.1 493.9L717.7 496.8L718.8 499.0L719.6 501.1L720.7 499.3L721.6 495.6L722.2 496.0L723.1 496.9L723.9 497.7L724.9 500.1L725.8 500.6L726.7 500.4L727.5 498.9L728.1 500.3L729.0 501.1L730.1 503.7L731.0 503.2L732.0 503.4L732.8 503.0L733.7 501.3L734.4 499.0L735.5 499.3L736.3 500.4L737.0 500.1L738.0 498.5L739.0 500.2L739.8 501.6L740.5 502.1L741.3 504.2L742.0 505.2L742.8 506.2L743.9 506.5L744.8 506.5L745.4 507.3L746.1 507.3L747.1 508.0L747.8 508.7L748.8 509.9L749.8 511.0L750.6 511.3L751.2 511.6L751.9 511.6L752.9 512.1L752.9 512.5Z" fill="#000" stroke="none" clip-path="url(#c22)"/>
<path d="M668.9 511.8L668.9 454.3L668.9 502.4L669.4 504.4L669.4 473.1L669.5 506.9L669.9 506.6L669.9 446.1L669.9 500.7L670.3 506.9L670.3 450.8L670.4 499.2L670.9 500.3L670.9 426.8L670.9 507.9L671.3 509.1L671.4 461.7L671.4 506.3L672.0 506.6L672.0 442.9L672.0 508.2L672.4 506.1L672.5 445.3L672.5 511.5L672.9 502.6L673.0 473.9L673.0 500.2L673.4 508.5L673.4 465.0L673.5 503.9L673.8 499.7L673.8 463.2L673.9 501.2L674.3 504.1L674.3 468.8L674.4 509.0L674.7 509.6L674.7 473.4L674.8 510.8L675.1 507.0L675.2 460.6L675.2 502.1L675.6 503.5L675.7 467.1L675.7 510.6L676.1 508.7L676.2 481.3L676.2 507.4L676.6 504.2L676.7 478.5L676.7 503.5L677.0 511.0L677.1 481.8L677.1 508.8L677.4 510.9L677.4 439.4L677.4 511.7L677.8 510.5L677.9 479.3L677.9 506.7L678.2 510.3L678.3 471.4L678.3 509.0L678.7 505.5L678.7 480.8L678.8 503.1L679.2 511.6L679.2 469.2L679.3 507.4L679.6 512.2L679.6 477.2L679.7 510.0L680.0 503.2L680.1 478.8L680.1 512.3L680.5 509.4L680.6 477.8L680.6 509.0L680.9 510.7L681.0 478.1L681.0 511.8L681.3 505.9L681.4 453.7L681.4 511.3L681.8 504.7L681.9 477.8L681.9 503.6L682.3 511.0L682.3 479.2L682.3 508.5L682.7 504.0L682.7 477.1L682.8 503.7L683.1 505.2L683.1 452.8L683.2 503.6L683.6 505.2L683.6 476.1L683.7 508.0L684.0 505.2L684.1 450.8L684.1 505.3L684.5 504.0L684.5 474.3L684.5 501.9L684.9 504.7L684.9 457.7L684.9 503.5L685.4 502.3L685.4 468.7L685.4 502.0L685.7 512.3L685.8 468.1L685.8 502.2L686.2 511.4L686.2 453.9L686.2 507.1L686.5 507.2L686.6 449.1L686.6 506.6L687.0 506.1L687.0 472.8L687.1 504.1L687.5 503.8L687.5 479.6L687.6 509.5L687.9 510.9L688.0 475.9L688.0 509.4L688.4 507.1L688.4 486.1L688.4 504.3L688.7 511.4L688.8 467.4L688.8 510.1L689.2 506.6L689.2 488.3L689.3 508.0L689.6 511.7L689.6 488.5L689.7 510.6L690.0 510.8L690.0 482.8L690.1 511.1L690.5 510.6L690.5 481.6L690.5 504.3L690.9 512.1L691.0 471.1L691.0 512.3L691.4 512.1L691.4 458.8L691.5 505.6L691.8 504.8L691.9 478.0L691.9 504.8L692.3 512.1L692.3 478.7L692.3 509.3L692.6 510.3L692.7 463.3L692.7 505.3L693.1 511.7L693.1 453.8L693.1 504.4L693.6 503.1L693.6 482.5L693.6 508.8L694.0 504.5L694.1 482.1L694.1 507.1L694.4 512.1L694.5 471.2L694.5 503.8L694.9 511.3L694.9 453.1L695.0 508.9L695.4 510.0L695.4 483.4L695.5 512.1L695.9 504.8L695.9 476.5L695.9 508.2L696.3 509.4L696.4 484.9L696.4 505.7L696.8 505.9L696.9 481.2L696.9 504.1L697.3 505.1L697.4 467.4L697.4 511.4L697.8 507.0L697.8 485.6L697.9 506.9L698.2 510.4L698.3 481.1L698.3 505.3L698.6 512.3L698.7 477.6L698.7 509.5L699.1 511.0L699.2 488.0L699.2 506.0L699.6 511.8L699.7 476.9L699.7 511.1L700.1 510.7L700.1 485.2L700.1 508.0L700.5 505.6L700.6 487.4L700.6 508.8L700.9 505.4L700.9 455.9L700.9 512.0L701.3 512.0L701.3 489.0L701.4 509.4L701.7 507.0L701.8 486.6L701.8 512.4L702.2 510.8L702.3 484.7L702.3 512.0L702.7 507.5L702.7 489.3L702.8 511.5L703.2 510.6L703.2 490.3L703.3 506.1L703.6 506.8L703.6 489.3L703.6 507.5L704.0 508.7L704.0 489.4L704.1 506.3L704.4 507.0L704.4 485.4L704.5 506.8L704.9 510.2L704.9 486.8L705.0 505.5L705.3 507.8L705.4 484.7L705.4 511.6L705.7 506.4L705.7 420.5L705.8 505.7L706.1 506.4L706.2 492.1L706.2 510.4L706.5 512.1L706.6 491.5L706.6 510.3L706.9 507.6L707.0 490.4L707.0 509.1L707.4 509.5L707.5 456.2L707.5 507.7L707.9 507.2L707.9 494.3L707.9 511.9L708.3 509.0L708.3 463.7L708.4 508.5L708.8 511.5L708.8 478.6L708.8 510.6L709.2 509.7L709.2 467.8L709.3 510.4L709.6 509.4L709.7 487.1L709.7 508.4L710.1 511.0L710.1 468.4L710.2 509.7L710.5 508.1L710.6 487.8L710.6 509.5L711.0 506.1L711.1 483.6L711.1 509.0L711.5 507.2L711.6 490.7L711.6 507.1L712.0 512.1L712.0 482.3L712.0 507.6L712.3 510.2L712.4 485.3L712.4 512.0L712.8 507.7L712.8 488.8L712.9 510.5L713.3 508.5L713.3 493.2L713.3 508.8L713.7 510.6L713.7 483.6L713.7 509.5L714.1 508.5L714.2 470.1L714.2 512.1L714.6 510.5L714.6 493.6L714.7 511.0L715.1 507.0L715.1 490.7L715.2 512.2L715.5 508.9L715.6 489.9L715.6 510.2L716.0 511.3L716.1 465.3L716.1 508.3L716.4 509.6L716.5 465.9L716.5 510.6L716.9 509.5L717.0 487.3L717.0 507.9L717.4 507.1L717.5 487.5L717.5 512.5L717.9 510.7L717.9 484.0L717.9 509.1L718.3 510.4L718.3 493.1L718.4 511.3L718.7 509.9L718.7 493.2L718.8 510.6L719.1 512.4L719.1 492.5L719.2 509.7L719.6 509.9L719.6 478.5L719.7 510.5L720.0 508.5L720.1 468.1L720.1 510.3L720.4 508.5L720.5 475.5L720.5 511.8L720.9 510.6L720.9 492.6L721.0 512.4L721.4 511.1L721.4 454.9L721.4 510.0L721.8 511.1L721.8 480.3L721.9 512.3L722.2 507.6L722.3 490.1L722.3 511.8L722.7 509.2L722.7 468.1L722.8 509.4L723.2 508.0L723.2 494.4L723.2 510.9L723.6 510.5L723.6 491.3L723.7 509.9L724.1 510.8L724.1 493.8L724.2 510.2L724.5 510.6L724.6 481.2L724.6 509.0L725.0 508.7L725.0 498.2L725.0 509.6L725.4 508.8L725.5 493.8L725.5 511.6L725.8 509.3L725.8 473.5L725.9 509.5L726.3 510.5L726.3 495.9L726.4 511.4L726.7 510.5L726.7 492.6L726.8 512.3L727.2 508.2L727.2 494.7L727.3 512.0L727.6 508.8L727.6 499.6L727.7 509.7L728.1 511.0L728.1 496.9L728.2 510.2L728.5 512.2L728.5 488.2L728.6 512.0L729.0 509.5L729.0 491.3L729.1 509.6L729.5 509.7L729.6 493.9L729.6 512.1L730.0 511.4L730.0 487.0L730.1 509.6L730.4 510.9L730.4 502.2L730.5 512.4L730.9 510.0L731.0 503.6L731.0 511.0L731.4 511.9L731.5 475.6L731.5 511.7L732.0 510.6L732.0 467.3L732.1 510.3L732.7 510.1L732.7 456.9L732.7 512.5L733.2 511.1L733.3 495.3L733.3 512.3L733.8 511.9L733.8 477.1L733.8 511.0L734.3 511.3L734.3 494.1L734.3 509.6L734.9 508.5L734.9 486.8L734.9 511.4L735.4 509.9L735.4 490.6L735.5 509.2L735.9 510.0L736.0 496.5L736.0 508.9L736.6 510.9L736.7 488.4L736.7 509.7L737.2 507.8L737.3 485.8L737.3 509.3L737.8 509.0L737.9 484.6L737.9 512.5L738.5 510.5L738.6 496.9L738.6 511.4L739.2 510.2L739.3 483.5L739.3 510.1L739.5 510.9" fill="none" stroke="#000" stroke-width="0.72" stroke-linejoin="round" clip-path="url(#c22)"/>
<path d="M739.5 510.9L739.9 493.0L740.2 508.6L740.4 509.3L740.8 477.9L741.1 506.5L741.3 506.4L741.6 465.9L742.0 509.6L742.2 510.9L742.5 494.1L742.9 506.4L743.3 506.9L743.6 490.9L744.0 507.6L743.8 511.4L744.2 471.4L744.5 511.4L745.0 511.1L745.3 479.9L745.7 506.1L745.5 507.7L745.9 473.9L746.3 508.8L746.2 506.9L746.6 454.9L747.0 508.3L746.8 507.4L747.2 479.9L747.6 509.5L747.5 509.1L747.9 468.0L748.3 507.8L748.6 510.4L749.0 499.0L749.5 509.7L749.8 508.9L750.2 491.0L750.6 510.5L750.9 511.1L751.4 491.1L751.9 511.3L751.6 508.8L752.1 482.5L752.6 508.2L752.5 510.1L753.0 490.5L753.5 510.4L754.0 505.3L754.6 476.7L755.1 510.6L754.7 510.8L755.3 502.2L755.8 507.7L755.9 505.3L756.5 474.8L757.0 507.7L757.2 506.1L757.8 501.3L758.4 509.6L758.3 509.0L758.9 492.2L759.5 508.2L759.6 508.0L760.2 478.8L760.8 508.6L760.7 510.5L761.3 465.8L761.9 510.2L761.9 509.9L762.6 487.5L763.3 510.2L764.0 509.9L764.7 498.3L765.4 511.5L765.9 509.9L766.6 492.7L767.4 511.3L768.1 508.2L768.9 504.0L769.6 510.0L769.5 508.0L770.3 504.1L771.1 506.7L770.8 507.1L771.6 480.7L772.5 508.0L771.7 510.5L772.6 475.7L773.5 511.3L773.0 508.2L773.9 480.3L774.8 508.5L774.3 509.3L775.2 496.6L776.1 509.5L775.7 510.7L776.6 508.6L777.5 510.8L777.4 508.2L778.4 495.8L779.3 510.8L778.9 508.0L779.9 471.8L780.9 510.2L780.3 509.4L781.3 487.7L782.3 510.1L782.9 509.1L783.9 497.1L785.0 508.6L785.3 509.3L786.3 492.3L787.4 510.1L787.7 509.3L788.8 483.7L789.9 508.7L789.4 508.7L790.5 501.8L791.6 509.8L790.8 511.5L792.0 481.4L793.1 511.0L794.2 509.3L795.4 493.1L796.5 508.0L795.7 509.2L796.9 478.2L798.1 509.5L797.4 509.4L798.6 472.8L799.8 508.2L800.4 507.4L801.6 502.4L802.8 506.6L803.0 508.0L804.2 477.2L805.4 508.6L805.7 508.4L807.0 487.4L808.2 510.3L807.5 510.8L808.8 494.7L810.0 509.7L811.3 511.2L812.6 483.4L813.8 511.6L815.2 506.3L816.4 472.8L817.6 510.4L817.1 507.5L818.4 493.2L819.7 508.9L820.5 508.4L821.8 480.7L823.2 507.0L822.7 506.6L823.9 478.1L825.1 506.7L824.7 506.8L826.1 495.7L827.5 510.5L829.5 508.5L830.0 499.1L830.5 499.7L831.0 501.2L831.5 503.3L832.0 505.8L832.5 508.3L833.0 510.4L833.5 511.9L834.0 512.5L834.5 512.5L835.0 512.5L835.5 512.5L836.0 512.5L836.5 512.5L837.0 512.5L837.5 512.1L838.0 511.2L838.5 510.2L839.0 509.6L839.5 509.7L840.0 510.3L840.5 511.1L841.0 511.5L841.5 510.4L842.0 507.6L842.5 504.0L843.0 500.7L843.5 498.4L844.0 498.1L844.5 499.4L845.0 501.6L845.5 503.9L846.0 505.8L846.5 506.5L847.0 505.9L847.5 504.6L848.0 503.1L848.5 502.3L849.0 502.5L849.5 503.5L850.0 504.9L850.5 506.7L851.0 508.5L851.5 510.2L852.0 511.5L852.5 512.4L853.0 512.5L853.5 512.5L854.0 512.5L854.5 512.5L855.0 512.5L855.5 512.5L856.0 512.5L856.5 511.8L857.0 510.0L857.5 507.5L858.0 504.5L858.5 501.5L859.0 498.8L859.5 496.9L860.0 495.9L860.5 496.2L861.0 496.9L861.5 496.9L862.0 495.3L862.5 492.0L863.0 487.5L863.5 482.1L864.0 476.1L864.5 469.8L865.0 463.6L865.5 457.8L866.0 452.7L866.5 448.7L867.0 446.0L867.5 445.0L868.0 445.6L868.5 447.2L869.0 449.7L869.5 452.9L870.0 456.5L870.5 460.3L871.0 464.3L871.5 468.2L872.0 471.8L872.5 475.0L873.0 477.6L873.5 480.2L874.0 482.7L874.5 485.2L875.0 487.6L875.5 489.8L876.0 491.9L876.5 493.7L877.0 495.2L877.5 496.6L878.0 497.9L878.5 499.1L879.0 500.3L879.5 501.4L880.0 502.5L880.5 503.4L881.0 504.4L881.5 505.2L882.0 506.0L882.5 506.7L883.0 507.3L883.5 507.9L884.0 508.4L884.5 509.0L885.0 509.6L885.5 510.1L886.0 510.6L886.5 511.0L887.0 511.5L887.5 511.8L888.0 512.1L888.5 512.3L889.0 512.5L889.5 512.5L890.0 512.5L890.5 512.4L891.0 512.3L891.5 512.1L892.0 511.9L892.5 511.6L893.0 511.4L893.5 511.1L894.0 510.8L894.5 510.5L895.0 510.2L895.5 509.9L896.0 509.6L896.5 509.3L897.0 509.0L897.5 508.8L898.0 508.6L898.5 508.4L899.0 508.2L899.5 508.2L900.0 508.1L900.5 508.1L901.0 508.1L901.5 508.1L902.0 508.1L902.5 508.1L903.0 508.1L903.5 508.1L904.0 508.1L904.5 508.1L905.0 508.1L905.5 508.1L906.0 508.1L906.5 508.1L907.0 508.1L907.5 508.0L908.0 508.0L908.5 508.0L909.0 508.0L909.5 508.0L910.0 508.0L910.5 508.0L911.0 508.0L911.5 508.0L912.0 508.0L912.5 508.0L913.0 508.0L913.5 508.0L914.0 508.0L914.5 508.0L915.0 508.0L915.5 508.0L916.0 508.0L916.5 508.0L917.0 508.0L917.5 508.0L918.0 508.0L918.5 508.0L919.0 508.0L919.5 508.0L920.0 508.0L920.5 508.0L921.0 508.0L921.5 508.0L922.0 508.0L922.5 508.0L923.0 508.0L923.5 508.0L924.0 507.9L924.5 507.9L925.0 507.9L925.5 507.9L926.0 507.9L926.5 507.9L927.0 507.9L927.5 507.9L928.0 507.9L928.5 507.9L929.0 507.9L929.5 507.9L930.0 507.9L930.5 507.9L931.0 507.9L931.5 507.9L932.0 507.9L932.5 507.9L933.0 507.9L933.5 507.9L934.0 507.9L934.5 507.9L935.0 507.9L935.5 507.9L936.0 507.9L936.5 507.9L937.0 507.9L937.5 507.9L938.0 507.9" fill="none" stroke="#000" stroke-width="1.00" stroke-linejoin="round" clip-path="url(#c22)"/>
<rect x="668.60" y="393.10" width="268.90" height="119.40" fill="none" stroke="#000" stroke-width="1.20"/>
<text x="662.90" y="516.90" text-anchor="end" font-size="10.0" textLength="20.9" lengthAdjust="spacingAndGlyphs">0.000</text>
<text x="662.90" y="492.06" text-anchor="end" font-size="10.0" textLength="20.9" lengthAdjust="spacingAndGlyphs">0.025</text>
<text x="662.90" y="467.22" text-anchor="end" font-size="10.0" textLength="20.9" lengthAdjust="spacingAndGlyphs">0.050</text>
<text x="662.90" y="442.38" text-anchor="end" font-size="10.0" textLength="20.9" lengthAdjust="spacingAndGlyphs">0.075</text>
<text x="662.90" y="417.54" text-anchor="end" font-size="10.0" textLength="20.9" lengthAdjust="spacingAndGlyphs">0.100</text>
<text x="670.69" y="525.70" text-anchor="middle" font-size="10.0">10<tspan dy="-3.6" font-size="7">0</tspan></text>
<text x="727.37" y="525.70" text-anchor="middle" font-size="10.0">10<tspan dy="-3.6" font-size="7">1</tspan></text>
<text x="784.04" y="525.70" text-anchor="middle" font-size="10.0">10<tspan dy="-3.6" font-size="7">2</tspan></text>
<text x="840.71" y="525.70" text-anchor="middle" font-size="10.0">10<tspan dy="-3.6" font-size="7">3</tspan></text>
<text x="897.39" y="525.70" text-anchor="middle" font-size="10.0">10<tspan dy="-3.6" font-size="7">4</tspan></text>
<path d="M668.60 512.50h-3.2M668.60 487.66h-3.2M668.60 462.82h-3.2M668.60 437.98h-3.2M668.60 413.14h-3.2M671.19 512.50v3.2M688.25 512.50v2.0M698.23 512.50v2.0M705.31 512.50v2.0M710.81 512.50v2.0M715.29 512.50v2.0M719.09 512.50v2.0M722.37 512.50v2.0M725.27 512.50v2.0M727.87 512.50v3.2M744.93 512.50v2.0M754.91 512.50v2.0M761.99 512.50v2.0M767.48 512.50v2.0M771.97 512.50v2.0M775.76 512.50v2.0M779.05 512.50v2.0M781.95 512.50v2.0M784.54 512.50v3.2M801.60 512.50v2.0M811.58 512.50v2.0M818.66 512.50v2.0M824.15 512.50v2.0M828.64 512.50v2.0M832.43 512.50v2.0M835.72 512.50v2.0M838.62 512.50v2.0M841.21 512.50v3.2M858.27 512.50v2.0M868.25 512.50v2.0M875.33 512.50v2.0M880.83 512.50v2.0M885.31 512.50v2.0M889.11 512.50v2.0M892.39 512.50v2.0M895.29 512.50v2.0M897.89 512.50v3.2M914.95 512.50v2.0M924.93 512.50v2.0M932.01 512.50v2.0" stroke="#000" stroke-width="0.95" fill="none"/>
<text x="803.05" y="537.10" text-anchor="middle" font-size="10.0" style="letter-spacing:0.2px">Period (d)</text>
<text transform="translate(637.00 452.80) rotate(-90)" text-anchor="middle" font-size="10.0" style="letter-spacing:0.05px">Normalized power</text>
<text x="930.00" y="403.40" text-anchor="end" font-size="10.0" style="word-spacing:1.1px">FAP = 0.1</text>
<circle cx="705.73" cy="420.65" r="2.1" fill="#f00"/>
<text x="706.33" y="414.15" text-anchor="start" font-size="9.7" class="r">4.069 d</text>
</g>
</svg>
</body></html>
